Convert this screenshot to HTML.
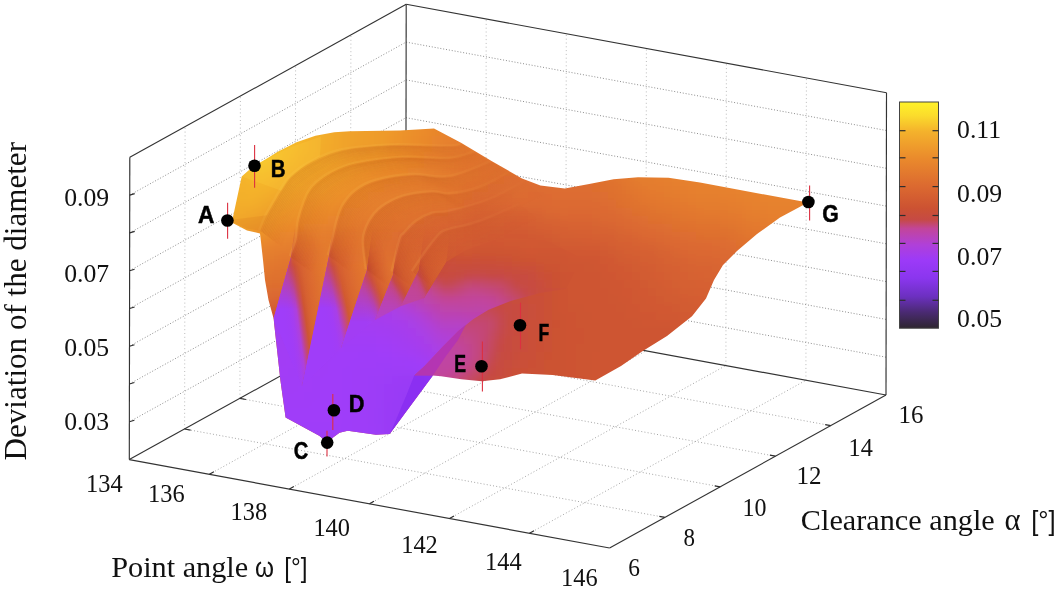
<!DOCTYPE html>
<html><head><meta charset="utf-8"><title>Surface plot</title>
<style>
html,body{margin:0;padding:0;background:#fff;}
body{width:1061px;height:590px;overflow:hidden;}
svg{display:block;}
.ax{stroke:#333;stroke-width:1.15;fill:none;}
.tk{stroke:#2e2e2e;stroke-width:1.2;fill:none;}
.gr{stroke:#b4b4b4;stroke-width:0.9;stroke-dasharray:1 2.8;fill:none;}
.gh{stroke:#8e8e8e;stroke-width:1;stroke-dasharray:1 1.9;fill:none;}
.gf{stroke:#9c9c9c;stroke-width:0.9;stroke-dasharray:1 2.2;fill:none;}
.se{font-family:"Liberation Serif",serif;fill:#111;}
.sa{font-family:"Liberation Sans",sans-serif;fill:#111;}
.lb{font-family:"Liberation Sans",sans-serif;font-weight:bold;fill:#000;font-size:23.5px;stroke:#000;stroke-width:0.5px;}
.eb{stroke:#dc3040;stroke-width:1.1;}
</style></head><body>
<svg width="1061" height="590" viewBox="0 0 1061 590">
<rect width="1061" height="590" fill="#ffffff"/>
<g><line x1="129.4" y1="421.8" x2="405.8" y2="268.8" class="gh"/><line x1="405.8" y1="268.8" x2="886.1" y2="357.2" class="gh"/><line x1="129.4" y1="384.0" x2="405.8" y2="231.0" class="gh"/><line x1="405.8" y1="231.0" x2="886.1" y2="319.4" class="gh"/><line x1="129.5" y1="346.2" x2="405.9" y2="193.2" class="gh"/><line x1="405.9" y1="193.2" x2="886.2" y2="281.6" class="gh"/><line x1="129.6" y1="308.5" x2="405.9" y2="155.5" class="gh"/><line x1="405.9" y1="155.5" x2="886.2" y2="243.8" class="gh"/><line x1="129.6" y1="270.7" x2="406.0" y2="117.7" class="gh"/><line x1="406.0" y1="117.7" x2="886.3" y2="206.1" class="gh"/><line x1="129.7" y1="232.9" x2="406.1" y2="79.9" class="gh"/><line x1="406.1" y1="79.9" x2="886.4" y2="168.3" class="gh"/><line x1="129.7" y1="195.1" x2="406.1" y2="42.1" class="gh"/><line x1="406.1" y1="42.1" x2="886.4" y2="130.5" class="gh"/><line x1="184.6" y1="429.0" x2="185.1" y2="126.7" class="gr"/><line x1="184.6" y1="429.0" x2="664.9" y2="517.4" class="gf"/><line x1="239.9" y1="398.4" x2="240.4" y2="96.1" class="gr"/><line x1="239.9" y1="398.4" x2="720.2" y2="486.8" class="gf"/><line x1="295.1" y1="367.8" x2="295.6" y2="65.5" class="gr"/><line x1="295.1" y1="367.8" x2="775.4" y2="456.2" class="gf"/><line x1="350.4" y1="337.2" x2="350.9" y2="34.9" class="gr"/><line x1="350.4" y1="337.2" x2="830.7" y2="425.6" class="gf"/><line x1="485.8" y1="321.3" x2="486.2" y2="19.0" class="gr"/><line x1="209.4" y1="474.3" x2="485.8" y2="321.3" class="gf"/><line x1="565.8" y1="336.1" x2="566.3" y2="33.8" class="gr"/><line x1="289.4" y1="489.1" x2="565.8" y2="336.1" class="gf"/><line x1="645.9" y1="350.8" x2="646.4" y2="48.5" class="gr"/><line x1="369.5" y1="503.8" x2="645.9" y2="350.8" class="gf"/><line x1="725.9" y1="365.5" x2="726.4" y2="63.2" class="gr"/><line x1="449.5" y1="518.5" x2="725.9" y2="365.5" class="gf"/><line x1="805.9" y1="380.3" x2="806.4" y2="78.0" class="gr"/><line x1="529.5" y1="533.3" x2="805.9" y2="380.3" class="gf"/></g>
<g><line x1="129.3" y1="459.6" x2="405.7" y2="306.6" class="ax"/><line x1="405.7" y1="306.6" x2="886.0" y2="395.0" class="ax"/><line x1="405.7" y1="306.6" x2="406.2" y2="4.3" class="ax"/><line x1="129.8" y1="157.3" x2="406.2" y2="4.3" class="ax"/><line x1="406.2" y1="4.3" x2="886.5" y2="92.7" class="ax"/><line x1="886.0" y1="395.0" x2="886.5" y2="92.7" class="ax"/><line x1="129.3" y1="459.6" x2="129.8" y2="157.3" class="ax"/><line x1="129.3" y1="459.6" x2="609.6" y2="548.0" class="ax"/><line x1="609.6" y1="548.0" x2="886.0" y2="395.0" class="ax"/><line x1="129.4" y1="421.8" x2="134.4" y2="420.3" class="tk"/><line x1="129.4" y1="384.0" x2="134.4" y2="382.5" class="tk"/><line x1="129.5" y1="346.2" x2="134.5" y2="344.7" class="tk"/><line x1="129.6" y1="308.5" x2="134.6" y2="307.0" class="tk"/><line x1="129.6" y1="270.7" x2="134.6" y2="269.2" class="tk"/><line x1="129.7" y1="232.9" x2="134.7" y2="231.4" class="tk"/><line x1="129.7" y1="195.1" x2="134.7" y2="193.6" class="tk"/><line x1="209.4" y1="474.3" x2="213.9" y2="471.8" class="tk"/><line x1="289.4" y1="489.1" x2="293.9" y2="486.6" class="tk"/><line x1="369.5" y1="503.8" x2="374.0" y2="501.3" class="tk"/><line x1="449.5" y1="518.5" x2="454.0" y2="516.0" class="tk"/><line x1="529.5" y1="533.3" x2="534.0" y2="530.8" class="tk"/><line x1="664.9" y1="517.4" x2="659.4" y2="516.4" class="tk"/><line x1="184.6" y1="429.0" x2="190.6" y2="430.1" class="tk"/><line x1="720.2" y1="486.8" x2="714.7" y2="485.8" class="tk"/><line x1="239.9" y1="398.4" x2="245.9" y2="399.5" class="tk"/><line x1="775.4" y1="456.2" x2="769.9" y2="455.2" class="tk"/><line x1="295.1" y1="367.8" x2="301.1" y2="368.9" class="tk"/><line x1="830.7" y1="425.6" x2="825.2" y2="424.6" class="tk"/><line x1="350.4" y1="337.2" x2="356.4" y2="338.3" class="tk"/></g>
<defs><clipPath id="oc"><path d="M227.5 220.3 L232.5 219.3 L241.7 176.6 L250.8 168.5 L254.5 165.8 L267.0 158.5 L277.7 151.8 L296.5 142.3 L315.4 135.7 L334.3 132.3 L349.7 131.2 L400.0 130.5 L434.0 128.5 L461.0 142.7 L491.5 161.0 L522.0 178.5 L540.4 185.5 L564.8 188.5 L589.2 183.9 L613.6 179.3 L638.0 177.2 L668.5 177.8 L700.0 182.4 L736.0 189.3 L808.0 202.6 L780.0 217.5 L757.0 234.0 L737.0 251.0 L723.0 265.0 L714.0 280.0 L706.0 298.6 L692.0 316.2 L667.0 336.0 L642.0 351.5 L621.0 366.0 L595.3 380.6 L552.6 375.1 L522.0 373.6 L500.0 379.3 L481.7 381.3 L461.3 379.3 L441.0 376.3 L432.9 375.4 L389.7 433.9 L376.0 434.8 L347.7 430.7 L339.5 432.7 L326.9 441.9 L319.2 435.8 L285.6 417.5 L280.5 380.9 L273.6 318.6 L268.5 300.0 L265.0 280.0 L263.0 260.0 L261.0 242.0 L260.0 233.5 L247.0 230.5 Z"/></clipPath><clipPath id="vc"><path d="M273.6 318.6 L291.0 257.0 L302.0 386.0 L329.0 256.0 L341.0 348.0 L367.0 270.0 L375.0 320.0 L393.0 275.0 L401.0 306.0 L419.0 270.0 L424.0 298.0 L446.0 262.0 L466.0 250.0 L500.0 238.0 L545.0 240.0 L582.0 258.0 L566.0 289.0 L540.0 293.0 L511.5 300.7 L488.6 309.8 L473.4 319.0 L458.1 331.2 L442.9 346.4 L424.6 366.0 L414.2 375.4 L440.0 376.0 L392.0 440.0 L380.0 445.0 L326.9 448.0 L280.0 425.0 L275.0 381.0 Z"/></clipPath><filter id="bl" x="-5%" y="-5%" width="110%" height="110%"><feGaussianBlur stdDeviation="3"/></filter><linearGradient id="q0" gradientUnits="userSpaceOnUse" x1="274.5" y1="325.1" x2="337.4" y2="316.3"><stop offset="0.000" stop-color="#a03df9"/><stop offset="0.062" stop-color="#a03df9"/><stop offset="0.125" stop-color="#a03df9"/><stop offset="0.188" stop-color="#a03df8"/><stop offset="0.250" stop-color="#a13df6"/><stop offset="0.312" stop-color="#a53eef"/><stop offset="0.375" stop-color="#af40da"/><stop offset="0.438" stop-color="#c3477a"/><stop offset="0.500" stop-color="#ce5532"/><stop offset="0.562" stop-color="#d66131"/><stop offset="0.625" stop-color="#da6730"/><stop offset="0.688" stop-color="#dd6b30"/><stop offset="0.750" stop-color="#de702f"/><stop offset="0.812" stop-color="#e0742f"/><stop offset="0.875" stop-color="#e2772e"/><stop offset="0.938" stop-color="#e47b2e"/><stop offset="1.000" stop-color="#e57f2d"/></linearGradient><linearGradient id="q0h" gradientUnits="userSpaceOnUse" x1="274.5" y1="325.1" x2="337.4" y2="316.3"><stop offset="0.000" stop-color="#c3468f"/><stop offset="0.062" stop-color="#c3468f"/><stop offset="0.125" stop-color="#c3468f"/><stop offset="0.188" stop-color="#c3468e"/><stop offset="0.250" stop-color="#c34689"/><stop offset="0.312" stop-color="#c3477a"/><stop offset="0.375" stop-color="#c6494e"/><stop offset="0.438" stop-color="#cb5135"/><stop offset="0.500" stop-color="#d25b31"/><stop offset="0.562" stop-color="#d76331"/><stop offset="0.625" stop-color="#da6830"/><stop offset="0.688" stop-color="#dd6c30"/><stop offset="0.750" stop-color="#de702f"/><stop offset="0.812" stop-color="#e0742f"/><stop offset="0.875" stop-color="#e2772e"/><stop offset="0.938" stop-color="#e47b2e"/><stop offset="1.000" stop-color="#e57f2d"/></linearGradient><linearGradient id="mh0" gradientUnits="userSpaceOnUse" x1="0" y1="263.0" x2="0" y2="309.0"><stop offset="0" stop-color="#fff"/><stop offset="1" stop-color="#000"/></linearGradient><mask id="qh0" maskUnits="userSpaceOnUse" x="200" y="100" width="400" height="400"><rect x="200" y="100" width="400" height="400" fill="url(#mh0)"/></mask><linearGradient id="q1" gradientUnits="userSpaceOnUse" x1="286.9" y1="312.7" x2="372.2" y2="295.0"><stop offset="0.000" stop-color="#a03df9"/><stop offset="0.062" stop-color="#a03df9"/><stop offset="0.125" stop-color="#a03df9"/><stop offset="0.188" stop-color="#a03df9"/><stop offset="0.250" stop-color="#a03df9"/><stop offset="0.312" stop-color="#a03df9"/><stop offset="0.375" stop-color="#a03df9"/><stop offset="0.438" stop-color="#a03df8"/><stop offset="0.500" stop-color="#a23df5"/><stop offset="0.562" stop-color="#a93fe6"/><stop offset="0.625" stop-color="#c3468e"/><stop offset="0.688" stop-color="#d15931"/><stop offset="0.750" stop-color="#d86530"/><stop offset="0.812" stop-color="#dc6b30"/><stop offset="0.875" stop-color="#df702f"/><stop offset="0.938" stop-color="#e1752f"/><stop offset="1.000" stop-color="#e37a2e"/></linearGradient><linearGradient id="q1h" gradientUnits="userSpaceOnUse" x1="286.9" y1="312.7" x2="372.2" y2="295.0"><stop offset="0.000" stop-color="#c3468f"/><stop offset="0.062" stop-color="#c3468f"/><stop offset="0.125" stop-color="#c3468f"/><stop offset="0.188" stop-color="#c3468f"/><stop offset="0.250" stop-color="#c3468f"/><stop offset="0.312" stop-color="#c3468f"/><stop offset="0.375" stop-color="#c3468f"/><stop offset="0.438" stop-color="#c3468e"/><stop offset="0.500" stop-color="#c34688"/><stop offset="0.562" stop-color="#c44867"/><stop offset="0.625" stop-color="#ca5037"/><stop offset="0.688" stop-color="#d45e31"/><stop offset="0.750" stop-color="#d96530"/><stop offset="0.812" stop-color="#dc6b30"/><stop offset="0.875" stop-color="#df702f"/><stop offset="0.938" stop-color="#e1752f"/><stop offset="1.000" stop-color="#e37a2e"/></linearGradient><linearGradient id="mh1" gradientUnits="userSpaceOnUse" x1="0" y1="262.0" x2="0" y2="308.0"><stop offset="0" stop-color="#fff"/><stop offset="1" stop-color="#000"/></linearGradient><mask id="qh1" maskUnits="userSpaceOnUse" x="200" y="100" width="400" height="400"><rect x="200" y="100" width="400" height="400" fill="url(#mh1)"/></mask><linearGradient id="q2" gradientUnits="userSpaceOnUse" x1="329.2" y1="308.6" x2="397.0" y2="288.3"><stop offset="0.000" stop-color="#a23df4"/><stop offset="0.062" stop-color="#a23df4"/><stop offset="0.125" stop-color="#a23df4"/><stop offset="0.188" stop-color="#a23df4"/><stop offset="0.250" stop-color="#a23df4"/><stop offset="0.312" stop-color="#a23df4"/><stop offset="0.375" stop-color="#a23df4"/><stop offset="0.438" stop-color="#a23df4"/><stop offset="0.500" stop-color="#a33ef3"/><stop offset="0.562" stop-color="#a53eee"/><stop offset="0.625" stop-color="#ad3fde"/><stop offset="0.688" stop-color="#c24596"/><stop offset="0.750" stop-color="#ce5532"/><stop offset="0.812" stop-color="#d66231"/><stop offset="0.875" stop-color="#db6830"/><stop offset="0.938" stop-color="#dd6d30"/><stop offset="1.000" stop-color="#df722f"/></linearGradient><linearGradient id="q2h" gradientUnits="userSpaceOnUse" x1="329.2" y1="308.6" x2="397.0" y2="288.3"><stop offset="0.000" stop-color="#c3468f"/><stop offset="0.062" stop-color="#c3468f"/><stop offset="0.125" stop-color="#c3468f"/><stop offset="0.188" stop-color="#c3468f"/><stop offset="0.250" stop-color="#c3468f"/><stop offset="0.312" stop-color="#c3468f"/><stop offset="0.375" stop-color="#c3468f"/><stop offset="0.438" stop-color="#c3468f"/><stop offset="0.500" stop-color="#c3468c"/><stop offset="0.562" stop-color="#c34683"/><stop offset="0.625" stop-color="#c5485f"/><stop offset="0.688" stop-color="#ca4f39"/><stop offset="0.750" stop-color="#d25b31"/><stop offset="0.812" stop-color="#d86331"/><stop offset="0.875" stop-color="#db6930"/><stop offset="0.938" stop-color="#dd6d30"/><stop offset="1.000" stop-color="#df722f"/></linearGradient><linearGradient id="mh2" gradientUnits="userSpaceOnUse" x1="0" y1="276.0" x2="0" y2="322.0"><stop offset="0" stop-color="#fff"/><stop offset="1" stop-color="#000"/></linearGradient><mask id="qh2" maskUnits="userSpaceOnUse" x="200" y="100" width="400" height="400"><rect x="200" y="100" width="400" height="400" fill="url(#mh2)"/></mask><linearGradient id="q3" gradientUnits="userSpaceOnUse" x1="368.3" y1="306.1" x2="423.5" y2="279.4"><stop offset="0.000" stop-color="#b040d8"/><stop offset="0.062" stop-color="#b040d8"/><stop offset="0.125" stop-color="#b040d8"/><stop offset="0.188" stop-color="#b040d8"/><stop offset="0.250" stop-color="#b040d8"/><stop offset="0.312" stop-color="#b040d8"/><stop offset="0.375" stop-color="#b040d6"/><stop offset="0.438" stop-color="#b240d3"/><stop offset="0.500" stop-color="#b541c6"/><stop offset="0.562" stop-color="#bf44a6"/><stop offset="0.625" stop-color="#c84c3f"/><stop offset="0.688" stop-color="#cf5732"/><stop offset="0.750" stop-color="#d45e31"/><stop offset="0.812" stop-color="#d66131"/><stop offset="0.875" stop-color="#d86431"/><stop offset="0.938" stop-color="#d96630"/><stop offset="1.000" stop-color="#da6830"/></linearGradient><linearGradient id="q3h" gradientUnits="userSpaceOnUse" x1="368.3" y1="306.1" x2="423.5" y2="279.4"><stop offset="0.000" stop-color="#c3468f"/><stop offset="0.062" stop-color="#c3468f"/><stop offset="0.125" stop-color="#c3468f"/><stop offset="0.188" stop-color="#c3468f"/><stop offset="0.250" stop-color="#c3468f"/><stop offset="0.312" stop-color="#c3468f"/><stop offset="0.375" stop-color="#c3468d"/><stop offset="0.438" stop-color="#c34687"/><stop offset="0.500" stop-color="#c44775"/><stop offset="0.562" stop-color="#c64a44"/><stop offset="0.625" stop-color="#cb5134"/><stop offset="0.688" stop-color="#d15a31"/><stop offset="0.750" stop-color="#d55f31"/><stop offset="0.812" stop-color="#d76231"/><stop offset="0.875" stop-color="#d86431"/><stop offset="0.938" stop-color="#d96630"/><stop offset="1.000" stop-color="#da6830"/></linearGradient><linearGradient id="mh3" gradientUnits="userSpaceOnUse" x1="0" y1="281.0" x2="0" y2="327.0"><stop offset="0" stop-color="#fff"/><stop offset="1" stop-color="#000"/></linearGradient><mask id="qh3" maskUnits="userSpaceOnUse" x="200" y="100" width="400" height="400"><rect x="200" y="100" width="400" height="400" fill="url(#mh3)"/></mask><linearGradient id="q4" gradientUnits="userSpaceOnUse" x1="396.8" y1="296.1" x2="450.7" y2="273.0"><stop offset="0.000" stop-color="#bd44ac"/><stop offset="0.062" stop-color="#bd44ac"/><stop offset="0.125" stop-color="#bd44ac"/><stop offset="0.188" stop-color="#bd44ac"/><stop offset="0.250" stop-color="#bd44ab"/><stop offset="0.312" stop-color="#bd44aa"/><stop offset="0.375" stop-color="#be44a7"/><stop offset="0.438" stop-color="#c1459e"/><stop offset="0.500" stop-color="#c4486c"/><stop offset="0.562" stop-color="#c94e3a"/><stop offset="0.625" stop-color="#cf5632"/><stop offset="0.688" stop-color="#d35c31"/><stop offset="0.750" stop-color="#d45e31"/><stop offset="0.812" stop-color="#d56031"/><stop offset="0.875" stop-color="#d66131"/><stop offset="0.938" stop-color="#d76231"/><stop offset="1.000" stop-color="#d76331"/></linearGradient><linearGradient id="q4h" gradientUnits="userSpaceOnUse" x1="396.8" y1="296.1" x2="450.7" y2="273.0"><stop offset="0.000" stop-color="#c3468f"/><stop offset="0.062" stop-color="#c3468f"/><stop offset="0.125" stop-color="#c3468f"/><stop offset="0.188" stop-color="#c3468f"/><stop offset="0.250" stop-color="#c3468e"/><stop offset="0.312" stop-color="#c3468d"/><stop offset="0.375" stop-color="#c34687"/><stop offset="0.438" stop-color="#c44774"/><stop offset="0.500" stop-color="#c64a45"/><stop offset="0.562" stop-color="#cb5036"/><stop offset="0.625" stop-color="#d05832"/><stop offset="0.688" stop-color="#d35c31"/><stop offset="0.750" stop-color="#d45e31"/><stop offset="0.812" stop-color="#d56031"/><stop offset="0.875" stop-color="#d66131"/><stop offset="0.938" stop-color="#d76231"/><stop offset="1.000" stop-color="#d76331"/></linearGradient><linearGradient id="mh4" gradientUnits="userSpaceOnUse" x1="0" y1="276.0" x2="0" y2="322.0"><stop offset="0" stop-color="#fff"/><stop offset="1" stop-color="#000"/></linearGradient><mask id="qh4" maskUnits="userSpaceOnUse" x="200" y="100" width="400" height="400"><rect x="200" y="100" width="400" height="400" fill="url(#mh4)"/></mask><linearGradient id="mg" gradientUnits="userSpaceOnUse" x1="0" y1="226" x2="0" y2="266"><stop offset="0" stop-color="#000"/><stop offset="1" stop-color="#fff"/></linearGradient><mask id="qm" maskUnits="userSpaceOnUse" x="200" y="100" width="400" height="400"><rect x="200" y="100" width="400" height="400" fill="url(#mg)"/></mask><linearGradient id="hmg" gradientUnits="userSpaceOnUse" x1="390" y1="0" x2="520" y2="0"><stop offset="0" stop-color="#fff"/><stop offset="1" stop-color="#1c1c1c"/></linearGradient><mask id="hm" maskUnits="userSpaceOnUse" x="200" y="100" width="400" height="300"><rect x="200" y="100" width="400" height="300" fill="url(#hmg)"/></mask></defs>
<g clip-path="url(#oc)"><g filter="url(#bl)"><rect x="336" y="112" width="9" height="9" fill="#f1a82c"/><rect x="344" y="112" width="9" height="9" fill="#f1a52c"/><rect x="352" y="112" width="9" height="9" fill="#f0a32c"/><rect x="360" y="112" width="9" height="9" fill="#f0a12c"/><rect x="368" y="112" width="9" height="9" fill="#ef9f2c"/><rect x="376" y="112" width="9" height="9" fill="#ef9d2c"/><rect x="384" y="112" width="9" height="9" fill="#ee9a2c"/><rect x="392" y="112" width="9" height="9" fill="#ed982c"/><rect x="400" y="112" width="9" height="9" fill="#ed952c"/><rect x="408" y="112" width="9" height="9" fill="#ec922c"/><rect x="416" y="112" width="9" height="9" fill="#eb8f2c"/><rect x="424" y="112" width="9" height="9" fill="#eb8c2c"/><rect x="432" y="112" width="9" height="9" fill="#ea8a2c"/><rect x="440" y="112" width="9" height="9" fill="#e9882c"/><rect x="304" y="120" width="9" height="9" fill="#f4b22c"/><rect x="312" y="120" width="9" height="9" fill="#f3af2c"/><rect x="320" y="120" width="9" height="9" fill="#f3ad2c"/><rect x="328" y="120" width="9" height="9" fill="#f2aa2c"/><rect x="336" y="120" width="9" height="9" fill="#f1a62c"/><rect x="344" y="120" width="9" height="9" fill="#f0a42c"/><rect x="352" y="120" width="9" height="9" fill="#f0a12c"/><rect x="360" y="120" width="9" height="9" fill="#efa02c"/><rect x="368" y="120" width="9" height="9" fill="#ef9e2c"/><rect x="376" y="120" width="9" height="9" fill="#ee9c2c"/><rect x="384" y="120" width="9" height="9" fill="#ee992c"/><rect x="392" y="120" width="9" height="9" fill="#ed972c"/><rect x="400" y="120" width="9" height="9" fill="#ec942c"/><rect x="408" y="120" width="9" height="9" fill="#ec912c"/><rect x="416" y="120" width="9" height="9" fill="#eb8e2c"/><rect x="424" y="120" width="9" height="9" fill="#ea8a2c"/><rect x="432" y="120" width="9" height="9" fill="#e9882c"/><rect x="440" y="120" width="9" height="9" fill="#e8862d"/><rect x="448" y="120" width="9" height="9" fill="#e7842d"/><rect x="280" y="128" width="9" height="9" fill="#f6be2c"/><rect x="288" y="128" width="9" height="9" fill="#f5ba2c"/><rect x="296" y="128" width="9" height="9" fill="#f5b62c"/><rect x="304" y="128" width="9" height="9" fill="#f4b22c"/><rect x="312" y="128" width="9" height="9" fill="#f3af2c"/><rect x="320" y="128" width="9" height="9" fill="#f2ac2c"/><rect x="328" y="128" width="9" height="9" fill="#f2a92c"/><rect x="336" y="128" width="9" height="9" fill="#f1a62c"/><rect x="344" y="128" width="9" height="9" fill="#f0a22c"/><rect x="352" y="128" width="9" height="9" fill="#f0a02c"/><rect x="360" y="128" width="9" height="9" fill="#ef9f2c"/><rect x="368" y="128" width="9" height="9" fill="#ef9d2c"/><rect x="376" y="128" width="9" height="9" fill="#ee9b2c"/><rect x="384" y="128" width="9" height="9" fill="#ee992c"/><rect x="392" y="128" width="9" height="9" fill="#ed962c"/><rect x="400" y="128" width="9" height="9" fill="#ec922c"/><rect x="408" y="128" width="9" height="9" fill="#eb8f2c"/><rect x="416" y="128" width="9" height="9" fill="#eb8c2c"/><rect x="424" y="128" width="9" height="9" fill="#ea892c"/><rect x="432" y="128" width="9" height="9" fill="#e8862c"/><rect x="440" y="128" width="9" height="9" fill="#e7842d"/><rect x="448" y="128" width="9" height="9" fill="#e6822d"/><rect x="456" y="128" width="9" height="9" fill="#e6802d"/><rect x="464" y="128" width="9" height="9" fill="#e57e2d"/><rect x="264" y="136" width="9" height="9" fill="#f7c32c"/><rect x="272" y="136" width="9" height="9" fill="#f6c02c"/><rect x="280" y="136" width="9" height="9" fill="#f6bd2c"/><rect x="288" y="136" width="9" height="9" fill="#f5ba2c"/><rect x="296" y="136" width="9" height="9" fill="#f5b62c"/><rect x="304" y="136" width="9" height="9" fill="#f4b12c"/><rect x="312" y="136" width="9" height="9" fill="#f3ae2c"/><rect x="320" y="136" width="9" height="9" fill="#f2ac2c"/><rect x="328" y="136" width="9" height="9" fill="#f2a92c"/><rect x="336" y="136" width="9" height="9" fill="#f1a52c"/><rect x="344" y="136" width="9" height="9" fill="#f0a22c"/><rect x="352" y="136" width="9" height="9" fill="#efa02c"/><rect x="360" y="136" width="9" height="9" fill="#ef9e2c"/><rect x="368" y="136" width="9" height="9" fill="#ef9d2c"/><rect x="376" y="136" width="9" height="9" fill="#ee9b2c"/><rect x="384" y="136" width="9" height="9" fill="#ee982c"/><rect x="392" y="136" width="9" height="9" fill="#ed952c"/><rect x="400" y="136" width="9" height="9" fill="#ec912c"/><rect x="408" y="136" width="9" height="9" fill="#eb8e2c"/><rect x="416" y="136" width="9" height="9" fill="#ea8b2c"/><rect x="424" y="136" width="9" height="9" fill="#e9882c"/><rect x="432" y="136" width="9" height="9" fill="#e8852d"/><rect x="440" y="136" width="9" height="9" fill="#e7822d"/><rect x="448" y="136" width="9" height="9" fill="#e6802d"/><rect x="456" y="136" width="9" height="9" fill="#e57e2e"/><rect x="464" y="136" width="9" height="9" fill="#e47c2e"/><rect x="472" y="136" width="9" height="9" fill="#e37b2e"/><rect x="480" y="136" width="9" height="9" fill="#e3792e"/><rect x="256" y="144" width="9" height="9" fill="#f7c52c"/><rect x="264" y="144" width="9" height="9" fill="#f7c32c"/><rect x="272" y="144" width="9" height="9" fill="#f6c02c"/><rect x="280" y="144" width="9" height="9" fill="#f6bc2c"/><rect x="288" y="144" width="9" height="9" fill="#f5b92c"/><rect x="296" y="144" width="9" height="9" fill="#f4b52c"/><rect x="304" y="144" width="9" height="9" fill="#f4b12c"/><rect x="312" y="144" width="9" height="9" fill="#f3ae2c"/><rect x="320" y="144" width="9" height="9" fill="#f2ab2c"/><rect x="328" y="144" width="9" height="9" fill="#f2a82c"/><rect x="336" y="144" width="9" height="9" fill="#f1a52c"/><rect x="344" y="144" width="9" height="9" fill="#f0a22c"/><rect x="352" y="144" width="9" height="9" fill="#ef9f2c"/><rect x="360" y="144" width="9" height="9" fill="#ef9d2c"/><rect x="368" y="144" width="9" height="9" fill="#ef9c2c"/><rect x="376" y="144" width="9" height="9" fill="#ee9b2c"/><rect x="384" y="144" width="9" height="9" fill="#ed972c"/><rect x="392" y="144" width="9" height="9" fill="#ec932c"/><rect x="400" y="144" width="9" height="9" fill="#ec902c"/><rect x="408" y="144" width="9" height="9" fill="#eb8d2c"/><rect x="416" y="144" width="9" height="9" fill="#ea8a2c"/><rect x="424" y="144" width="9" height="9" fill="#e9872c"/><rect x="432" y="144" width="9" height="9" fill="#e7842d"/><rect x="440" y="144" width="9" height="9" fill="#e6812d"/><rect x="448" y="144" width="9" height="9" fill="#e57e2d"/><rect x="456" y="144" width="9" height="9" fill="#e47c2e"/><rect x="464" y="144" width="9" height="9" fill="#e37a2e"/><rect x="472" y="144" width="9" height="9" fill="#e2792e"/><rect x="480" y="144" width="9" height="9" fill="#e2772e"/><rect x="488" y="144" width="9" height="9" fill="#e1762f"/><rect x="496" y="144" width="9" height="9" fill="#e1752f"/><rect x="240" y="152" width="9" height="9" fill="#f7c22c"/><rect x="248" y="152" width="9" height="9" fill="#f7c42c"/><rect x="256" y="152" width="9" height="9" fill="#f7c52c"/><rect x="264" y="152" width="9" height="9" fill="#f7c32c"/><rect x="272" y="152" width="9" height="9" fill="#f6bf2c"/><rect x="280" y="152" width="9" height="9" fill="#f5bb2c"/><rect x="288" y="152" width="9" height="9" fill="#f5b72c"/><rect x="296" y="152" width="9" height="9" fill="#f4b22c"/><rect x="304" y="152" width="9" height="9" fill="#f3b02c"/><rect x="312" y="152" width="9" height="9" fill="#f3ad2c"/><rect x="320" y="152" width="9" height="9" fill="#f2aa2c"/><rect x="328" y="152" width="9" height="9" fill="#f1a82c"/><rect x="336" y="152" width="9" height="9" fill="#f0a42c"/><rect x="344" y="152" width="9" height="9" fill="#f0a02c"/><rect x="352" y="152" width="9" height="9" fill="#ef9e2c"/><rect x="360" y="152" width="9" height="9" fill="#ee9b2c"/><rect x="368" y="152" width="9" height="9" fill="#ee9a2c"/><rect x="376" y="152" width="9" height="9" fill="#ed982c"/><rect x="384" y="152" width="9" height="9" fill="#ed942c"/><rect x="392" y="152" width="9" height="9" fill="#ec912c"/><rect x="400" y="152" width="9" height="9" fill="#eb8e2c"/><rect x="408" y="152" width="9" height="9" fill="#ea8b2c"/><rect x="416" y="152" width="9" height="9" fill="#e9882c"/><rect x="424" y="152" width="9" height="9" fill="#e8852d"/><rect x="432" y="152" width="9" height="9" fill="#e7822d"/><rect x="440" y="152" width="9" height="9" fill="#e5802d"/><rect x="448" y="152" width="9" height="9" fill="#e47d2e"/><rect x="456" y="152" width="9" height="9" fill="#e37b2e"/><rect x="464" y="152" width="9" height="9" fill="#e2792e"/><rect x="472" y="152" width="9" height="9" fill="#e2772e"/><rect x="480" y="152" width="9" height="9" fill="#e1752f"/><rect x="488" y="152" width="9" height="9" fill="#e0732f"/><rect x="496" y="152" width="9" height="9" fill="#e0732f"/><rect x="504" y="152" width="9" height="9" fill="#e0732f"/><rect x="232" y="160" width="9" height="9" fill="#f6bb2c"/><rect x="240" y="160" width="9" height="9" fill="#f6be2c"/><rect x="248" y="160" width="9" height="9" fill="#f7c32c"/><rect x="256" y="160" width="9" height="9" fill="#f7c42c"/><rect x="264" y="160" width="9" height="9" fill="#f7c12c"/><rect x="272" y="160" width="9" height="9" fill="#f6bd2c"/><rect x="280" y="160" width="9" height="9" fill="#f5b82c"/><rect x="288" y="160" width="9" height="9" fill="#f4b42c"/><rect x="296" y="160" width="9" height="9" fill="#f4b02c"/><rect x="304" y="160" width="9" height="9" fill="#f3ae2c"/><rect x="312" y="160" width="9" height="9" fill="#f2ab2c"/><rect x="320" y="160" width="9" height="9" fill="#f2a82c"/><rect x="328" y="160" width="9" height="9" fill="#f1a52c"/><rect x="336" y="160" width="9" height="9" fill="#f0a22c"/><rect x="344" y="160" width="9" height="9" fill="#ef9e2c"/><rect x="352" y="160" width="9" height="9" fill="#ee9b2c"/><rect x="360" y="160" width="9" height="9" fill="#ee982c"/><rect x="368" y="160" width="9" height="9" fill="#ed962c"/><rect x="376" y="160" width="9" height="9" fill="#ec932c"/><rect x="384" y="160" width="9" height="9" fill="#ec912c"/><rect x="392" y="160" width="9" height="9" fill="#eb8e2c"/><rect x="400" y="160" width="9" height="9" fill="#ea8b2c"/><rect x="408" y="160" width="9" height="9" fill="#e9882c"/><rect x="416" y="160" width="9" height="9" fill="#e8862c"/><rect x="424" y="160" width="9" height="9" fill="#e7832d"/><rect x="432" y="160" width="9" height="9" fill="#e6812d"/><rect x="440" y="160" width="9" height="9" fill="#e57e2d"/><rect x="448" y="160" width="9" height="9" fill="#e47b2e"/><rect x="456" y="160" width="9" height="9" fill="#e3792e"/><rect x="464" y="160" width="9" height="9" fill="#e2772e"/><rect x="472" y="160" width="9" height="9" fill="#e1752f"/><rect x="480" y="160" width="9" height="9" fill="#e0732f"/><rect x="488" y="160" width="9" height="9" fill="#df722f"/><rect x="496" y="160" width="9" height="9" fill="#df712f"/><rect x="504" y="160" width="9" height="9" fill="#df712f"/><rect x="512" y="160" width="9" height="9" fill="#df702f"/><rect x="520" y="160" width="9" height="9" fill="#df702f"/><rect x="608" y="160" width="9" height="9" fill="#e2782e"/><rect x="616" y="160" width="9" height="9" fill="#e37a2e"/><rect x="624" y="160" width="9" height="9" fill="#e47c2e"/><rect x="632" y="160" width="9" height="9" fill="#e57e2e"/><rect x="640" y="160" width="9" height="9" fill="#e57f2d"/><rect x="648" y="160" width="9" height="9" fill="#e6802d"/><rect x="656" y="160" width="9" height="9" fill="#e6812d"/><rect x="664" y="160" width="9" height="9" fill="#e6822d"/><rect x="672" y="160" width="9" height="9" fill="#e7832d"/><rect x="680" y="160" width="9" height="9" fill="#e7832d"/><rect x="224" y="168" width="9" height="9" fill="#f5b62c"/><rect x="232" y="168" width="9" height="9" fill="#f5b62c"/><rect x="240" y="168" width="9" height="9" fill="#f5b72c"/><rect x="248" y="168" width="9" height="9" fill="#f6bc2c"/><rect x="256" y="168" width="9" height="9" fill="#f6be2c"/><rect x="264" y="168" width="9" height="9" fill="#f6bc2c"/><rect x="272" y="168" width="9" height="9" fill="#f5b82c"/><rect x="280" y="168" width="9" height="9" fill="#f4b32c"/><rect x="288" y="168" width="9" height="9" fill="#f4b02c"/><rect x="296" y="168" width="9" height="9" fill="#f3ae2c"/><rect x="304" y="168" width="9" height="9" fill="#f2aa2c"/><rect x="312" y="168" width="9" height="9" fill="#f1a72c"/><rect x="320" y="168" width="9" height="9" fill="#f1a42c"/><rect x="328" y="168" width="9" height="9" fill="#f0a12c"/><rect x="336" y="168" width="9" height="9" fill="#ef9e2c"/><rect x="344" y="168" width="9" height="9" fill="#ee9b2c"/><rect x="352" y="168" width="9" height="9" fill="#ed972c"/><rect x="360" y="168" width="9" height="9" fill="#ed942c"/><rect x="368" y="168" width="9" height="9" fill="#ec922c"/><rect x="376" y="168" width="9" height="9" fill="#eb8f2c"/><rect x="384" y="168" width="9" height="9" fill="#eb8c2c"/><rect x="392" y="168" width="9" height="9" fill="#ea8a2c"/><rect x="400" y="168" width="9" height="9" fill="#e9882c"/><rect x="408" y="168" width="9" height="9" fill="#e8862d"/><rect x="416" y="168" width="9" height="9" fill="#e7842d"/><rect x="424" y="168" width="9" height="9" fill="#e6812d"/><rect x="432" y="168" width="9" height="9" fill="#e57f2d"/><rect x="440" y="168" width="9" height="9" fill="#e47d2e"/><rect x="448" y="168" width="9" height="9" fill="#e37a2e"/><rect x="456" y="168" width="9" height="9" fill="#e2782e"/><rect x="464" y="168" width="9" height="9" fill="#e1762f"/><rect x="472" y="168" width="9" height="9" fill="#e0742f"/><rect x="480" y="168" width="9" height="9" fill="#e0722f"/><rect x="488" y="168" width="9" height="9" fill="#df712f"/><rect x="496" y="168" width="9" height="9" fill="#de702f"/><rect x="504" y="168" width="9" height="9" fill="#de6f2f"/><rect x="512" y="168" width="9" height="9" fill="#de6f2f"/><rect x="520" y="168" width="9" height="9" fill="#de6e2f"/><rect x="528" y="168" width="9" height="9" fill="#de6f2f"/><rect x="536" y="168" width="9" height="9" fill="#de6f2f"/><rect x="544" y="168" width="9" height="9" fill="#de702f"/><rect x="552" y="168" width="9" height="9" fill="#df702f"/><rect x="568" y="168" width="9" height="9" fill="#df702f"/><rect x="576" y="168" width="9" height="9" fill="#df712f"/><rect x="584" y="168" width="9" height="9" fill="#df712f"/><rect x="592" y="168" width="9" height="9" fill="#e0722f"/><rect x="600" y="168" width="9" height="9" fill="#e0742f"/><rect x="608" y="168" width="9" height="9" fill="#e1752f"/><rect x="616" y="168" width="9" height="9" fill="#e2782e"/><rect x="624" y="168" width="9" height="9" fill="#e37a2e"/><rect x="632" y="168" width="9" height="9" fill="#e47d2e"/><rect x="640" y="168" width="9" height="9" fill="#e57e2d"/><rect x="648" y="168" width="9" height="9" fill="#e57f2d"/><rect x="656" y="168" width="9" height="9" fill="#e6802d"/><rect x="664" y="168" width="9" height="9" fill="#e6812d"/><rect x="672" y="168" width="9" height="9" fill="#e6812d"/><rect x="680" y="168" width="9" height="9" fill="#e7822d"/><rect x="688" y="168" width="9" height="9" fill="#e7832d"/><rect x="696" y="168" width="9" height="9" fill="#e7842d"/><rect x="704" y="168" width="9" height="9" fill="#e7842d"/><rect x="712" y="168" width="9" height="9" fill="#e8842d"/><rect x="720" y="168" width="9" height="9" fill="#e8852d"/><rect x="224" y="176" width="9" height="9" fill="#f4b22c"/><rect x="232" y="176" width="9" height="9" fill="#f4b22c"/><rect x="240" y="176" width="9" height="9" fill="#f4b32c"/><rect x="248" y="176" width="9" height="9" fill="#f5b62c"/><rect x="256" y="176" width="9" height="9" fill="#f5b82c"/><rect x="264" y="176" width="9" height="9" fill="#f5b62c"/><rect x="272" y="176" width="9" height="9" fill="#f4b22c"/><rect x="280" y="176" width="9" height="9" fill="#f3af2c"/><rect x="288" y="176" width="9" height="9" fill="#f3ac2c"/><rect x="296" y="176" width="9" height="9" fill="#f2a92c"/><rect x="304" y="176" width="9" height="9" fill="#f1a62c"/><rect x="312" y="176" width="9" height="9" fill="#f0a32c"/><rect x="320" y="176" width="9" height="9" fill="#f0a02c"/><rect x="328" y="176" width="9" height="9" fill="#ef9d2c"/><rect x="336" y="176" width="9" height="9" fill="#ee9a2c"/><rect x="344" y="176" width="9" height="9" fill="#ed972c"/><rect x="352" y="176" width="9" height="9" fill="#ec932c"/><rect x="360" y="176" width="9" height="9" fill="#ec902c"/><rect x="368" y="176" width="9" height="9" fill="#eb8d2c"/><rect x="376" y="176" width="9" height="9" fill="#ea8a2c"/><rect x="384" y="176" width="9" height="9" fill="#e9882c"/><rect x="392" y="176" width="9" height="9" fill="#e8872c"/><rect x="400" y="176" width="9" height="9" fill="#e8852d"/><rect x="408" y="176" width="9" height="9" fill="#e7832d"/><rect x="416" y="176" width="9" height="9" fill="#e6812d"/><rect x="424" y="176" width="9" height="9" fill="#e57f2d"/><rect x="432" y="176" width="9" height="9" fill="#e47d2e"/><rect x="440" y="176" width="9" height="9" fill="#e37b2e"/><rect x="448" y="176" width="9" height="9" fill="#e2792e"/><rect x="456" y="176" width="9" height="9" fill="#e1762e"/><rect x="464" y="176" width="9" height="9" fill="#e1742f"/><rect x="472" y="176" width="9" height="9" fill="#e0732f"/><rect x="480" y="176" width="9" height="9" fill="#df712f"/><rect x="488" y="176" width="9" height="9" fill="#de6f2f"/><rect x="496" y="176" width="9" height="9" fill="#de6e2f"/><rect x="504" y="176" width="9" height="9" fill="#de6e30"/><rect x="512" y="176" width="9" height="9" fill="#dd6d30"/><rect x="520" y="176" width="9" height="9" fill="#dd6d30"/><rect x="528" y="176" width="9" height="9" fill="#dd6d30"/><rect x="536" y="176" width="9" height="9" fill="#de6e30"/><rect x="544" y="176" width="9" height="9" fill="#de6e30"/><rect x="552" y="176" width="9" height="9" fill="#de6e2f"/><rect x="560" y="176" width="9" height="9" fill="#de6e2f"/><rect x="568" y="176" width="9" height="9" fill="#de6f2f"/><rect x="576" y="176" width="9" height="9" fill="#de6f2f"/><rect x="584" y="176" width="9" height="9" fill="#de6f2f"/><rect x="592" y="176" width="9" height="9" fill="#df702f"/><rect x="600" y="176" width="9" height="9" fill="#df712f"/><rect x="608" y="176" width="9" height="9" fill="#e0732f"/><rect x="616" y="176" width="9" height="9" fill="#e1752f"/><rect x="624" y="176" width="9" height="9" fill="#e2782e"/><rect x="632" y="176" width="9" height="9" fill="#e37b2e"/><rect x="640" y="176" width="9" height="9" fill="#e47d2e"/><rect x="648" y="176" width="9" height="9" fill="#e47d2e"/><rect x="656" y="176" width="9" height="9" fill="#e57e2d"/><rect x="664" y="176" width="9" height="9" fill="#e57f2d"/><rect x="672" y="176" width="9" height="9" fill="#e6802d"/><rect x="680" y="176" width="9" height="9" fill="#e6812d"/><rect x="688" y="176" width="9" height="9" fill="#e6822d"/><rect x="696" y="176" width="9" height="9" fill="#e7822d"/><rect x="704" y="176" width="9" height="9" fill="#e7832d"/><rect x="712" y="176" width="9" height="9" fill="#e7832d"/><rect x="720" y="176" width="9" height="9" fill="#e7832d"/><rect x="728" y="176" width="9" height="9" fill="#e7842d"/><rect x="736" y="176" width="9" height="9" fill="#e7842d"/><rect x="744" y="176" width="9" height="9" fill="#e8852d"/><rect x="752" y="176" width="9" height="9" fill="#e8852d"/><rect x="760" y="176" width="9" height="9" fill="#e8852d"/><rect x="768" y="176" width="9" height="9" fill="#e8852d"/><rect x="224" y="184" width="9" height="9" fill="#f4b12c"/><rect x="232" y="184" width="9" height="9" fill="#f4b12c"/><rect x="240" y="184" width="9" height="9" fill="#f4b12c"/><rect x="248" y="184" width="9" height="9" fill="#f4b22c"/><rect x="256" y="184" width="9" height="9" fill="#f4b22c"/><rect x="264" y="184" width="9" height="9" fill="#f4b12c"/><rect x="272" y="184" width="9" height="9" fill="#f3ae2c"/><rect x="280" y="184" width="9" height="9" fill="#f2ab2c"/><rect x="288" y="184" width="9" height="9" fill="#f1a72c"/><rect x="296" y="184" width="9" height="9" fill="#f0a42c"/><rect x="304" y="184" width="9" height="9" fill="#f0a12c"/><rect x="312" y="184" width="9" height="9" fill="#ef9e2c"/><rect x="320" y="184" width="9" height="9" fill="#ee9b2c"/><rect x="328" y="184" width="9" height="9" fill="#ee982c"/><rect x="336" y="184" width="9" height="9" fill="#ed952c"/><rect x="344" y="184" width="9" height="9" fill="#ec922c"/><rect x="352" y="184" width="9" height="9" fill="#eb8f2c"/><rect x="360" y="184" width="9" height="9" fill="#ea8c2c"/><rect x="368" y="184" width="9" height="9" fill="#ea892c"/><rect x="376" y="184" width="9" height="9" fill="#e9872c"/><rect x="384" y="184" width="9" height="9" fill="#e8852d"/><rect x="392" y="184" width="9" height="9" fill="#e7832d"/><rect x="400" y="184" width="9" height="9" fill="#e6812d"/><rect x="408" y="184" width="9" height="9" fill="#e6802d"/><rect x="416" y="184" width="9" height="9" fill="#e57e2d"/><rect x="424" y="184" width="9" height="9" fill="#e47c2e"/><rect x="432" y="184" width="9" height="9" fill="#e37b2e"/><rect x="440" y="184" width="9" height="9" fill="#e3792e"/><rect x="448" y="184" width="9" height="9" fill="#e2772e"/><rect x="456" y="184" width="9" height="9" fill="#e1752f"/><rect x="464" y="184" width="9" height="9" fill="#e0722f"/><rect x="472" y="184" width="9" height="9" fill="#df702f"/><rect x="480" y="184" width="9" height="9" fill="#de6f2f"/><rect x="488" y="184" width="9" height="9" fill="#dd6d30"/><rect x="496" y="184" width="9" height="9" fill="#dd6d30"/><rect x="504" y="184" width="9" height="9" fill="#dd6d30"/><rect x="512" y="184" width="9" height="9" fill="#dd6d30"/><rect x="520" y="184" width="9" height="9" fill="#dd6d30"/><rect x="528" y="184" width="9" height="9" fill="#dd6c30"/><rect x="536" y="184" width="9" height="9" fill="#dd6c30"/><rect x="544" y="184" width="9" height="9" fill="#dd6d30"/><rect x="552" y="184" width="9" height="9" fill="#dd6d30"/><rect x="560" y="184" width="9" height="9" fill="#dd6d30"/><rect x="568" y="184" width="9" height="9" fill="#dd6d30"/><rect x="576" y="184" width="9" height="9" fill="#dd6d30"/><rect x="584" y="184" width="9" height="9" fill="#dd6d30"/><rect x="592" y="184" width="9" height="9" fill="#de6e2f"/><rect x="600" y="184" width="9" height="9" fill="#de702f"/><rect x="608" y="184" width="9" height="9" fill="#df712f"/><rect x="616" y="184" width="9" height="9" fill="#e0732f"/><rect x="624" y="184" width="9" height="9" fill="#e1762f"/><rect x="632" y="184" width="9" height="9" fill="#e2782e"/><rect x="640" y="184" width="9" height="9" fill="#e37a2e"/><rect x="648" y="184" width="9" height="9" fill="#e47b2e"/><rect x="656" y="184" width="9" height="9" fill="#e47c2e"/><rect x="664" y="184" width="9" height="9" fill="#e47d2e"/><rect x="672" y="184" width="9" height="9" fill="#e57e2e"/><rect x="680" y="184" width="9" height="9" fill="#e57f2d"/><rect x="688" y="184" width="9" height="9" fill="#e6802d"/><rect x="696" y="184" width="9" height="9" fill="#e6812d"/><rect x="704" y="184" width="9" height="9" fill="#e6812d"/><rect x="712" y="184" width="9" height="9" fill="#e6812d"/><rect x="720" y="184" width="9" height="9" fill="#e6822d"/><rect x="728" y="184" width="9" height="9" fill="#e7822d"/><rect x="736" y="184" width="9" height="9" fill="#e7832d"/><rect x="744" y="184" width="9" height="9" fill="#e7832d"/><rect x="752" y="184" width="9" height="9" fill="#e7842d"/><rect x="760" y="184" width="9" height="9" fill="#e7842d"/><rect x="768" y="184" width="9" height="9" fill="#e7842d"/><rect x="776" y="184" width="9" height="9" fill="#e8842d"/><rect x="784" y="184" width="9" height="9" fill="#e8842d"/><rect x="792" y="184" width="9" height="9" fill="#e8842d"/><rect x="800" y="184" width="9" height="9" fill="#e8842d"/><rect x="808" y="184" width="9" height="9" fill="#e7842d"/><rect x="224" y="192" width="9" height="9" fill="#f3af2c"/><rect x="232" y="192" width="9" height="9" fill="#f3b02c"/><rect x="240" y="192" width="9" height="9" fill="#f3b02c"/><rect x="248" y="192" width="9" height="9" fill="#f4b02c"/><rect x="256" y="192" width="9" height="9" fill="#f3af2c"/><rect x="264" y="192" width="9" height="9" fill="#f3ac2c"/><rect x="272" y="192" width="9" height="9" fill="#f2a92c"/><rect x="280" y="192" width="9" height="9" fill="#f1a52c"/><rect x="288" y="192" width="9" height="9" fill="#f0a22c"/><rect x="296" y="192" width="9" height="9" fill="#ef9e2c"/><rect x="304" y="192" width="9" height="9" fill="#ee9b2c"/><rect x="312" y="192" width="9" height="9" fill="#ee982c"/><rect x="320" y="192" width="9" height="9" fill="#ed962c"/><rect x="328" y="192" width="9" height="9" fill="#ec932c"/><rect x="336" y="192" width="9" height="9" fill="#ec902c"/><rect x="344" y="192" width="9" height="9" fill="#eb8d2c"/><rect x="352" y="192" width="9" height="9" fill="#ea8a2c"/><rect x="360" y="192" width="9" height="9" fill="#e9882c"/><rect x="368" y="192" width="9" height="9" fill="#e8852d"/><rect x="376" y="192" width="9" height="9" fill="#e7832d"/><rect x="384" y="192" width="9" height="9" fill="#e6812d"/><rect x="392" y="192" width="9" height="9" fill="#e5802d"/><rect x="400" y="192" width="9" height="9" fill="#e57e2e"/><rect x="408" y="192" width="9" height="9" fill="#e47c2e"/><rect x="416" y="192" width="9" height="9" fill="#e37b2e"/><rect x="424" y="192" width="9" height="9" fill="#e3792e"/><rect x="432" y="192" width="9" height="9" fill="#e2782e"/><rect x="440" y="192" width="9" height="9" fill="#e2772e"/><rect x="448" y="192" width="9" height="9" fill="#e1752f"/><rect x="456" y="192" width="9" height="9" fill="#e0722f"/><rect x="464" y="192" width="9" height="9" fill="#de6f2f"/><rect x="472" y="192" width="9" height="9" fill="#dd6d30"/><rect x="480" y="192" width="9" height="9" fill="#dd6c30"/><rect x="488" y="192" width="9" height="9" fill="#dc6b30"/><rect x="496" y="192" width="9" height="9" fill="#dc6a30"/><rect x="504" y="192" width="9" height="9" fill="#dc6b30"/><rect x="512" y="192" width="9" height="9" fill="#dd6c30"/><rect x="520" y="192" width="9" height="9" fill="#dd6c30"/><rect x="528" y="192" width="9" height="9" fill="#dd6b30"/><rect x="536" y="192" width="9" height="9" fill="#dc6b30"/><rect x="544" y="192" width="9" height="9" fill="#dd6b30"/><rect x="552" y="192" width="9" height="9" fill="#dd6c30"/><rect x="560" y="192" width="9" height="9" fill="#dd6c30"/><rect x="568" y="192" width="9" height="9" fill="#dd6c30"/><rect x="576" y="192" width="9" height="9" fill="#dd6c30"/><rect x="584" y="192" width="9" height="9" fill="#dd6c30"/><rect x="592" y="192" width="9" height="9" fill="#dd6d30"/><rect x="600" y="192" width="9" height="9" fill="#de6e30"/><rect x="608" y="192" width="9" height="9" fill="#de6f2f"/><rect x="616" y="192" width="9" height="9" fill="#df712f"/><rect x="624" y="192" width="9" height="9" fill="#e0732f"/><rect x="632" y="192" width="9" height="9" fill="#e1752f"/><rect x="640" y="192" width="9" height="9" fill="#e2772e"/><rect x="648" y="192" width="9" height="9" fill="#e3792e"/><rect x="656" y="192" width="9" height="9" fill="#e37a2e"/><rect x="664" y="192" width="9" height="9" fill="#e37b2e"/><rect x="672" y="192" width="9" height="9" fill="#e47c2e"/><rect x="680" y="192" width="9" height="9" fill="#e47d2e"/><rect x="688" y="192" width="9" height="9" fill="#e57e2e"/><rect x="696" y="192" width="9" height="9" fill="#e57f2d"/><rect x="704" y="192" width="9" height="9" fill="#e57f2d"/><rect x="712" y="192" width="9" height="9" fill="#e57f2d"/><rect x="720" y="192" width="9" height="9" fill="#e6802d"/><rect x="728" y="192" width="9" height="9" fill="#e6802d"/><rect x="736" y="192" width="9" height="9" fill="#e6812d"/><rect x="744" y="192" width="9" height="9" fill="#e6822d"/><rect x="752" y="192" width="9" height="9" fill="#e7822d"/><rect x="760" y="192" width="9" height="9" fill="#e7832d"/><rect x="768" y="192" width="9" height="9" fill="#e7832d"/><rect x="776" y="192" width="9" height="9" fill="#e7832d"/><rect x="784" y="192" width="9" height="9" fill="#e7832d"/><rect x="792" y="192" width="9" height="9" fill="#e7832d"/><rect x="800" y="192" width="9" height="9" fill="#e7832d"/><rect x="808" y="192" width="9" height="9" fill="#e7832d"/><rect x="816" y="192" width="9" height="9" fill="#e7832d"/><rect x="216" y="200" width="9" height="9" fill="#f3ad2c"/><rect x="224" y="200" width="9" height="9" fill="#f3ad2c"/><rect x="232" y="200" width="9" height="9" fill="#f3ae2c"/><rect x="240" y="200" width="9" height="9" fill="#f3ad2c"/><rect x="248" y="200" width="9" height="9" fill="#f3ad2c"/><rect x="256" y="200" width="9" height="9" fill="#f2aa2c"/><rect x="264" y="200" width="9" height="9" fill="#f1a72c"/><rect x="272" y="200" width="9" height="9" fill="#f0a32c"/><rect x="280" y="200" width="9" height="9" fill="#efa02c"/><rect x="288" y="200" width="9" height="9" fill="#ee9c2c"/><rect x="296" y="200" width="9" height="9" fill="#ee982c"/><rect x="304" y="200" width="9" height="9" fill="#ed952c"/><rect x="312" y="200" width="9" height="9" fill="#ec932c"/><rect x="320" y="200" width="9" height="9" fill="#ec902c"/><rect x="328" y="200" width="9" height="9" fill="#eb8e2c"/><rect x="336" y="200" width="9" height="9" fill="#ea8b2c"/><rect x="344" y="200" width="9" height="9" fill="#e9882c"/><rect x="352" y="200" width="9" height="9" fill="#e8862c"/><rect x="360" y="200" width="9" height="9" fill="#e7842d"/><rect x="368" y="200" width="9" height="9" fill="#e6822d"/><rect x="376" y="200" width="9" height="9" fill="#e5802d"/><rect x="384" y="200" width="9" height="9" fill="#e57e2e"/><rect x="392" y="200" width="9" height="9" fill="#e47c2e"/><rect x="400" y="200" width="9" height="9" fill="#e37a2e"/><rect x="408" y="200" width="9" height="9" fill="#e2792e"/><rect x="416" y="200" width="9" height="9" fill="#e2772e"/><rect x="424" y="200" width="9" height="9" fill="#e1762f"/><rect x="432" y="200" width="9" height="9" fill="#e0742f"/><rect x="440" y="200" width="9" height="9" fill="#e0732f"/><rect x="448" y="200" width="9" height="9" fill="#df712f"/><rect x="456" y="200" width="9" height="9" fill="#de6e2f"/><rect x="464" y="200" width="9" height="9" fill="#dd6c30"/><rect x="472" y="200" width="9" height="9" fill="#dc6930"/><rect x="480" y="200" width="9" height="9" fill="#db6830"/><rect x="488" y="200" width="9" height="9" fill="#da6730"/><rect x="496" y="200" width="9" height="9" fill="#da6730"/><rect x="504" y="200" width="9" height="9" fill="#db6830"/><rect x="512" y="200" width="9" height="9" fill="#db6930"/><rect x="520" y="200" width="9" height="9" fill="#dc6930"/><rect x="528" y="200" width="9" height="9" fill="#db6930"/><rect x="536" y="200" width="9" height="9" fill="#db6930"/><rect x="544" y="200" width="9" height="9" fill="#dc6930"/><rect x="552" y="200" width="9" height="9" fill="#dc6a30"/><rect x="560" y="200" width="9" height="9" fill="#dc6b30"/><rect x="568" y="200" width="9" height="9" fill="#dc6a30"/><rect x="576" y="200" width="9" height="9" fill="#dc6a30"/><rect x="584" y="200" width="9" height="9" fill="#dc6a30"/><rect x="592" y="200" width="9" height="9" fill="#dc6b30"/><rect x="600" y="200" width="9" height="9" fill="#dd6c30"/><rect x="608" y="200" width="9" height="9" fill="#dd6d30"/><rect x="616" y="200" width="9" height="9" fill="#de6f2f"/><rect x="624" y="200" width="9" height="9" fill="#df712f"/><rect x="632" y="200" width="9" height="9" fill="#e0732f"/><rect x="640" y="200" width="9" height="9" fill="#e1742f"/><rect x="648" y="200" width="9" height="9" fill="#e1762f"/><rect x="656" y="200" width="9" height="9" fill="#e2772e"/><rect x="664" y="200" width="9" height="9" fill="#e2782e"/><rect x="672" y="200" width="9" height="9" fill="#e3792e"/><rect x="680" y="200" width="9" height="9" fill="#e37a2e"/><rect x="688" y="200" width="9" height="9" fill="#e47c2e"/><rect x="696" y="200" width="9" height="9" fill="#e47d2e"/><rect x="704" y="200" width="9" height="9" fill="#e47d2e"/><rect x="712" y="200" width="9" height="9" fill="#e47d2e"/><rect x="720" y="200" width="9" height="9" fill="#e47d2e"/><rect x="728" y="200" width="9" height="9" fill="#e57e2e"/><rect x="736" y="200" width="9" height="9" fill="#e57f2d"/><rect x="744" y="200" width="9" height="9" fill="#e6802d"/><rect x="752" y="200" width="9" height="9" fill="#e6812d"/><rect x="760" y="200" width="9" height="9" fill="#e6812d"/><rect x="768" y="200" width="9" height="9" fill="#e6822d"/><rect x="776" y="200" width="9" height="9" fill="#e6822d"/><rect x="784" y="200" width="9" height="9" fill="#e6822d"/><rect x="792" y="200" width="9" height="9" fill="#e6822d"/><rect x="800" y="200" width="9" height="9" fill="#e6822d"/><rect x="808" y="200" width="9" height="9" fill="#e6822d"/><rect x="816" y="200" width="9" height="9" fill="#e6812d"/><rect x="216" y="208" width="9" height="9" fill="#f2aa2c"/><rect x="224" y="208" width="9" height="9" fill="#f2ab2c"/><rect x="232" y="208" width="9" height="9" fill="#f2ab2c"/><rect x="240" y="208" width="9" height="9" fill="#f2a92c"/><rect x="248" y="208" width="9" height="9" fill="#f1a72c"/><rect x="256" y="208" width="9" height="9" fill="#f1a52c"/><rect x="264" y="208" width="9" height="9" fill="#f0a12c"/><rect x="272" y="208" width="9" height="9" fill="#ef9d2c"/><rect x="280" y="208" width="9" height="9" fill="#ee9a2c"/><rect x="288" y="208" width="9" height="9" fill="#ed962c"/><rect x="296" y="208" width="9" height="9" fill="#ec932c"/><rect x="304" y="208" width="9" height="9" fill="#eb902c"/><rect x="312" y="208" width="9" height="9" fill="#eb8d2c"/><rect x="320" y="208" width="9" height="9" fill="#ea8b2c"/><rect x="328" y="208" width="9" height="9" fill="#e9892c"/><rect x="336" y="208" width="9" height="9" fill="#e8862c"/><rect x="344" y="208" width="9" height="9" fill="#e7842d"/><rect x="352" y="208" width="9" height="9" fill="#e6822d"/><rect x="360" y="208" width="9" height="9" fill="#e6802d"/><rect x="368" y="208" width="9" height="9" fill="#e57e2e"/><rect x="376" y="208" width="9" height="9" fill="#e47c2e"/><rect x="384" y="208" width="9" height="9" fill="#e37a2e"/><rect x="392" y="208" width="9" height="9" fill="#e2782e"/><rect x="400" y="208" width="9" height="9" fill="#e1762e"/><rect x="408" y="208" width="9" height="9" fill="#e1752f"/><rect x="416" y="208" width="9" height="9" fill="#e0732f"/><rect x="424" y="208" width="9" height="9" fill="#df712f"/><rect x="432" y="208" width="9" height="9" fill="#df702f"/><rect x="440" y="208" width="9" height="9" fill="#de6e2f"/><rect x="448" y="208" width="9" height="9" fill="#dd6c30"/><rect x="456" y="208" width="9" height="9" fill="#dc6a30"/><rect x="464" y="208" width="9" height="9" fill="#da6830"/><rect x="472" y="208" width="9" height="9" fill="#d96530"/><rect x="480" y="208" width="9" height="9" fill="#d86430"/><rect x="488" y="208" width="9" height="9" fill="#d86431"/><rect x="496" y="208" width="9" height="9" fill="#d86431"/><rect x="504" y="208" width="9" height="9" fill="#d86431"/><rect x="512" y="208" width="9" height="9" fill="#d86431"/><rect x="520" y="208" width="9" height="9" fill="#d86430"/><rect x="528" y="208" width="9" height="9" fill="#d86530"/><rect x="536" y="208" width="9" height="9" fill="#d96530"/><rect x="544" y="208" width="9" height="9" fill="#da6730"/><rect x="552" y="208" width="9" height="9" fill="#db6830"/><rect x="560" y="208" width="9" height="9" fill="#db6930"/><rect x="568" y="208" width="9" height="9" fill="#db6830"/><rect x="576" y="208" width="9" height="9" fill="#db6830"/><rect x="584" y="208" width="9" height="9" fill="#db6830"/><rect x="592" y="208" width="9" height="9" fill="#db6930"/><rect x="600" y="208" width="9" height="9" fill="#dc6930"/><rect x="608" y="208" width="9" height="9" fill="#dc6a30"/><rect x="616" y="208" width="9" height="9" fill="#dd6c30"/><rect x="624" y="208" width="9" height="9" fill="#de6e30"/><rect x="632" y="208" width="9" height="9" fill="#de6f2f"/><rect x="640" y="208" width="9" height="9" fill="#df712f"/><rect x="648" y="208" width="9" height="9" fill="#e0732f"/><rect x="656" y="208" width="9" height="9" fill="#e0742f"/><rect x="664" y="208" width="9" height="9" fill="#e1752f"/><rect x="672" y="208" width="9" height="9" fill="#e1762e"/><rect x="680" y="208" width="9" height="9" fill="#e2772e"/><rect x="688" y="208" width="9" height="9" fill="#e2782e"/><rect x="696" y="208" width="9" height="9" fill="#e3792e"/><rect x="704" y="208" width="9" height="9" fill="#e37a2e"/><rect x="712" y="208" width="9" height="9" fill="#e37a2e"/><rect x="720" y="208" width="9" height="9" fill="#e37a2e"/><rect x="728" y="208" width="9" height="9" fill="#e37b2e"/><rect x="736" y="208" width="9" height="9" fill="#e47c2e"/><rect x="744" y="208" width="9" height="9" fill="#e57e2e"/><rect x="752" y="208" width="9" height="9" fill="#e57f2d"/><rect x="760" y="208" width="9" height="9" fill="#e57f2d"/><rect x="768" y="208" width="9" height="9" fill="#e6802d"/><rect x="776" y="208" width="9" height="9" fill="#e6802d"/><rect x="784" y="208" width="9" height="9" fill="#e6802d"/><rect x="792" y="208" width="9" height="9" fill="#e6802d"/><rect x="800" y="208" width="9" height="9" fill="#e6802d"/><rect x="808" y="208" width="9" height="9" fill="#e6802d"/><rect x="816" y="208" width="9" height="9" fill="#e6802d"/><rect x="208" y="216" width="9" height="9" fill="#f1a52c"/><rect x="216" y="216" width="9" height="9" fill="#f1a72c"/><rect x="224" y="216" width="9" height="9" fill="#f2a82c"/><rect x="232" y="216" width="9" height="9" fill="#f1a72c"/><rect x="240" y="216" width="9" height="9" fill="#f1a42c"/><rect x="248" y="216" width="9" height="9" fill="#f0a22c"/><rect x="256" y="216" width="9" height="9" fill="#ef9f2c"/><rect x="264" y="216" width="9" height="9" fill="#ee9b2c"/><rect x="272" y="216" width="9" height="9" fill="#ed972c"/><rect x="280" y="216" width="9" height="9" fill="#ec932c"/><rect x="288" y="216" width="9" height="9" fill="#eb902c"/><rect x="296" y="216" width="9" height="9" fill="#eb8d2c"/><rect x="304" y="216" width="9" height="9" fill="#ea8a2c"/><rect x="312" y="216" width="9" height="9" fill="#e9882c"/><rect x="320" y="216" width="9" height="9" fill="#e8862c"/><rect x="328" y="216" width="9" height="9" fill="#e8842d"/><rect x="336" y="216" width="9" height="9" fill="#e7822d"/><rect x="344" y="216" width="9" height="9" fill="#e6802d"/><rect x="352" y="216" width="9" height="9" fill="#e57e2e"/><rect x="360" y="216" width="9" height="9" fill="#e47c2e"/><rect x="368" y="216" width="9" height="9" fill="#e37a2e"/><rect x="376" y="216" width="9" height="9" fill="#e2782e"/><rect x="384" y="216" width="9" height="9" fill="#e1762e"/><rect x="392" y="216" width="9" height="9" fill="#e1742f"/><rect x="400" y="216" width="9" height="9" fill="#e0732f"/><rect x="408" y="216" width="9" height="9" fill="#df712f"/><rect x="416" y="216" width="9" height="9" fill="#de6f2f"/><rect x="424" y="216" width="9" height="9" fill="#dd6d30"/><rect x="432" y="216" width="9" height="9" fill="#dd6b30"/><rect x="440" y="216" width="9" height="9" fill="#dc6930"/><rect x="448" y="216" width="9" height="9" fill="#da6830"/><rect x="456" y="216" width="9" height="9" fill="#d96630"/><rect x="464" y="216" width="9" height="9" fill="#d86431"/><rect x="472" y="216" width="9" height="9" fill="#d66231"/><rect x="480" y="216" width="9" height="9" fill="#d66031"/><rect x="488" y="216" width="9" height="9" fill="#d56031"/><rect x="496" y="216" width="9" height="9" fill="#d56031"/><rect x="504" y="216" width="9" height="9" fill="#d55f31"/><rect x="512" y="216" width="9" height="9" fill="#d45f31"/><rect x="520" y="216" width="9" height="9" fill="#d55f31"/><rect x="528" y="216" width="9" height="9" fill="#d66031"/><rect x="536" y="216" width="9" height="9" fill="#d66231"/><rect x="544" y="216" width="9" height="9" fill="#d76331"/><rect x="552" y="216" width="9" height="9" fill="#d86430"/><rect x="560" y="216" width="9" height="9" fill="#d96530"/><rect x="568" y="216" width="9" height="9" fill="#d96530"/><rect x="576" y="216" width="9" height="9" fill="#d96530"/><rect x="584" y="216" width="9" height="9" fill="#d96530"/><rect x="592" y="216" width="9" height="9" fill="#d96630"/><rect x="600" y="216" width="9" height="9" fill="#da6730"/><rect x="608" y="216" width="9" height="9" fill="#da6830"/><rect x="616" y="216" width="9" height="9" fill="#db6930"/><rect x="624" y="216" width="9" height="9" fill="#dc6a30"/><rect x="632" y="216" width="9" height="9" fill="#dd6c30"/><rect x="640" y="216" width="9" height="9" fill="#de6e30"/><rect x="648" y="216" width="9" height="9" fill="#de6f2f"/><rect x="656" y="216" width="9" height="9" fill="#df702f"/><rect x="664" y="216" width="9" height="9" fill="#df722f"/><rect x="672" y="216" width="9" height="9" fill="#e0732f"/><rect x="680" y="216" width="9" height="9" fill="#e0742f"/><rect x="688" y="216" width="9" height="9" fill="#e1752f"/><rect x="696" y="216" width="9" height="9" fill="#e1762f"/><rect x="704" y="216" width="9" height="9" fill="#e1762e"/><rect x="712" y="216" width="9" height="9" fill="#e1762e"/><rect x="720" y="216" width="9" height="9" fill="#e2772e"/><rect x="728" y="216" width="9" height="9" fill="#e2782e"/><rect x="736" y="216" width="9" height="9" fill="#e3792e"/><rect x="744" y="216" width="9" height="9" fill="#e37b2e"/><rect x="752" y="216" width="9" height="9" fill="#e47c2e"/><rect x="760" y="216" width="9" height="9" fill="#e47d2e"/><rect x="768" y="216" width="9" height="9" fill="#e57e2e"/><rect x="776" y="216" width="9" height="9" fill="#e57f2d"/><rect x="784" y="216" width="9" height="9" fill="#e57f2d"/><rect x="792" y="216" width="9" height="9" fill="#e57f2d"/><rect x="800" y="216" width="9" height="9" fill="#e57f2d"/><rect x="216" y="224" width="9" height="9" fill="#f0a12c"/><rect x="224" y="224" width="9" height="9" fill="#f0a12c"/><rect x="232" y="224" width="9" height="9" fill="#f0a02c"/><rect x="240" y="224" width="9" height="9" fill="#ef9e2c"/><rect x="248" y="224" width="9" height="9" fill="#ee9b2c"/><rect x="256" y="224" width="9" height="9" fill="#ee982c"/><rect x="264" y="224" width="9" height="9" fill="#ec942c"/><rect x="272" y="224" width="9" height="9" fill="#eb8f2c"/><rect x="280" y="224" width="9" height="9" fill="#ea8c2c"/><rect x="288" y="224" width="9" height="9" fill="#ea892c"/><rect x="296" y="224" width="9" height="9" fill="#e9882c"/><rect x="304" y="224" width="9" height="9" fill="#e8862d"/><rect x="312" y="224" width="9" height="9" fill="#e7842d"/><rect x="320" y="224" width="9" height="9" fill="#e7822d"/><rect x="328" y="224" width="9" height="9" fill="#e6802d"/><rect x="336" y="224" width="9" height="9" fill="#e57e2d"/><rect x="344" y="224" width="9" height="9" fill="#e47c2e"/><rect x="352" y="224" width="9" height="9" fill="#e37a2e"/><rect x="360" y="224" width="9" height="9" fill="#e2782e"/><rect x="368" y="224" width="9" height="9" fill="#e1762f"/><rect x="376" y="224" width="9" height="9" fill="#e1742f"/><rect x="384" y="224" width="9" height="9" fill="#e0732f"/><rect x="392" y="224" width="9" height="9" fill="#df712f"/><rect x="400" y="224" width="9" height="9" fill="#de6f2f"/><rect x="408" y="224" width="9" height="9" fill="#dd6d30"/><rect x="416" y="224" width="9" height="9" fill="#dc6b30"/><rect x="424" y="224" width="9" height="9" fill="#db6930"/><rect x="432" y="224" width="9" height="9" fill="#da6730"/><rect x="440" y="224" width="9" height="9" fill="#d96530"/><rect x="448" y="224" width="9" height="9" fill="#d86331"/><rect x="456" y="224" width="9" height="9" fill="#d76231"/><rect x="464" y="224" width="9" height="9" fill="#d66031"/><rect x="472" y="224" width="9" height="9" fill="#d45f31"/><rect x="480" y="224" width="9" height="9" fill="#d45d31"/><rect x="488" y="224" width="9" height="9" fill="#d35d31"/><rect x="496" y="224" width="9" height="9" fill="#d35d31"/><rect x="504" y="224" width="9" height="9" fill="#d35c31"/><rect x="512" y="224" width="9" height="9" fill="#d25c31"/><rect x="520" y="224" width="9" height="9" fill="#d35c31"/><rect x="528" y="224" width="9" height="9" fill="#d35d31"/><rect x="536" y="224" width="9" height="9" fill="#d45e31"/><rect x="544" y="224" width="9" height="9" fill="#d55f31"/><rect x="552" y="224" width="9" height="9" fill="#d66031"/><rect x="560" y="224" width="9" height="9" fill="#d66131"/><rect x="568" y="224" width="9" height="9" fill="#d76231"/><rect x="576" y="224" width="9" height="9" fill="#d76231"/><rect x="584" y="224" width="9" height="9" fill="#d76231"/><rect x="592" y="224" width="9" height="9" fill="#d76331"/><rect x="600" y="224" width="9" height="9" fill="#d86431"/><rect x="608" y="224" width="9" height="9" fill="#d86530"/><rect x="616" y="224" width="9" height="9" fill="#d96630"/><rect x="624" y="224" width="9" height="9" fill="#da6730"/><rect x="632" y="224" width="9" height="9" fill="#db6930"/><rect x="640" y="224" width="9" height="9" fill="#dc6a30"/><rect x="648" y="224" width="9" height="9" fill="#dd6c30"/><rect x="656" y="224" width="9" height="9" fill="#dd6d30"/><rect x="664" y="224" width="9" height="9" fill="#de6e30"/><rect x="672" y="224" width="9" height="9" fill="#de6f2f"/><rect x="680" y="224" width="9" height="9" fill="#df702f"/><rect x="688" y="224" width="9" height="9" fill="#df712f"/><rect x="696" y="224" width="9" height="9" fill="#e0722f"/><rect x="704" y="224" width="9" height="9" fill="#e0722f"/><rect x="712" y="224" width="9" height="9" fill="#e0722f"/><rect x="720" y="224" width="9" height="9" fill="#e0732f"/><rect x="728" y="224" width="9" height="9" fill="#e0742f"/><rect x="736" y="224" width="9" height="9" fill="#e1762f"/><rect x="744" y="224" width="9" height="9" fill="#e2782e"/><rect x="752" y="224" width="9" height="9" fill="#e3792e"/><rect x="760" y="224" width="9" height="9" fill="#e37a2e"/><rect x="768" y="224" width="9" height="9" fill="#e47b2e"/><rect x="776" y="224" width="9" height="9" fill="#e47c2e"/><rect x="784" y="224" width="9" height="9" fill="#e47c2e"/><rect x="224" y="232" width="9" height="9" fill="#ee9a2c"/><rect x="232" y="232" width="9" height="9" fill="#ee992c"/><rect x="240" y="232" width="9" height="9" fill="#ed962c"/><rect x="248" y="232" width="9" height="9" fill="#ec932c"/><rect x="256" y="232" width="9" height="9" fill="#ec902c"/><rect x="264" y="232" width="9" height="9" fill="#ea8c2c"/><rect x="272" y="232" width="9" height="9" fill="#e9882c"/><rect x="280" y="232" width="9" height="9" fill="#e8862d"/><rect x="288" y="232" width="9" height="9" fill="#e8842d"/><rect x="296" y="232" width="9" height="9" fill="#e7832d"/><rect x="304" y="232" width="9" height="9" fill="#e6812d"/><rect x="312" y="232" width="9" height="9" fill="#e6802d"/><rect x="320" y="232" width="9" height="9" fill="#e57e2d"/><rect x="328" y="232" width="9" height="9" fill="#e47c2e"/><rect x="336" y="232" width="9" height="9" fill="#e37a2e"/><rect x="344" y="232" width="9" height="9" fill="#e2782e"/><rect x="352" y="232" width="9" height="9" fill="#e1762f"/><rect x="360" y="232" width="9" height="9" fill="#e0742f"/><rect x="368" y="232" width="9" height="9" fill="#e0722f"/><rect x="376" y="232" width="9" height="9" fill="#df712f"/><rect x="384" y="232" width="9" height="9" fill="#de6f2f"/><rect x="392" y="232" width="9" height="9" fill="#dd6d30"/><rect x="400" y="232" width="9" height="9" fill="#dd6b30"/><rect x="408" y="232" width="9" height="9" fill="#dc6930"/><rect x="416" y="232" width="9" height="9" fill="#da6730"/><rect x="424" y="232" width="9" height="9" fill="#d96530"/><rect x="432" y="232" width="9" height="9" fill="#d86331"/><rect x="440" y="232" width="9" height="9" fill="#d66231"/><rect x="448" y="232" width="9" height="9" fill="#d56031"/><rect x="456" y="232" width="9" height="9" fill="#d55f31"/><rect x="464" y="232" width="9" height="9" fill="#d45d31"/><rect x="472" y="232" width="9" height="9" fill="#d35c31"/><rect x="480" y="232" width="9" height="9" fill="#d25b31"/><rect x="488" y="232" width="9" height="9" fill="#d25a31"/><rect x="496" y="232" width="9" height="9" fill="#d15a31"/><rect x="504" y="232" width="9" height="9" fill="#d15931"/><rect x="512" y="232" width="9" height="9" fill="#d15931"/><rect x="520" y="232" width="9" height="9" fill="#d15931"/><rect x="528" y="232" width="9" height="9" fill="#d15a31"/><rect x="536" y="232" width="9" height="9" fill="#d25a31"/><rect x="544" y="232" width="9" height="9" fill="#d25c31"/><rect x="552" y="232" width="9" height="9" fill="#d35d31"/><rect x="560" y="232" width="9" height="9" fill="#d45e31"/><rect x="568" y="232" width="9" height="9" fill="#d45e31"/><rect x="576" y="232" width="9" height="9" fill="#d55f31"/><rect x="584" y="232" width="9" height="9" fill="#d55f31"/><rect x="592" y="232" width="9" height="9" fill="#d56031"/><rect x="600" y="232" width="9" height="9" fill="#d66031"/><rect x="608" y="232" width="9" height="9" fill="#d66131"/><rect x="616" y="232" width="9" height="9" fill="#d76331"/><rect x="624" y="232" width="9" height="9" fill="#d86431"/><rect x="632" y="232" width="9" height="9" fill="#d96530"/><rect x="640" y="232" width="9" height="9" fill="#da6730"/><rect x="648" y="232" width="9" height="9" fill="#db6830"/><rect x="656" y="232" width="9" height="9" fill="#db6930"/><rect x="664" y="232" width="9" height="9" fill="#dc6a30"/><rect x="672" y="232" width="9" height="9" fill="#dd6c30"/><rect x="680" y="232" width="9" height="9" fill="#dd6d30"/><rect x="688" y="232" width="9" height="9" fill="#de6d30"/><rect x="696" y="232" width="9" height="9" fill="#de6e2f"/><rect x="704" y="232" width="9" height="9" fill="#de6f2f"/><rect x="712" y="232" width="9" height="9" fill="#de6f2f"/><rect x="720" y="232" width="9" height="9" fill="#de6f2f"/><rect x="728" y="232" width="9" height="9" fill="#df712f"/><rect x="736" y="232" width="9" height="9" fill="#e0732f"/><rect x="744" y="232" width="9" height="9" fill="#e1752f"/><rect x="752" y="232" width="9" height="9" fill="#e1762e"/><rect x="760" y="232" width="9" height="9" fill="#e2782e"/><rect x="768" y="232" width="9" height="9" fill="#e2792e"/><rect x="776" y="232" width="9" height="9" fill="#e3792e"/><rect x="240" y="240" width="9" height="9" fill="#eb8e2c"/><rect x="248" y="240" width="9" height="9" fill="#ea8b2c"/><rect x="256" y="240" width="9" height="9" fill="#e9872c"/><rect x="264" y="240" width="9" height="9" fill="#e8852d"/><rect x="272" y="240" width="9" height="9" fill="#e7822d"/><rect x="280" y="240" width="9" height="9" fill="#e6812d"/><rect x="288" y="240" width="9" height="9" fill="#e57f2d"/><rect x="296" y="240" width="9" height="9" fill="#e57e2d"/><rect x="304" y="240" width="9" height="9" fill="#e47d2e"/><rect x="312" y="240" width="9" height="9" fill="#e47c2e"/><rect x="320" y="240" width="9" height="9" fill="#e37a2e"/><rect x="328" y="240" width="9" height="9" fill="#e2782e"/><rect x="336" y="240" width="9" height="9" fill="#e1772e"/><rect x="344" y="240" width="9" height="9" fill="#e1742f"/><rect x="352" y="240" width="9" height="9" fill="#e0722f"/><rect x="360" y="240" width="9" height="9" fill="#df712f"/><rect x="368" y="240" width="9" height="9" fill="#de6f2f"/><rect x="376" y="240" width="9" height="9" fill="#dd6d30"/><rect x="384" y="240" width="9" height="9" fill="#dd6c30"/><rect x="392" y="240" width="9" height="9" fill="#dc6a30"/><rect x="400" y="240" width="9" height="9" fill="#db6830"/><rect x="408" y="240" width="9" height="9" fill="#d96630"/><rect x="416" y="240" width="9" height="9" fill="#d86430"/><rect x="424" y="240" width="9" height="9" fill="#d76231"/><rect x="432" y="240" width="9" height="9" fill="#d56031"/><rect x="440" y="240" width="9" height="9" fill="#d45f31"/><rect x="448" y="240" width="9" height="9" fill="#d35d31"/><rect x="456" y="240" width="9" height="9" fill="#d35c31"/><rect x="464" y="240" width="9" height="9" fill="#d25b31"/><rect x="472" y="240" width="9" height="9" fill="#d15a31"/><rect x="480" y="240" width="9" height="9" fill="#d05831"/><rect x="488" y="240" width="9" height="9" fill="#d05832"/><rect x="496" y="240" width="9" height="9" fill="#d05732"/><rect x="504" y="240" width="9" height="9" fill="#cf5732"/><rect x="512" y="240" width="9" height="9" fill="#cf5732"/><rect x="520" y="240" width="9" height="9" fill="#cf5732"/><rect x="528" y="240" width="9" height="9" fill="#d05732"/><rect x="536" y="240" width="9" height="9" fill="#d05832"/><rect x="544" y="240" width="9" height="9" fill="#d15931"/><rect x="552" y="240" width="9" height="9" fill="#d15a31"/><rect x="560" y="240" width="9" height="9" fill="#d25b31"/><rect x="568" y="240" width="9" height="9" fill="#d25b31"/><rect x="576" y="240" width="9" height="9" fill="#d25c31"/><rect x="584" y="240" width="9" height="9" fill="#d35c31"/><rect x="592" y="240" width="9" height="9" fill="#d35c31"/><rect x="600" y="240" width="9" height="9" fill="#d35d31"/><rect x="608" y="240" width="9" height="9" fill="#d45e31"/><rect x="616" y="240" width="9" height="9" fill="#d56031"/><rect x="624" y="240" width="9" height="9" fill="#d66131"/><rect x="632" y="240" width="9" height="9" fill="#d76231"/><rect x="640" y="240" width="9" height="9" fill="#d86331"/><rect x="648" y="240" width="9" height="9" fill="#d86530"/><rect x="656" y="240" width="9" height="9" fill="#d96630"/><rect x="664" y="240" width="9" height="9" fill="#da6730"/><rect x="672" y="240" width="9" height="9" fill="#db6830"/><rect x="680" y="240" width="9" height="9" fill="#db6930"/><rect x="688" y="240" width="9" height="9" fill="#dc6a30"/><rect x="696" y="240" width="9" height="9" fill="#dc6b30"/><rect x="704" y="240" width="9" height="9" fill="#dd6b30"/><rect x="712" y="240" width="9" height="9" fill="#dd6c30"/><rect x="720" y="240" width="9" height="9" fill="#dd6c30"/><rect x="728" y="240" width="9" height="9" fill="#de6e30"/><rect x="736" y="240" width="9" height="9" fill="#df702f"/><rect x="744" y="240" width="9" height="9" fill="#df722f"/><rect x="752" y="240" width="9" height="9" fill="#e0732f"/><rect x="760" y="240" width="9" height="9" fill="#e1752f"/><rect x="248" y="248" width="9" height="9" fill="#e8852d"/><rect x="256" y="248" width="9" height="9" fill="#e6822d"/><rect x="264" y="248" width="9" height="9" fill="#e57f2d"/><rect x="272" y="248" width="9" height="9" fill="#e47d2e"/><rect x="280" y="248" width="9" height="9" fill="#e47c2e"/><rect x="288" y="248" width="9" height="9" fill="#e37b2e"/><rect x="296" y="248" width="9" height="9" fill="#e37a2e"/><rect x="304" y="248" width="9" height="9" fill="#e3792e"/><rect x="312" y="248" width="9" height="9" fill="#e2782e"/><rect x="320" y="248" width="9" height="9" fill="#e1772e"/><rect x="328" y="248" width="9" height="9" fill="#e1752f"/><rect x="336" y="248" width="9" height="9" fill="#e0732f"/><rect x="344" y="248" width="9" height="9" fill="#df712f"/><rect x="352" y="248" width="9" height="9" fill="#de6f2f"/><rect x="360" y="248" width="9" height="9" fill="#dd6d30"/><rect x="368" y="248" width="9" height="9" fill="#dd6c30"/><rect x="376" y="248" width="9" height="9" fill="#dc6a30"/><rect x="384" y="248" width="9" height="9" fill="#db6930"/><rect x="392" y="248" width="9" height="9" fill="#da6730"/><rect x="400" y="248" width="9" height="9" fill="#d96530"/><rect x="408" y="248" width="9" height="9" fill="#d86331"/><rect x="416" y="248" width="9" height="9" fill="#d66131"/><rect x="424" y="248" width="9" height="9" fill="#d55f31"/><rect x="432" y="248" width="9" height="9" fill="#d45d31"/><rect x="440" y="248" width="9" height="9" fill="#d35c31"/><rect x="448" y="248" width="9" height="9" fill="#d25a31"/><rect x="456" y="248" width="9" height="9" fill="#d15931"/><rect x="464" y="248" width="9" height="9" fill="#d05831"/><rect x="472" y="248" width="9" height="9" fill="#cf5732"/><rect x="480" y="248" width="9" height="9" fill="#cf5632"/><rect x="488" y="248" width="9" height="9" fill="#ce5532"/><rect x="496" y="248" width="9" height="9" fill="#ce5532"/><rect x="504" y="248" width="9" height="9" fill="#ce5532"/><rect x="512" y="248" width="9" height="9" fill="#ce5532"/><rect x="520" y="248" width="9" height="9" fill="#ce5532"/><rect x="528" y="248" width="9" height="9" fill="#ce5532"/><rect x="536" y="248" width="9" height="9" fill="#cf5632"/><rect x="544" y="248" width="9" height="9" fill="#cf5732"/><rect x="552" y="248" width="9" height="9" fill="#d05831"/><rect x="560" y="248" width="9" height="9" fill="#d15931"/><rect x="568" y="248" width="9" height="9" fill="#d15931"/><rect x="576" y="248" width="9" height="9" fill="#d15931"/><rect x="584" y="248" width="9" height="9" fill="#d15931"/><rect x="592" y="248" width="9" height="9" fill="#d15931"/><rect x="600" y="248" width="9" height="9" fill="#d15a31"/><rect x="608" y="248" width="9" height="9" fill="#d25c31"/><rect x="616" y="248" width="9" height="9" fill="#d35d31"/><rect x="624" y="248" width="9" height="9" fill="#d45e31"/><rect x="632" y="248" width="9" height="9" fill="#d55f31"/><rect x="640" y="248" width="9" height="9" fill="#d56031"/><rect x="648" y="248" width="9" height="9" fill="#d66131"/><rect x="656" y="248" width="9" height="9" fill="#d76331"/><rect x="664" y="248" width="9" height="9" fill="#d86430"/><rect x="672" y="248" width="9" height="9" fill="#d96630"/><rect x="680" y="248" width="9" height="9" fill="#da6630"/><rect x="688" y="248" width="9" height="9" fill="#da6730"/><rect x="696" y="248" width="9" height="9" fill="#db6830"/><rect x="704" y="248" width="9" height="9" fill="#db6830"/><rect x="712" y="248" width="9" height="9" fill="#db6930"/><rect x="720" y="248" width="9" height="9" fill="#dc6a30"/><rect x="728" y="248" width="9" height="9" fill="#dc6b30"/><rect x="736" y="248" width="9" height="9" fill="#dd6d30"/><rect x="744" y="248" width="9" height="9" fill="#de6f2f"/><rect x="752" y="248" width="9" height="9" fill="#df712f"/><rect x="248" y="256" width="9" height="9" fill="#e6802d"/><rect x="256" y="256" width="9" height="9" fill="#e57e2e"/><rect x="264" y="256" width="9" height="9" fill="#e37b2e"/><rect x="272" y="256" width="9" height="9" fill="#e2792e"/><rect x="280" y="256" width="9" height="9" fill="#e2772e"/><rect x="288" y="256" width="9" height="9" fill="#e2772e"/><rect x="296" y="256" width="9" height="9" fill="#e1762e"/><rect x="304" y="256" width="9" height="9" fill="#e1752f"/><rect x="312" y="256" width="9" height="9" fill="#e0742f"/><rect x="320" y="256" width="9" height="9" fill="#e0732f"/><rect x="328" y="256" width="9" height="9" fill="#df712f"/><rect x="336" y="256" width="9" height="9" fill="#de6f2f"/><rect x="344" y="256" width="9" height="9" fill="#de6d30"/><rect x="352" y="256" width="9" height="9" fill="#dd6c30"/><rect x="360" y="256" width="9" height="9" fill="#dc6a30"/><rect x="368" y="256" width="9" height="9" fill="#db6830"/><rect x="376" y="256" width="9" height="9" fill="#da6730"/><rect x="384" y="256" width="9" height="9" fill="#d96630"/><rect x="392" y="256" width="9" height="9" fill="#d86530"/><rect x="400" y="256" width="9" height="9" fill="#d76331"/><rect x="408" y="256" width="9" height="9" fill="#d66131"/><rect x="416" y="256" width="9" height="9" fill="#d45f31"/><rect x="424" y="256" width="9" height="9" fill="#d35c31"/><rect x="432" y="256" width="9" height="9" fill="#d25b31"/><rect x="440" y="256" width="9" height="9" fill="#d15931"/><rect x="448" y="256" width="9" height="9" fill="#d05832"/><rect x="456" y="256" width="9" height="9" fill="#cf5632"/><rect x="464" y="256" width="9" height="9" fill="#ce5532"/><rect x="472" y="256" width="9" height="9" fill="#ce5432"/><rect x="480" y="256" width="9" height="9" fill="#cd5332"/><rect x="488" y="256" width="9" height="9" fill="#cd5332"/><rect x="496" y="256" width="9" height="9" fill="#cc5332"/><rect x="504" y="256" width="9" height="9" fill="#cc5332"/><rect x="512" y="256" width="9" height="9" fill="#cc5332"/><rect x="520" y="256" width="9" height="9" fill="#cd5332"/><rect x="528" y="256" width="9" height="9" fill="#cd5432"/><rect x="536" y="256" width="9" height="9" fill="#ce5432"/><rect x="544" y="256" width="9" height="9" fill="#ce5532"/><rect x="552" y="256" width="9" height="9" fill="#cf5632"/><rect x="560" y="256" width="9" height="9" fill="#cf5732"/><rect x="568" y="256" width="9" height="9" fill="#cf5732"/><rect x="576" y="256" width="9" height="9" fill="#cf5732"/><rect x="584" y="256" width="9" height="9" fill="#cf5732"/><rect x="592" y="256" width="9" height="9" fill="#cf5732"/><rect x="600" y="256" width="9" height="9" fill="#d05832"/><rect x="608" y="256" width="9" height="9" fill="#d15931"/><rect x="616" y="256" width="9" height="9" fill="#d25b31"/><rect x="624" y="256" width="9" height="9" fill="#d35c31"/><rect x="632" y="256" width="9" height="9" fill="#d35d31"/><rect x="640" y="256" width="9" height="9" fill="#d45e31"/><rect x="648" y="256" width="9" height="9" fill="#d45f31"/><rect x="656" y="256" width="9" height="9" fill="#d66031"/><rect x="664" y="256" width="9" height="9" fill="#d76231"/><rect x="672" y="256" width="9" height="9" fill="#d76331"/><rect x="680" y="256" width="9" height="9" fill="#d86430"/><rect x="688" y="256" width="9" height="9" fill="#d96530"/><rect x="696" y="256" width="9" height="9" fill="#d96630"/><rect x="704" y="256" width="9" height="9" fill="#d96630"/><rect x="712" y="256" width="9" height="9" fill="#da6630"/><rect x="720" y="256" width="9" height="9" fill="#da6730"/><rect x="728" y="256" width="9" height="9" fill="#db6930"/><rect x="736" y="256" width="9" height="9" fill="#dc6a30"/><rect x="744" y="256" width="9" height="9" fill="#dd6c30"/><rect x="248" y="264" width="9" height="9" fill="#e47b2e"/><rect x="256" y="264" width="9" height="9" fill="#e3792e"/><rect x="264" y="264" width="9" height="9" fill="#e2772e"/><rect x="272" y="264" width="9" height="9" fill="#e1752f"/><rect x="280" y="264" width="9" height="9" fill="#e0742f"/><rect x="288" y="264" width="9" height="9" fill="#e0732f"/><rect x="296" y="264" width="9" height="9" fill="#e0732f"/><rect x="304" y="264" width="9" height="9" fill="#df722f"/><rect x="312" y="264" width="9" height="9" fill="#df712f"/><rect x="320" y="264" width="9" height="9" fill="#de6f2f"/><rect x="328" y="264" width="9" height="9" fill="#de6e30"/><rect x="336" y="264" width="9" height="9" fill="#dd6c30"/><rect x="344" y="264" width="9" height="9" fill="#dc6a30"/><rect x="352" y="264" width="9" height="9" fill="#db6830"/><rect x="360" y="264" width="9" height="9" fill="#da6730"/><rect x="368" y="264" width="9" height="9" fill="#d96630"/><rect x="376" y="264" width="9" height="9" fill="#d86530"/><rect x="384" y="264" width="9" height="9" fill="#d86331"/><rect x="392" y="264" width="9" height="9" fill="#d76231"/><rect x="400" y="264" width="9" height="9" fill="#d66031"/><rect x="408" y="264" width="9" height="9" fill="#d45e31"/><rect x="416" y="264" width="9" height="9" fill="#d25c31"/><rect x="424" y="264" width="9" height="9" fill="#d15a31"/><rect x="432" y="264" width="9" height="9" fill="#d05832"/><rect x="440" y="264" width="9" height="9" fill="#cf5632"/><rect x="448" y="264" width="9" height="9" fill="#ce5532"/><rect x="456" y="264" width="9" height="9" fill="#cd5332"/><rect x="464" y="264" width="9" height="9" fill="#cc5232"/><rect x="472" y="264" width="9" height="9" fill="#cc5233"/><rect x="480" y="264" width="9" height="9" fill="#cb5134"/><rect x="488" y="264" width="9" height="9" fill="#cb5134"/><rect x="496" y="264" width="9" height="9" fill="#cb5134"/><rect x="504" y="264" width="9" height="9" fill="#cb5134"/><rect x="512" y="264" width="9" height="9" fill="#cb5134"/><rect x="520" y="264" width="9" height="9" fill="#cc5233"/><rect x="528" y="264" width="9" height="9" fill="#cc5232"/><rect x="536" y="264" width="9" height="9" fill="#cd5332"/><rect x="544" y="264" width="9" height="9" fill="#cd5432"/><rect x="552" y="264" width="9" height="9" fill="#ce5532"/><rect x="560" y="264" width="9" height="9" fill="#ce5532"/><rect x="568" y="264" width="9" height="9" fill="#ce5532"/><rect x="576" y="264" width="9" height="9" fill="#ce5532"/><rect x="584" y="264" width="9" height="9" fill="#ce5632"/><rect x="592" y="264" width="9" height="9" fill="#cf5632"/><rect x="600" y="264" width="9" height="9" fill="#cf5732"/><rect x="608" y="264" width="9" height="9" fill="#d05832"/><rect x="616" y="264" width="9" height="9" fill="#d15931"/><rect x="624" y="264" width="9" height="9" fill="#d15a31"/><rect x="632" y="264" width="9" height="9" fill="#d25b31"/><rect x="640" y="264" width="9" height="9" fill="#d35c31"/><rect x="648" y="264" width="9" height="9" fill="#d35d31"/><rect x="656" y="264" width="9" height="9" fill="#d45f31"/><rect x="664" y="264" width="9" height="9" fill="#d56031"/><rect x="672" y="264" width="9" height="9" fill="#d66131"/><rect x="680" y="264" width="9" height="9" fill="#d76231"/><rect x="688" y="264" width="9" height="9" fill="#d76331"/><rect x="696" y="264" width="9" height="9" fill="#d86431"/><rect x="704" y="264" width="9" height="9" fill="#d86430"/><rect x="712" y="264" width="9" height="9" fill="#d86530"/><rect x="720" y="264" width="9" height="9" fill="#d96530"/><rect x="728" y="264" width="9" height="9" fill="#da6730"/><rect x="736" y="264" width="9" height="9" fill="#db6830"/><rect x="248" y="272" width="9" height="9" fill="#e2772e"/><rect x="256" y="272" width="9" height="9" fill="#e1752f"/><rect x="264" y="272" width="9" height="9" fill="#e0732f"/><rect x="272" y="272" width="9" height="9" fill="#df722f"/><rect x="280" y="272" width="9" height="9" fill="#df712f"/><rect x="288" y="272" width="9" height="9" fill="#df702f"/><rect x="296" y="272" width="9" height="9" fill="#de702f"/><rect x="304" y="272" width="9" height="9" fill="#de6f2f"/><rect x="312" y="272" width="9" height="9" fill="#dd6d30"/><rect x="320" y="272" width="9" height="9" fill="#dd6c30"/><rect x="328" y="272" width="9" height="9" fill="#dc6a30"/><rect x="336" y="272" width="9" height="9" fill="#db6830"/><rect x="344" y="272" width="9" height="9" fill="#da6730"/><rect x="352" y="272" width="9" height="9" fill="#d96530"/><rect x="360" y="272" width="9" height="9" fill="#d86430"/><rect x="368" y="272" width="9" height="9" fill="#d76331"/><rect x="376" y="272" width="9" height="9" fill="#d76231"/><rect x="384" y="272" width="9" height="9" fill="#d66131"/><rect x="392" y="272" width="9" height="9" fill="#d56031"/><rect x="400" y="272" width="9" height="9" fill="#d45e31"/><rect x="408" y="272" width="9" height="9" fill="#d25b31"/><rect x="416" y="272" width="9" height="9" fill="#d05931"/><rect x="424" y="272" width="9" height="9" fill="#cf5732"/><rect x="432" y="272" width="9" height="9" fill="#ce5532"/><rect x="440" y="272" width="9" height="9" fill="#cd5332"/><rect x="448" y="272" width="9" height="9" fill="#cc5232"/><rect x="456" y="272" width="9" height="9" fill="#cb5134"/><rect x="464" y="272" width="9" height="9" fill="#cb5036"/><rect x="472" y="272" width="9" height="9" fill="#ca5037"/><rect x="480" y="272" width="9" height="9" fill="#ca5037"/><rect x="488" y="272" width="9" height="9" fill="#ca4f38"/><rect x="496" y="272" width="9" height="9" fill="#ca4f38"/><rect x="504" y="272" width="9" height="9" fill="#ca5037"/><rect x="512" y="272" width="9" height="9" fill="#cb5036"/><rect x="520" y="272" width="9" height="9" fill="#cb5135"/><rect x="528" y="272" width="9" height="9" fill="#cb5134"/><rect x="536" y="272" width="9" height="9" fill="#cc5233"/><rect x="544" y="272" width="9" height="9" fill="#cc5332"/><rect x="552" y="272" width="9" height="9" fill="#cd5332"/><rect x="560" y="272" width="9" height="9" fill="#cd5432"/><rect x="568" y="272" width="9" height="9" fill="#ce5532"/><rect x="576" y="272" width="9" height="9" fill="#ce5532"/><rect x="584" y="272" width="9" height="9" fill="#ce5532"/><rect x="592" y="272" width="9" height="9" fill="#ce5532"/><rect x="600" y="272" width="9" height="9" fill="#cf5632"/><rect x="608" y="272" width="9" height="9" fill="#cf5732"/><rect x="616" y="272" width="9" height="9" fill="#d05832"/><rect x="624" y="272" width="9" height="9" fill="#d15931"/><rect x="632" y="272" width="9" height="9" fill="#d15a31"/><rect x="640" y="272" width="9" height="9" fill="#d25b31"/><rect x="648" y="272" width="9" height="9" fill="#d35c31"/><rect x="656" y="272" width="9" height="9" fill="#d45d31"/><rect x="664" y="272" width="9" height="9" fill="#d45f31"/><rect x="672" y="272" width="9" height="9" fill="#d56031"/><rect x="680" y="272" width="9" height="9" fill="#d66131"/><rect x="688" y="272" width="9" height="9" fill="#d66231"/><rect x="696" y="272" width="9" height="9" fill="#d76231"/><rect x="704" y="272" width="9" height="9" fill="#d76331"/><rect x="712" y="272" width="9" height="9" fill="#d86331"/><rect x="720" y="272" width="9" height="9" fill="#d86430"/><rect x="728" y="272" width="9" height="9" fill="#d96530"/><rect x="248" y="280" width="9" height="9" fill="#e0722f"/><rect x="256" y="280" width="9" height="9" fill="#df712f"/><rect x="264" y="280" width="9" height="9" fill="#de702f"/><rect x="272" y="280" width="9" height="9" fill="#de6e2f"/><rect x="280" y="280" width="9" height="9" fill="#de6e30"/><rect x="288" y="280" width="9" height="9" fill="#dd6d30"/><rect x="296" y="280" width="9" height="9" fill="#dd6d30"/><rect x="304" y="280" width="9" height="9" fill="#dd6c30"/><rect x="312" y="280" width="9" height="9" fill="#dc6a30"/><rect x="320" y="280" width="9" height="9" fill="#db6830"/><rect x="328" y="280" width="9" height="9" fill="#da6730"/><rect x="336" y="280" width="9" height="9" fill="#d96530"/><rect x="344" y="280" width="9" height="9" fill="#d86431"/><rect x="352" y="280" width="9" height="9" fill="#d76231"/><rect x="360" y="280" width="9" height="9" fill="#d66131"/><rect x="368" y="280" width="9" height="9" fill="#d56031"/><rect x="376" y="280" width="9" height="9" fill="#d55f31"/><rect x="384" y="280" width="9" height="9" fill="#d45e31"/><rect x="392" y="280" width="9" height="9" fill="#d35c31"/><rect x="400" y="280" width="9" height="9" fill="#d15a31"/><rect x="408" y="280" width="9" height="9" fill="#d05732"/><rect x="416" y="280" width="9" height="9" fill="#ce5532"/><rect x="424" y="280" width="9" height="9" fill="#cd5332"/><rect x="432" y="280" width="9" height="9" fill="#cc5233"/><rect x="440" y="280" width="9" height="9" fill="#cb5135"/><rect x="448" y="280" width="9" height="9" fill="#ca5037"/><rect x="456" y="280" width="9" height="9" fill="#ca4f39"/><rect x="464" y="280" width="9" height="9" fill="#c94f3a"/><rect x="472" y="280" width="9" height="9" fill="#c94e3b"/><rect x="480" y="280" width="9" height="9" fill="#c94e3b"/><rect x="488" y="280" width="9" height="9" fill="#c94e3b"/><rect x="496" y="280" width="9" height="9" fill="#c94e3b"/><rect x="504" y="280" width="9" height="9" fill="#c94e3a"/><rect x="512" y="280" width="9" height="9" fill="#ca4f39"/><rect x="520" y="280" width="9" height="9" fill="#ca5038"/><rect x="528" y="280" width="9" height="9" fill="#cb5036"/><rect x="536" y="280" width="9" height="9" fill="#cb5134"/><rect x="544" y="280" width="9" height="9" fill="#cc5233"/><rect x="552" y="280" width="9" height="9" fill="#cc5332"/><rect x="560" y="280" width="9" height="9" fill="#cd5432"/><rect x="568" y="280" width="9" height="9" fill="#ce5432"/><rect x="576" y="280" width="9" height="9" fill="#ce5532"/><rect x="584" y="280" width="9" height="9" fill="#ce5532"/><rect x="592" y="280" width="9" height="9" fill="#ce5532"/><rect x="600" y="280" width="9" height="9" fill="#ce5632"/><rect x="608" y="280" width="9" height="9" fill="#cf5632"/><rect x="616" y="280" width="9" height="9" fill="#cf5732"/><rect x="624" y="280" width="9" height="9" fill="#d05831"/><rect x="632" y="280" width="9" height="9" fill="#d15931"/><rect x="640" y="280" width="9" height="9" fill="#d15a31"/><rect x="648" y="280" width="9" height="9" fill="#d25b31"/><rect x="656" y="280" width="9" height="9" fill="#d35c31"/><rect x="664" y="280" width="9" height="9" fill="#d45d31"/><rect x="672" y="280" width="9" height="9" fill="#d45f31"/><rect x="680" y="280" width="9" height="9" fill="#d56031"/><rect x="688" y="280" width="9" height="9" fill="#d56031"/><rect x="696" y="280" width="9" height="9" fill="#d66131"/><rect x="704" y="280" width="9" height="9" fill="#d66131"/><rect x="712" y="280" width="9" height="9" fill="#d76231"/><rect x="720" y="280" width="9" height="9" fill="#d76331"/><rect x="248" y="288" width="9" height="9" fill="#dd6d30"/><rect x="256" y="288" width="9" height="9" fill="#dd6c30"/><rect x="264" y="288" width="9" height="9" fill="#dd6c30"/><rect x="272" y="288" width="9" height="9" fill="#dc6a30"/><rect x="280" y="288" width="9" height="9" fill="#dc6a30"/><rect x="288" y="288" width="9" height="9" fill="#dc6a30"/><rect x="296" y="288" width="9" height="9" fill="#dc6a30"/><rect x="304" y="288" width="9" height="9" fill="#db6930"/><rect x="312" y="288" width="9" height="9" fill="#da6730"/><rect x="320" y="288" width="9" height="9" fill="#d96530"/><rect x="328" y="288" width="9" height="9" fill="#d86331"/><rect x="336" y="288" width="9" height="9" fill="#d66231"/><rect x="344" y="288" width="9" height="9" fill="#d66031"/><rect x="352" y="288" width="9" height="9" fill="#d55f31"/><rect x="360" y="288" width="9" height="9" fill="#d45e31"/><rect x="368" y="288" width="9" height="9" fill="#d35d31"/><rect x="376" y="288" width="9" height="9" fill="#d25c31"/><rect x="384" y="288" width="9" height="9" fill="#d15a31"/><rect x="392" y="288" width="9" height="9" fill="#d05832"/><rect x="400" y="288" width="9" height="9" fill="#ce5532"/><rect x="408" y="288" width="9" height="9" fill="#cd5332"/><rect x="416" y="288" width="9" height="9" fill="#cc5233"/><rect x="424" y="288" width="9" height="9" fill="#cb5135"/><rect x="432" y="288" width="9" height="9" fill="#ca5037"/><rect x="440" y="288" width="9" height="9" fill="#c94f3a"/><rect x="448" y="288" width="9" height="9" fill="#c94e3b"/><rect x="456" y="288" width="9" height="9" fill="#c84d3d"/><rect x="464" y="288" width="9" height="9" fill="#c84d3e"/><rect x="472" y="288" width="9" height="9" fill="#c84c3f"/><rect x="480" y="288" width="9" height="9" fill="#c84c3f"/><rect x="488" y="288" width="9" height="9" fill="#c84c3f"/><rect x="496" y="288" width="9" height="9" fill="#c84d3e"/><rect x="504" y="288" width="9" height="9" fill="#c84d3d"/><rect x="512" y="288" width="9" height="9" fill="#c94e3b"/><rect x="520" y="288" width="9" height="9" fill="#c94f3a"/><rect x="528" y="288" width="9" height="9" fill="#ca5038"/><rect x="536" y="288" width="9" height="9" fill="#cb5036"/><rect x="544" y="288" width="9" height="9" fill="#cb5134"/><rect x="552" y="288" width="9" height="9" fill="#cc5232"/><rect x="560" y="288" width="9" height="9" fill="#cd5332"/><rect x="568" y="288" width="9" height="9" fill="#ce5432"/><rect x="576" y="288" width="9" height="9" fill="#ce5532"/><rect x="584" y="288" width="9" height="9" fill="#ce5532"/><rect x="592" y="288" width="9" height="9" fill="#ce5532"/><rect x="600" y="288" width="9" height="9" fill="#ce5532"/><rect x="608" y="288" width="9" height="9" fill="#cf5632"/><rect x="616" y="288" width="9" height="9" fill="#cf5732"/><rect x="624" y="288" width="9" height="9" fill="#d05732"/><rect x="632" y="288" width="9" height="9" fill="#d05831"/><rect x="640" y="288" width="9" height="9" fill="#d15931"/><rect x="648" y="288" width="9" height="9" fill="#d15a31"/><rect x="656" y="288" width="9" height="9" fill="#d25b31"/><rect x="664" y="288" width="9" height="9" fill="#d35c31"/><rect x="672" y="288" width="9" height="9" fill="#d35d31"/><rect x="680" y="288" width="9" height="9" fill="#d45e31"/><rect x="688" y="288" width="9" height="9" fill="#d45e31"/><rect x="696" y="288" width="9" height="9" fill="#d55f31"/><rect x="704" y="288" width="9" height="9" fill="#d56031"/><rect x="712" y="288" width="9" height="9" fill="#d66131"/><rect x="720" y="288" width="9" height="9" fill="#d66231"/><rect x="256" y="296" width="9" height="9" fill="#da6730"/><rect x="264" y="296" width="9" height="9" fill="#da6830"/><rect x="272" y="296" width="9" height="9" fill="#d96530"/><rect x="280" y="296" width="9" height="9" fill="#d86530"/><rect x="288" y="296" width="9" height="9" fill="#d96630"/><rect x="296" y="296" width="9" height="9" fill="#da6830"/><rect x="304" y="296" width="9" height="9" fill="#d96630"/><rect x="312" y="296" width="9" height="9" fill="#d86431"/><rect x="320" y="296" width="9" height="9" fill="#d76231"/><rect x="328" y="296" width="9" height="9" fill="#d56031"/><rect x="336" y="296" width="9" height="9" fill="#d45e31"/><rect x="344" y="296" width="9" height="9" fill="#d35d31"/><rect x="352" y="296" width="9" height="9" fill="#d35c31"/><rect x="360" y="296" width="9" height="9" fill="#d25b31"/><rect x="368" y="296" width="9" height="9" fill="#d15a31"/><rect x="376" y="296" width="9" height="9" fill="#d05831"/><rect x="384" y="296" width="9" height="9" fill="#cf5732"/><rect x="392" y="296" width="9" height="9" fill="#ce5432"/><rect x="400" y="296" width="9" height="9" fill="#cc5232"/><rect x="408" y="296" width="9" height="9" fill="#cb5135"/><rect x="416" y="296" width="9" height="9" fill="#ca5037"/><rect x="424" y="296" width="9" height="9" fill="#c94f3a"/><rect x="432" y="296" width="9" height="9" fill="#c94e3c"/><rect x="440" y="296" width="9" height="9" fill="#c84d3e"/><rect x="448" y="296" width="9" height="9" fill="#c74c40"/><rect x="456" y="296" width="9" height="9" fill="#c74b41"/><rect x="464" y="296" width="9" height="9" fill="#c74b42"/><rect x="472" y="296" width="9" height="9" fill="#c64b43"/><rect x="480" y="296" width="9" height="9" fill="#c64b43"/><rect x="488" y="296" width="9" height="9" fill="#c74b42"/><rect x="496" y="296" width="9" height="9" fill="#c74b41"/><rect x="504" y="296" width="9" height="9" fill="#c74c40"/><rect x="512" y="296" width="9" height="9" fill="#c84d3e"/><rect x="520" y="296" width="9" height="9" fill="#c94e3b"/><rect x="528" y="296" width="9" height="9" fill="#ca4f39"/><rect x="536" y="296" width="9" height="9" fill="#ca5037"/><rect x="544" y="296" width="9" height="9" fill="#cb5134"/><rect x="552" y="296" width="9" height="9" fill="#cc5232"/><rect x="560" y="296" width="9" height="9" fill="#cd5332"/><rect x="568" y="296" width="9" height="9" fill="#ce5432"/><rect x="576" y="296" width="9" height="9" fill="#ce5432"/><rect x="584" y="296" width="9" height="9" fill="#ce5532"/><rect x="592" y="296" width="9" height="9" fill="#ce5532"/><rect x="600" y="296" width="9" height="9" fill="#ce5532"/><rect x="608" y="296" width="9" height="9" fill="#ce5632"/><rect x="616" y="296" width="9" height="9" fill="#cf5632"/><rect x="624" y="296" width="9" height="9" fill="#cf5732"/><rect x="632" y="296" width="9" height="9" fill="#d05832"/><rect x="640" y="296" width="9" height="9" fill="#d05831"/><rect x="648" y="296" width="9" height="9" fill="#d15931"/><rect x="656" y="296" width="9" height="9" fill="#d15a31"/><rect x="664" y="296" width="9" height="9" fill="#d25b31"/><rect x="672" y="296" width="9" height="9" fill="#d25c31"/><rect x="680" y="296" width="9" height="9" fill="#d35c31"/><rect x="688" y="296" width="9" height="9" fill="#d35d31"/><rect x="696" y="296" width="9" height="9" fill="#d45d31"/><rect x="704" y="296" width="9" height="9" fill="#d45e31"/><rect x="712" y="296" width="9" height="9" fill="#d55f31"/><rect x="256" y="304" width="9" height="9" fill="#d66031"/><rect x="264" y="304" width="9" height="9" fill="#d45e31"/><rect x="272" y="304" width="9" height="9" fill="#d35d31"/><rect x="280" y="304" width="9" height="9" fill="#d45e31"/><rect x="288" y="304" width="9" height="9" fill="#d56031"/><rect x="296" y="304" width="9" height="9" fill="#d76231"/><rect x="304" y="304" width="9" height="9" fill="#d66231"/><rect x="312" y="304" width="9" height="9" fill="#d66031"/><rect x="320" y="304" width="9" height="9" fill="#d55f31"/><rect x="328" y="304" width="9" height="9" fill="#d35d31"/><rect x="336" y="304" width="9" height="9" fill="#d25b31"/><rect x="344" y="304" width="9" height="9" fill="#d15a31"/><rect x="352" y="304" width="9" height="9" fill="#d15931"/><rect x="360" y="304" width="9" height="9" fill="#d05831"/><rect x="368" y="304" width="9" height="9" fill="#cf5732"/><rect x="376" y="304" width="9" height="9" fill="#ce5532"/><rect x="384" y="304" width="9" height="9" fill="#cd5332"/><rect x="392" y="304" width="9" height="9" fill="#cc5133"/><rect x="400" y="304" width="9" height="9" fill="#cb5036"/><rect x="408" y="304" width="9" height="9" fill="#ca4f39"/><rect x="416" y="304" width="9" height="9" fill="#c94e3c"/><rect x="424" y="304" width="9" height="9" fill="#c84d3e"/><rect x="432" y="304" width="9" height="9" fill="#c74c40"/><rect x="440" y="304" width="9" height="9" fill="#c74b42"/><rect x="448" y="304" width="9" height="9" fill="#c64a44"/><rect x="456" y="304" width="9" height="9" fill="#c64a4a"/><rect x="464" y="304" width="9" height="9" fill="#c5494f"/><rect x="472" y="304" width="9" height="9" fill="#c54952"/><rect x="480" y="304" width="9" height="9" fill="#c54952"/><rect x="488" y="304" width="9" height="9" fill="#c6494d"/><rect x="496" y="304" width="9" height="9" fill="#c64a44"/><rect x="504" y="304" width="9" height="9" fill="#c74b42"/><rect x="512" y="304" width="9" height="9" fill="#c84c3f"/><rect x="520" y="304" width="9" height="9" fill="#c94d3c"/><rect x="528" y="304" width="9" height="9" fill="#c94f3a"/><rect x="536" y="304" width="9" height="9" fill="#ca5037"/><rect x="544" y="304" width="9" height="9" fill="#cb5135"/><rect x="552" y="304" width="9" height="9" fill="#cc5233"/><rect x="560" y="304" width="9" height="9" fill="#cd5332"/><rect x="568" y="304" width="9" height="9" fill="#cd5432"/><rect x="576" y="304" width="9" height="9" fill="#cd5432"/><rect x="584" y="304" width="9" height="9" fill="#ce5432"/><rect x="592" y="304" width="9" height="9" fill="#ce5532"/><rect x="600" y="304" width="9" height="9" fill="#ce5532"/><rect x="608" y="304" width="9" height="9" fill="#ce5532"/><rect x="616" y="304" width="9" height="9" fill="#ce5632"/><rect x="624" y="304" width="9" height="9" fill="#cf5632"/><rect x="632" y="304" width="9" height="9" fill="#cf5732"/><rect x="640" y="304" width="9" height="9" fill="#d05832"/><rect x="648" y="304" width="9" height="9" fill="#d05831"/><rect x="656" y="304" width="9" height="9" fill="#d15931"/><rect x="664" y="304" width="9" height="9" fill="#d15931"/><rect x="672" y="304" width="9" height="9" fill="#d15a31"/><rect x="680" y="304" width="9" height="9" fill="#d25b31"/><rect x="688" y="304" width="9" height="9" fill="#d25c31"/><rect x="696" y="304" width="9" height="9" fill="#d35c31"/><rect x="704" y="304" width="9" height="9" fill="#d35d31"/><rect x="712" y="304" width="9" height="9" fill="#d45e31"/><rect x="256" y="312" width="9" height="9" fill="#d15a31"/><rect x="264" y="312" width="9" height="9" fill="#ce5632"/><rect x="272" y="312" width="9" height="9" fill="#cd5432"/><rect x="280" y="312" width="9" height="9" fill="#d05832"/><rect x="288" y="312" width="9" height="9" fill="#d25b31"/><rect x="296" y="312" width="9" height="9" fill="#d35d31"/><rect x="304" y="312" width="9" height="9" fill="#d45e31"/><rect x="312" y="312" width="9" height="9" fill="#d35d31"/><rect x="320" y="312" width="9" height="9" fill="#d25c31"/><rect x="328" y="312" width="9" height="9" fill="#d15a31"/><rect x="336" y="312" width="9" height="9" fill="#d05931"/><rect x="344" y="312" width="9" height="9" fill="#cf5732"/><rect x="352" y="312" width="9" height="9" fill="#cf5632"/><rect x="360" y="312" width="9" height="9" fill="#ce5532"/><rect x="368" y="312" width="9" height="9" fill="#ce5432"/><rect x="376" y="312" width="9" height="9" fill="#cc5332"/><rect x="384" y="312" width="9" height="9" fill="#cb5134"/><rect x="392" y="312" width="9" height="9" fill="#ca5037"/><rect x="400" y="312" width="9" height="9" fill="#c94e3a"/><rect x="408" y="312" width="9" height="9" fill="#c84d3d"/><rect x="416" y="312" width="9" height="9" fill="#c74c40"/><rect x="424" y="312" width="9" height="9" fill="#c74b42"/><rect x="432" y="312" width="9" height="9" fill="#c64a47"/><rect x="440" y="312" width="9" height="9" fill="#c54952"/><rect x="448" y="312" width="9" height="9" fill="#c5495a"/><rect x="456" y="312" width="9" height="9" fill="#c54860"/><rect x="464" y="312" width="9" height="9" fill="#c54864"/><rect x="472" y="312" width="9" height="9" fill="#c44865"/><rect x="480" y="312" width="9" height="9" fill="#c44865"/><rect x="488" y="312" width="9" height="9" fill="#c5485f"/><rect x="496" y="312" width="9" height="9" fill="#c6494f"/><rect x="504" y="312" width="9" height="9" fill="#c64b43"/><rect x="512" y="312" width="9" height="9" fill="#c74c40"/><rect x="520" y="312" width="9" height="9" fill="#c94d3c"/><rect x="528" y="312" width="9" height="9" fill="#c94f3a"/><rect x="536" y="312" width="9" height="9" fill="#ca5037"/><rect x="544" y="312" width="9" height="9" fill="#cb5135"/><rect x="552" y="312" width="9" height="9" fill="#cc5233"/><rect x="560" y="312" width="9" height="9" fill="#cc5232"/><rect x="568" y="312" width="9" height="9" fill="#cd5332"/><rect x="576" y="312" width="9" height="9" fill="#cd5432"/><rect x="584" y="312" width="9" height="9" fill="#cd5432"/><rect x="592" y="312" width="9" height="9" fill="#ce5432"/><rect x="600" y="312" width="9" height="9" fill="#ce5532"/><rect x="608" y="312" width="9" height="9" fill="#ce5532"/><rect x="616" y="312" width="9" height="9" fill="#ce5532"/><rect x="624" y="312" width="9" height="9" fill="#cf5632"/><rect x="632" y="312" width="9" height="9" fill="#cf5632"/><rect x="640" y="312" width="9" height="9" fill="#cf5732"/><rect x="648" y="312" width="9" height="9" fill="#cf5732"/><rect x="656" y="312" width="9" height="9" fill="#d05832"/><rect x="664" y="312" width="9" height="9" fill="#d05831"/><rect x="672" y="312" width="9" height="9" fill="#d05931"/><rect x="680" y="312" width="9" height="9" fill="#d15a31"/><rect x="688" y="312" width="9" height="9" fill="#d25a31"/><rect x="696" y="312" width="9" height="9" fill="#d25b31"/><rect x="704" y="312" width="9" height="9" fill="#d35c31"/><rect x="256" y="320" width="9" height="9" fill="#cf5632"/><rect x="264" y="320" width="9" height="9" fill="#cc5232"/><rect x="272" y="320" width="9" height="9" fill="#cc5133"/><rect x="280" y="320" width="9" height="9" fill="#ce5432"/><rect x="288" y="320" width="9" height="9" fill="#d05832"/><rect x="296" y="320" width="9" height="9" fill="#d15a31"/><rect x="304" y="320" width="9" height="9" fill="#d25b31"/><rect x="312" y="320" width="9" height="9" fill="#d15a31"/><rect x="320" y="320" width="9" height="9" fill="#d15931"/><rect x="328" y="320" width="9" height="9" fill="#cf5732"/><rect x="336" y="320" width="9" height="9" fill="#ce5632"/><rect x="344" y="320" width="9" height="9" fill="#ce5432"/><rect x="352" y="320" width="9" height="9" fill="#cd5332"/><rect x="360" y="320" width="9" height="9" fill="#cc5232"/><rect x="368" y="320" width="9" height="9" fill="#cc5133"/><rect x="376" y="320" width="9" height="9" fill="#cb5036"/><rect x="384" y="320" width="9" height="9" fill="#ca4f38"/><rect x="392" y="320" width="9" height="9" fill="#c94e3b"/><rect x="400" y="320" width="9" height="9" fill="#c84d3e"/><rect x="408" y="320" width="9" height="9" fill="#c74b41"/><rect x="416" y="320" width="9" height="9" fill="#c64a44"/><rect x="424" y="320" width="9" height="9" fill="#c54952"/><rect x="432" y="320" width="9" height="9" fill="#c5485e"/><rect x="440" y="320" width="9" height="9" fill="#c44869"/><rect x="448" y="320" width="9" height="9" fill="#c44770"/><rect x="456" y="320" width="9" height="9" fill="#c44774"/><rect x="464" y="320" width="9" height="9" fill="#c44775"/><rect x="472" y="320" width="9" height="9" fill="#c44774"/><rect x="480" y="320" width="9" height="9" fill="#c44772"/><rect x="488" y="320" width="9" height="9" fill="#c4486a"/><rect x="496" y="320" width="9" height="9" fill="#c54953"/><rect x="504" y="320" width="9" height="9" fill="#c64b43"/><rect x="512" y="320" width="9" height="9" fill="#c84c3f"/><rect x="520" y="320" width="9" height="9" fill="#c94e3c"/><rect x="528" y="320" width="9" height="9" fill="#ca4f39"/><rect x="536" y="320" width="9" height="9" fill="#ca5037"/><rect x="544" y="320" width="9" height="9" fill="#cb5135"/><rect x="552" y="320" width="9" height="9" fill="#cc5133"/><rect x="560" y="320" width="9" height="9" fill="#cc5232"/><rect x="568" y="320" width="9" height="9" fill="#cd5332"/><rect x="576" y="320" width="9" height="9" fill="#cd5432"/><rect x="584" y="320" width="9" height="9" fill="#cd5432"/><rect x="592" y="320" width="9" height="9" fill="#cd5432"/><rect x="600" y="320" width="9" height="9" fill="#ce5432"/><rect x="608" y="320" width="9" height="9" fill="#ce5532"/><rect x="616" y="320" width="9" height="9" fill="#ce5532"/><rect x="624" y="320" width="9" height="9" fill="#ce5532"/><rect x="632" y="320" width="9" height="9" fill="#ce5632"/><rect x="640" y="320" width="9" height="9" fill="#cf5632"/><rect x="648" y="320" width="9" height="9" fill="#cf5632"/><rect x="656" y="320" width="9" height="9" fill="#cf5632"/><rect x="664" y="320" width="9" height="9" fill="#cf5732"/><rect x="672" y="320" width="9" height="9" fill="#d05732"/><rect x="680" y="320" width="9" height="9" fill="#d05831"/><rect x="688" y="320" width="9" height="9" fill="#d15931"/><rect x="696" y="320" width="9" height="9" fill="#d15a31"/><rect x="256" y="328" width="9" height="9" fill="#ce5532"/><rect x="264" y="328" width="9" height="9" fill="#cc5332"/><rect x="272" y="328" width="9" height="9" fill="#cc5232"/><rect x="280" y="328" width="9" height="9" fill="#cd5432"/><rect x="288" y="328" width="9" height="9" fill="#cf5732"/><rect x="296" y="328" width="9" height="9" fill="#d05831"/><rect x="304" y="328" width="9" height="9" fill="#d15931"/><rect x="312" y="328" width="9" height="9" fill="#d05832"/><rect x="320" y="328" width="9" height="9" fill="#cf5632"/><rect x="328" y="328" width="9" height="9" fill="#ce5532"/><rect x="336" y="328" width="9" height="9" fill="#cc5332"/><rect x="344" y="328" width="9" height="9" fill="#cc5233"/><rect x="352" y="328" width="9" height="9" fill="#cb5134"/><rect x="360" y="328" width="9" height="9" fill="#cb5036"/><rect x="368" y="328" width="9" height="9" fill="#ca5038"/><rect x="376" y="328" width="9" height="9" fill="#c94f3a"/><rect x="384" y="328" width="9" height="9" fill="#c94d3c"/><rect x="392" y="328" width="9" height="9" fill="#c84c3f"/><rect x="400" y="328" width="9" height="9" fill="#c74b42"/><rect x="408" y="328" width="9" height="9" fill="#c64a48"/><rect x="416" y="328" width="9" height="9" fill="#c54958"/><rect x="424" y="328" width="9" height="9" fill="#c44867"/><rect x="432" y="328" width="9" height="9" fill="#c44774"/><rect x="440" y="328" width="9" height="9" fill="#c3477e"/><rect x="448" y="328" width="9" height="9" fill="#c34684"/><rect x="456" y="328" width="9" height="9" fill="#c34685"/><rect x="464" y="328" width="9" height="9" fill="#c34682"/><rect x="472" y="328" width="9" height="9" fill="#c3477d"/><rect x="480" y="328" width="9" height="9" fill="#c44774"/><rect x="488" y="328" width="9" height="9" fill="#c44865"/><rect x="496" y="328" width="9" height="9" fill="#c54950"/><rect x="504" y="328" width="9" height="9" fill="#c74b42"/><rect x="512" y="328" width="9" height="9" fill="#c84c3e"/><rect x="520" y="328" width="9" height="9" fill="#c94e3b"/><rect x="528" y="328" width="9" height="9" fill="#ca4f39"/><rect x="536" y="328" width="9" height="9" fill="#ca5037"/><rect x="544" y="328" width="9" height="9" fill="#cb5135"/><rect x="552" y="328" width="9" height="9" fill="#cc5233"/><rect x="560" y="328" width="9" height="9" fill="#cc5232"/><rect x="568" y="328" width="9" height="9" fill="#cd5332"/><rect x="576" y="328" width="9" height="9" fill="#cd5332"/><rect x="584" y="328" width="9" height="9" fill="#cd5432"/><rect x="592" y="328" width="9" height="9" fill="#cd5432"/><rect x="600" y="328" width="9" height="9" fill="#ce5432"/><rect x="608" y="328" width="9" height="9" fill="#ce5532"/><rect x="616" y="328" width="9" height="9" fill="#ce5532"/><rect x="624" y="328" width="9" height="9" fill="#ce5532"/><rect x="632" y="328" width="9" height="9" fill="#ce5532"/><rect x="640" y="328" width="9" height="9" fill="#ce5532"/><rect x="648" y="328" width="9" height="9" fill="#ce5532"/><rect x="656" y="328" width="9" height="9" fill="#ce5532"/><rect x="664" y="328" width="9" height="9" fill="#ce5532"/><rect x="672" y="328" width="9" height="9" fill="#cf5632"/><rect x="680" y="328" width="9" height="9" fill="#cf5732"/><rect x="688" y="328" width="9" height="9" fill="#d05831"/><rect x="256" y="336" width="9" height="9" fill="#ce5432"/><rect x="264" y="336" width="9" height="9" fill="#cd5332"/><rect x="272" y="336" width="9" height="9" fill="#cd5332"/><rect x="280" y="336" width="9" height="9" fill="#ce5532"/><rect x="288" y="336" width="9" height="9" fill="#cf5732"/><rect x="296" y="336" width="9" height="9" fill="#d05831"/><rect x="304" y="336" width="9" height="9" fill="#d05832"/><rect x="312" y="336" width="9" height="9" fill="#cf5632"/><rect x="320" y="336" width="9" height="9" fill="#ce5432"/><rect x="328" y="336" width="9" height="9" fill="#cc5232"/><rect x="336" y="336" width="9" height="9" fill="#cb5135"/><rect x="344" y="336" width="9" height="9" fill="#ca5037"/><rect x="352" y="336" width="9" height="9" fill="#ca4f38"/><rect x="360" y="336" width="9" height="9" fill="#c94f3a"/><rect x="368" y="336" width="9" height="9" fill="#c94e3b"/><rect x="376" y="336" width="9" height="9" fill="#c84d3d"/><rect x="384" y="336" width="9" height="9" fill="#c74c40"/><rect x="392" y="336" width="9" height="9" fill="#c74b42"/><rect x="400" y="336" width="9" height="9" fill="#c64a4a"/><rect x="408" y="336" width="9" height="9" fill="#c5495b"/><rect x="416" y="336" width="9" height="9" fill="#c4486b"/><rect x="424" y="336" width="9" height="9" fill="#c3477b"/><rect x="432" y="336" width="9" height="9" fill="#c34688"/><rect x="440" y="336" width="9" height="9" fill="#c24592"/><rect x="448" y="336" width="9" height="9" fill="#c24596"/><rect x="456" y="336" width="9" height="9" fill="#c24593"/><rect x="464" y="336" width="9" height="9" fill="#c3468c"/><rect x="472" y="336" width="9" height="9" fill="#c34681"/><rect x="480" y="336" width="9" height="9" fill="#c44773"/><rect x="488" y="336" width="9" height="9" fill="#c54860"/><rect x="496" y="336" width="9" height="9" fill="#c64a49"/><rect x="504" y="336" width="9" height="9" fill="#c74b41"/><rect x="512" y="336" width="9" height="9" fill="#c84d3e"/><rect x="520" y="336" width="9" height="9" fill="#c94e3b"/><rect x="528" y="336" width="9" height="9" fill="#ca4f38"/><rect x="536" y="336" width="9" height="9" fill="#cb5036"/><rect x="544" y="336" width="9" height="9" fill="#cb5134"/><rect x="552" y="336" width="9" height="9" fill="#cc5233"/><rect x="560" y="336" width="9" height="9" fill="#cc5232"/><rect x="568" y="336" width="9" height="9" fill="#cd5332"/><rect x="576" y="336" width="9" height="9" fill="#cd5332"/><rect x="584" y="336" width="9" height="9" fill="#cd5432"/><rect x="592" y="336" width="9" height="9" fill="#cd5432"/><rect x="600" y="336" width="9" height="9" fill="#ce5432"/><rect x="608" y="336" width="9" height="9" fill="#ce5532"/><rect x="616" y="336" width="9" height="9" fill="#ce5532"/><rect x="624" y="336" width="9" height="9" fill="#ce5532"/><rect x="632" y="336" width="9" height="9" fill="#ce5532"/><rect x="640" y="336" width="9" height="9" fill="#ce5532"/><rect x="648" y="336" width="9" height="9" fill="#ce5532"/><rect x="656" y="336" width="9" height="9" fill="#ce5432"/><rect x="664" y="336" width="9" height="9" fill="#ce5432"/><rect x="672" y="336" width="9" height="9" fill="#ce5532"/><rect x="680" y="336" width="9" height="9" fill="#cf5632"/><rect x="264" y="344" width="9" height="9" fill="#cd5332"/><rect x="272" y="344" width="9" height="9" fill="#cd5332"/><rect x="280" y="344" width="9" height="9" fill="#ce5532"/><rect x="288" y="344" width="9" height="9" fill="#cf5732"/><rect x="296" y="344" width="9" height="9" fill="#d15931"/><rect x="304" y="344" width="9" height="9" fill="#cf5732"/><rect x="312" y="344" width="9" height="9" fill="#ce5532"/><rect x="320" y="344" width="9" height="9" fill="#cc5232"/><rect x="328" y="344" width="9" height="9" fill="#cb5135"/><rect x="336" y="344" width="9" height="9" fill="#ca5038"/><rect x="344" y="344" width="9" height="9" fill="#c94f3a"/><rect x="352" y="344" width="9" height="9" fill="#c94e3b"/><rect x="360" y="344" width="9" height="9" fill="#c84d3d"/><rect x="368" y="344" width="9" height="9" fill="#c84c3f"/><rect x="376" y="344" width="9" height="9" fill="#c74c41"/><rect x="384" y="344" width="9" height="9" fill="#c64b43"/><rect x="392" y="344" width="9" height="9" fill="#c64a4b"/><rect x="400" y="344" width="9" height="9" fill="#c5495b"/><rect x="408" y="344" width="9" height="9" fill="#c4486b"/><rect x="416" y="344" width="9" height="9" fill="#c3477b"/><rect x="424" y="344" width="9" height="9" fill="#c3468b"/><rect x="432" y="344" width="9" height="9" fill="#c24599"/><rect x="440" y="344" width="9" height="9" fill="#c1459e"/><rect x="448" y="344" width="9" height="9" fill="#c0459f"/><rect x="456" y="344" width="9" height="9" fill="#c1459c"/><rect x="464" y="344" width="9" height="9" fill="#c24592"/><rect x="472" y="344" width="9" height="9" fill="#c34683"/><rect x="480" y="344" width="9" height="9" fill="#c44771"/><rect x="488" y="344" width="9" height="9" fill="#c5495b"/><rect x="496" y="344" width="9" height="9" fill="#c64a44"/><rect x="504" y="344" width="9" height="9" fill="#c74c40"/><rect x="512" y="344" width="9" height="9" fill="#c84d3d"/><rect x="520" y="344" width="9" height="9" fill="#c94e3a"/><rect x="528" y="344" width="9" height="9" fill="#ca5038"/><rect x="536" y="344" width="9" height="9" fill="#cb5036"/><rect x="544" y="344" width="9" height="9" fill="#cb5134"/><rect x="552" y="344" width="9" height="9" fill="#cc5232"/><rect x="560" y="344" width="9" height="9" fill="#cc5232"/><rect x="568" y="344" width="9" height="9" fill="#cd5332"/><rect x="576" y="344" width="9" height="9" fill="#cd5432"/><rect x="584" y="344" width="9" height="9" fill="#cd5432"/><rect x="592" y="344" width="9" height="9" fill="#cd5432"/><rect x="600" y="344" width="9" height="9" fill="#ce5432"/><rect x="608" y="344" width="9" height="9" fill="#ce5432"/><rect x="616" y="344" width="9" height="9" fill="#ce5532"/><rect x="624" y="344" width="9" height="9" fill="#ce5532"/><rect x="632" y="344" width="9" height="9" fill="#ce5532"/><rect x="640" y="344" width="9" height="9" fill="#ce5432"/><rect x="648" y="344" width="9" height="9" fill="#ce5432"/><rect x="656" y="344" width="9" height="9" fill="#ce5432"/><rect x="664" y="344" width="9" height="9" fill="#ce5532"/><rect x="672" y="344" width="9" height="9" fill="#ce5532"/><rect x="264" y="352" width="9" height="9" fill="#cd5332"/><rect x="272" y="352" width="9" height="9" fill="#cd5332"/><rect x="280" y="352" width="9" height="9" fill="#cd5432"/><rect x="288" y="352" width="9" height="9" fill="#ce5532"/><rect x="296" y="352" width="9" height="9" fill="#cf5632"/><rect x="304" y="352" width="9" height="9" fill="#ce5532"/><rect x="312" y="352" width="9" height="9" fill="#cc5232"/><rect x="320" y="352" width="9" height="9" fill="#cb5134"/><rect x="328" y="352" width="9" height="9" fill="#ca5037"/><rect x="336" y="352" width="9" height="9" fill="#c94f3a"/><rect x="344" y="352" width="9" height="9" fill="#c94e3c"/><rect x="352" y="352" width="9" height="9" fill="#c84d3e"/><rect x="360" y="352" width="9" height="9" fill="#c84c3f"/><rect x="368" y="352" width="9" height="9" fill="#c74b41"/><rect x="376" y="352" width="9" height="9" fill="#c64a43"/><rect x="384" y="352" width="9" height="9" fill="#c64a4c"/><rect x="392" y="352" width="9" height="9" fill="#c54959"/><rect x="400" y="352" width="9" height="9" fill="#c44868"/><rect x="408" y="352" width="9" height="9" fill="#c44777"/><rect x="416" y="352" width="9" height="9" fill="#c34687"/><rect x="424" y="352" width="9" height="9" fill="#c24596"/><rect x="432" y="352" width="9" height="9" fill="#c1459e"/><rect x="440" y="352" width="9" height="9" fill="#c044a2"/><rect x="448" y="352" width="9" height="9" fill="#c044a2"/><rect x="456" y="352" width="9" height="9" fill="#c1459d"/><rect x="464" y="352" width="9" height="9" fill="#c24593"/><rect x="472" y="352" width="9" height="9" fill="#c34683"/><rect x="480" y="352" width="9" height="9" fill="#c4486e"/><rect x="488" y="352" width="9" height="9" fill="#c54955"/><rect x="496" y="352" width="9" height="9" fill="#c64b43"/><rect x="504" y="352" width="9" height="9" fill="#c84c3f"/><rect x="512" y="352" width="9" height="9" fill="#c94e3b"/><rect x="520" y="352" width="9" height="9" fill="#ca4f39"/><rect x="528" y="352" width="9" height="9" fill="#ca5037"/><rect x="536" y="352" width="9" height="9" fill="#cb5135"/><rect x="544" y="352" width="9" height="9" fill="#cc5133"/><rect x="552" y="352" width="9" height="9" fill="#cc5232"/><rect x="560" y="352" width="9" height="9" fill="#cc5332"/><rect x="568" y="352" width="9" height="9" fill="#cd5332"/><rect x="576" y="352" width="9" height="9" fill="#cd5432"/><rect x="584" y="352" width="9" height="9" fill="#cd5432"/><rect x="592" y="352" width="9" height="9" fill="#ce5432"/><rect x="600" y="352" width="9" height="9" fill="#ce5432"/><rect x="608" y="352" width="9" height="9" fill="#ce5432"/><rect x="616" y="352" width="9" height="9" fill="#ce5432"/><rect x="624" y="352" width="9" height="9" fill="#ce5432"/><rect x="632" y="352" width="9" height="9" fill="#ce5432"/><rect x="640" y="352" width="9" height="9" fill="#ce5432"/><rect x="648" y="352" width="9" height="9" fill="#cd5432"/><rect x="656" y="352" width="9" height="9" fill="#ce5432"/><rect x="264" y="360" width="9" height="9" fill="#cc5232"/><rect x="272" y="360" width="9" height="9" fill="#cc5232"/><rect x="280" y="360" width="9" height="9" fill="#cc5232"/><rect x="288" y="360" width="9" height="9" fill="#cc5232"/><rect x="296" y="360" width="9" height="9" fill="#cc5232"/><rect x="304" y="360" width="9" height="9" fill="#cc5133"/><rect x="312" y="360" width="9" height="9" fill="#cb5035"/><rect x="320" y="360" width="9" height="9" fill="#ca4f38"/><rect x="328" y="360" width="9" height="9" fill="#c94e3a"/><rect x="336" y="360" width="9" height="9" fill="#c94d3c"/><rect x="344" y="360" width="9" height="9" fill="#c84d3e"/><rect x="352" y="360" width="9" height="9" fill="#c74c40"/><rect x="360" y="360" width="9" height="9" fill="#c74b42"/><rect x="368" y="360" width="9" height="9" fill="#c64a43"/><rect x="376" y="360" width="9" height="9" fill="#c64a4c"/><rect x="384" y="360" width="9" height="9" fill="#c54957"/><rect x="392" y="360" width="9" height="9" fill="#c54864"/><rect x="400" y="360" width="9" height="9" fill="#c44771"/><rect x="408" y="360" width="9" height="9" fill="#c3477f"/><rect x="416" y="360" width="9" height="9" fill="#c3468d"/><rect x="424" y="360" width="9" height="9" fill="#c2459b"/><rect x="432" y="360" width="9" height="9" fill="#c044a0"/><rect x="440" y="360" width="9" height="9" fill="#c044a2"/><rect x="448" y="360" width="9" height="9" fill="#c045a0"/><rect x="456" y="360" width="9" height="9" fill="#c1459c"/><rect x="464" y="360" width="9" height="9" fill="#c3468d"/><rect x="472" y="360" width="9" height="9" fill="#c3477c"/><rect x="480" y="360" width="9" height="9" fill="#c4486a"/><rect x="488" y="360" width="9" height="9" fill="#c64a4c"/><rect x="496" y="360" width="9" height="9" fill="#c74b41"/><rect x="504" y="360" width="9" height="9" fill="#c84d3d"/><rect x="512" y="360" width="9" height="9" fill="#c94f3a"/><rect x="520" y="360" width="9" height="9" fill="#ca5037"/><rect x="528" y="360" width="9" height="9" fill="#cb5035"/><rect x="536" y="360" width="9" height="9" fill="#cb5134"/><rect x="544" y="360" width="9" height="9" fill="#cc5233"/><rect x="552" y="360" width="9" height="9" fill="#cc5232"/><rect x="560" y="360" width="9" height="9" fill="#cc5332"/><rect x="568" y="360" width="9" height="9" fill="#cd5332"/><rect x="576" y="360" width="9" height="9" fill="#cd5432"/><rect x="584" y="360" width="9" height="9" fill="#cd5432"/><rect x="592" y="360" width="9" height="9" fill="#ce5432"/><rect x="600" y="360" width="9" height="9" fill="#ce5432"/><rect x="608" y="360" width="9" height="9" fill="#ce5432"/><rect x="616" y="360" width="9" height="9" fill="#ce5432"/><rect x="624" y="360" width="9" height="9" fill="#ce5432"/><rect x="632" y="360" width="9" height="9" fill="#cd5432"/><rect x="640" y="360" width="9" height="9" fill="#cd5432"/><rect x="648" y="360" width="9" height="9" fill="#cd5432"/><rect x="264" y="368" width="9" height="9" fill="#cb5134"/><rect x="272" y="368" width="9" height="9" fill="#cb5135"/><rect x="280" y="368" width="9" height="9" fill="#cb5135"/><rect x="288" y="368" width="9" height="9" fill="#cb5036"/><rect x="296" y="368" width="9" height="9" fill="#ca5037"/><rect x="304" y="368" width="9" height="9" fill="#ca4f38"/><rect x="312" y="368" width="9" height="9" fill="#c94f3a"/><rect x="320" y="368" width="9" height="9" fill="#c94e3b"/><rect x="328" y="368" width="9" height="9" fill="#c84d3d"/><rect x="336" y="368" width="9" height="9" fill="#c84c3f"/><rect x="344" y="368" width="9" height="9" fill="#c74c40"/><rect x="352" y="368" width="9" height="9" fill="#c74b42"/><rect x="360" y="368" width="9" height="9" fill="#c64a44"/><rect x="368" y="368" width="9" height="9" fill="#c64a4b"/><rect x="376" y="368" width="9" height="9" fill="#c54956"/><rect x="384" y="368" width="9" height="9" fill="#c54860"/><rect x="392" y="368" width="9" height="9" fill="#c4486c"/><rect x="400" y="368" width="9" height="9" fill="#c44777"/><rect x="408" y="368" width="9" height="9" fill="#c34683"/><rect x="416" y="368" width="9" height="9" fill="#c3468f"/><rect x="424" y="368" width="9" height="9" fill="#c2459a"/><rect x="432" y="368" width="9" height="9" fill="#c1459e"/><rect x="440" y="368" width="9" height="9" fill="#c1459e"/><rect x="448" y="368" width="9" height="9" fill="#c2459a"/><rect x="456" y="368" width="9" height="9" fill="#c3468c"/><rect x="464" y="368" width="9" height="9" fill="#c3477b"/><rect x="472" y="368" width="9" height="9" fill="#c4486b"/><rect x="480" y="368" width="9" height="9" fill="#c54957"/><rect x="488" y="368" width="9" height="9" fill="#c64a43"/><rect x="496" y="368" width="9" height="9" fill="#c84c3f"/><rect x="504" y="368" width="9" height="9" fill="#c94e3b"/><rect x="512" y="368" width="9" height="9" fill="#ca4f38"/><rect x="520" y="368" width="9" height="9" fill="#cb5036"/><rect x="528" y="368" width="9" height="9" fill="#cb5135"/><rect x="536" y="368" width="9" height="9" fill="#cb5134"/><rect x="544" y="368" width="9" height="9" fill="#cc5233"/><rect x="552" y="368" width="9" height="9" fill="#cc5232"/><rect x="560" y="368" width="9" height="9" fill="#cc5332"/><rect x="568" y="368" width="9" height="9" fill="#cd5332"/><rect x="576" y="368" width="9" height="9" fill="#cd5432"/><rect x="584" y="368" width="9" height="9" fill="#cd5432"/><rect x="592" y="368" width="9" height="9" fill="#ce5432"/><rect x="600" y="368" width="9" height="9" fill="#ce5432"/><rect x="608" y="368" width="9" height="9" fill="#ce5432"/><rect x="616" y="368" width="9" height="9" fill="#ce5432"/><rect x="624" y="368" width="9" height="9" fill="#cd5432"/><rect x="632" y="368" width="9" height="9" fill="#cd5432"/><rect x="264" y="376" width="9" height="9" fill="#cb5135"/><rect x="272" y="376" width="9" height="9" fill="#ca5037"/><rect x="280" y="376" width="9" height="9" fill="#ca4f38"/><rect x="288" y="376" width="9" height="9" fill="#c94f3a"/><rect x="296" y="376" width="9" height="9" fill="#c94e3c"/><rect x="304" y="376" width="9" height="9" fill="#c84d3d"/><rect x="312" y="376" width="9" height="9" fill="#c84d3d"/><rect x="320" y="376" width="9" height="9" fill="#c84d3e"/><rect x="328" y="376" width="9" height="9" fill="#c84c3f"/><rect x="336" y="376" width="9" height="9" fill="#c74b41"/><rect x="344" y="376" width="9" height="9" fill="#c74b42"/><rect x="352" y="376" width="9" height="9" fill="#c64a44"/><rect x="360" y="376" width="9" height="9" fill="#c64a4b"/><rect x="368" y="376" width="9" height="9" fill="#c54954"/><rect x="376" y="376" width="9" height="9" fill="#c5495d"/><rect x="384" y="376" width="9" height="9" fill="#c44867"/><rect x="392" y="376" width="9" height="9" fill="#c44770"/><rect x="400" y="376" width="9" height="9" fill="#c3477a"/><rect x="408" y="376" width="9" height="9" fill="#c34684"/><rect x="416" y="376" width="9" height="9" fill="#c3468c"/><rect x="424" y="376" width="9" height="9" fill="#c24593"/><rect x="432" y="376" width="9" height="9" fill="#c24595"/><rect x="440" y="376" width="9" height="9" fill="#c24691"/><rect x="448" y="376" width="9" height="9" fill="#c34686"/><rect x="456" y="376" width="9" height="9" fill="#c44772"/><rect x="464" y="376" width="9" height="9" fill="#c44866"/><rect x="472" y="376" width="9" height="9" fill="#c54956"/><rect x="480" y="376" width="9" height="9" fill="#c64a44"/><rect x="488" y="376" width="9" height="9" fill="#c74c41"/><rect x="496" y="376" width="9" height="9" fill="#c84d3d"/><rect x="504" y="376" width="9" height="9" fill="#c94e3a"/><rect x="512" y="376" width="9" height="9" fill="#ca4f38"/><rect x="520" y="376" width="9" height="9" fill="#cb5036"/><rect x="528" y="376" width="9" height="9" fill="#cb5134"/><rect x="536" y="376" width="9" height="9" fill="#cb5134"/><rect x="544" y="376" width="9" height="9" fill="#cc5233"/><rect x="552" y="376" width="9" height="9" fill="#cc5232"/><rect x="560" y="376" width="9" height="9" fill="#cc5332"/><rect x="568" y="376" width="9" height="9" fill="#cd5332"/><rect x="576" y="376" width="9" height="9" fill="#cd5332"/><rect x="584" y="376" width="9" height="9" fill="#cd5432"/><rect x="592" y="376" width="9" height="9" fill="#ce5432"/><rect x="600" y="376" width="9" height="9" fill="#ce5432"/><rect x="608" y="376" width="9" height="9" fill="#cd5432"/><rect x="616" y="376" width="9" height="9" fill="#cd5432"/><rect x="624" y="376" width="9" height="9" fill="#cd5432"/><rect x="264" y="384" width="9" height="9" fill="#ca5037"/><rect x="272" y="384" width="9" height="9" fill="#ca4f39"/><rect x="280" y="384" width="9" height="9" fill="#c94e3a"/><rect x="288" y="384" width="9" height="9" fill="#c94e3c"/><rect x="296" y="384" width="9" height="9" fill="#c84d3e"/><rect x="304" y="384" width="9" height="9" fill="#c84c3f"/><rect x="312" y="384" width="9" height="9" fill="#c84c3f"/><rect x="320" y="384" width="9" height="9" fill="#c74c40"/><rect x="328" y="384" width="9" height="9" fill="#c74b41"/><rect x="336" y="384" width="9" height="9" fill="#c74b42"/><rect x="344" y="384" width="9" height="9" fill="#c64a44"/><rect x="352" y="384" width="9" height="9" fill="#c64a4a"/><rect x="360" y="384" width="9" height="9" fill="#c54952"/><rect x="368" y="384" width="9" height="9" fill="#c5495b"/><rect x="376" y="384" width="9" height="9" fill="#c54863"/><rect x="384" y="384" width="9" height="9" fill="#c4486b"/><rect x="392" y="384" width="9" height="9" fill="#c44773"/><rect x="400" y="384" width="9" height="9" fill="#c3477b"/><rect x="408" y="384" width="9" height="9" fill="#c34682"/><rect x="416" y="384" width="9" height="9" fill="#c34687"/><rect x="424" y="384" width="9" height="9" fill="#c3468a"/><rect x="432" y="384" width="9" height="9" fill="#c3468a"/><rect x="440" y="384" width="9" height="9" fill="#c34684"/><rect x="448" y="384" width="9" height="9" fill="#c44778"/><rect x="456" y="384" width="9" height="9" fill="#c44869"/><rect x="464" y="384" width="9" height="9" fill="#c5495b"/><rect x="472" y="384" width="9" height="9" fill="#c64a4b"/><rect x="480" y="384" width="9" height="9" fill="#c74b42"/><rect x="488" y="384" width="9" height="9" fill="#c84c3f"/><rect x="496" y="384" width="9" height="9" fill="#c84d3d"/><rect x="504" y="384" width="9" height="9" fill="#c94e3a"/><rect x="512" y="384" width="9" height="9" fill="#ca4f38"/><rect x="520" y="384" width="9" height="9" fill="#cb5036"/><rect x="528" y="384" width="9" height="9" fill="#cb5135"/><rect x="536" y="384" width="9" height="9" fill="#cb5134"/><rect x="544" y="384" width="9" height="9" fill="#cc5233"/><rect x="552" y="384" width="9" height="9" fill="#cc5232"/><rect x="560" y="384" width="9" height="9" fill="#cc5232"/><rect x="568" y="384" width="9" height="9" fill="#cc5332"/><rect x="576" y="384" width="9" height="9" fill="#cd5332"/><rect x="584" y="384" width="9" height="9" fill="#cd5432"/><rect x="592" y="384" width="9" height="9" fill="#cd5432"/><rect x="600" y="384" width="9" height="9" fill="#cd5432"/><rect x="608" y="384" width="9" height="9" fill="#cd5432"/><rect x="264" y="392" width="9" height="9" fill="#ca4f38"/><rect x="272" y="392" width="9" height="9" fill="#c94e3a"/><rect x="280" y="392" width="9" height="9" fill="#c94e3c"/><rect x="288" y="392" width="9" height="9" fill="#c84d3e"/><rect x="296" y="392" width="9" height="9" fill="#c84c3f"/><rect x="304" y="392" width="9" height="9" fill="#c74c40"/><rect x="312" y="392" width="9" height="9" fill="#c74b41"/><rect x="320" y="392" width="9" height="9" fill="#c74b42"/><rect x="328" y="392" width="9" height="9" fill="#c64a43"/><rect x="336" y="392" width="9" height="9" fill="#c64a44"/><rect x="344" y="392" width="9" height="9" fill="#c64a4a"/><rect x="352" y="392" width="9" height="9" fill="#c54951"/><rect x="360" y="392" width="9" height="9" fill="#c54959"/><rect x="368" y="392" width="9" height="9" fill="#c54860"/><rect x="376" y="392" width="9" height="9" fill="#c44867"/><rect x="384" y="392" width="9" height="9" fill="#c4486e"/><rect x="392" y="392" width="9" height="9" fill="#c44774"/><rect x="400" y="392" width="9" height="9" fill="#c3477a"/><rect x="408" y="392" width="9" height="9" fill="#c3477f"/><rect x="416" y="392" width="9" height="9" fill="#c34682"/><rect x="424" y="392" width="9" height="9" fill="#c34683"/><rect x="432" y="392" width="9" height="9" fill="#c34680"/><rect x="464" y="392" width="9" height="9" fill="#c54955"/><rect x="472" y="392" width="9" height="9" fill="#c64a46"/><rect x="480" y="392" width="9" height="9" fill="#c74b42"/><rect x="488" y="392" width="9" height="9" fill="#c84c3f"/><rect x="592" y="392" width="9" height="9" fill="#cd5332"/><rect x="264" y="400" width="9" height="9" fill="#c94f3a"/><rect x="272" y="400" width="9" height="9" fill="#c94e3b"/><rect x="280" y="400" width="9" height="9" fill="#c84d3d"/><rect x="288" y="400" width="9" height="9" fill="#c84c3f"/><rect x="296" y="400" width="9" height="9" fill="#c74c40"/><rect x="304" y="400" width="9" height="9" fill="#c74b41"/><rect x="312" y="400" width="9" height="9" fill="#c74b42"/><rect x="320" y="400" width="9" height="9" fill="#c64a43"/><rect x="328" y="400" width="9" height="9" fill="#c64a45"/><rect x="336" y="400" width="9" height="9" fill="#c64a4b"/><rect x="344" y="400" width="9" height="9" fill="#c54951"/><rect x="352" y="400" width="9" height="9" fill="#c54957"/><rect x="360" y="400" width="9" height="9" fill="#c5495d"/><rect x="368" y="400" width="9" height="9" fill="#c54864"/><rect x="376" y="400" width="9" height="9" fill="#c4486a"/><rect x="384" y="400" width="9" height="9" fill="#c4476f"/><rect x="392" y="400" width="9" height="9" fill="#c44775"/><rect x="400" y="400" width="9" height="9" fill="#c44779"/><rect x="408" y="400" width="9" height="9" fill="#c3477c"/><rect x="416" y="400" width="9" height="9" fill="#c3477d"/><rect x="424" y="400" width="9" height="9" fill="#c3477d"/><rect x="272" y="408" width="9" height="9" fill="#c94d3c"/><rect x="280" y="408" width="9" height="9" fill="#c84d3e"/><rect x="288" y="408" width="9" height="9" fill="#c84c3f"/><rect x="296" y="408" width="9" height="9" fill="#c74b41"/><rect x="304" y="408" width="9" height="9" fill="#c74b42"/><rect x="312" y="408" width="9" height="9" fill="#c64a43"/><rect x="320" y="408" width="9" height="9" fill="#c64a44"/><rect x="328" y="408" width="9" height="9" fill="#c64a4a"/><rect x="336" y="408" width="9" height="9" fill="#c54950"/><rect x="344" y="408" width="9" height="9" fill="#c54955"/><rect x="352" y="408" width="9" height="9" fill="#c5495b"/><rect x="360" y="408" width="9" height="9" fill="#c54861"/><rect x="368" y="408" width="9" height="9" fill="#c44866"/><rect x="376" y="408" width="9" height="9" fill="#c4486b"/><rect x="384" y="408" width="9" height="9" fill="#c44770"/><rect x="392" y="408" width="9" height="9" fill="#c44774"/><rect x="400" y="408" width="9" height="9" fill="#c44777"/><rect x="408" y="408" width="9" height="9" fill="#c44779"/><rect x="416" y="408" width="9" height="9" fill="#c44779"/><rect x="272" y="416" width="9" height="9" fill="#c84d3d"/><rect x="280" y="416" width="9" height="9" fill="#c84c3f"/><rect x="288" y="416" width="9" height="9" fill="#c74c40"/><rect x="296" y="416" width="9" height="9" fill="#c74b41"/><rect x="304" y="416" width="9" height="9" fill="#c64b43"/><rect x="312" y="416" width="9" height="9" fill="#c64a44"/><rect x="320" y="416" width="9" height="9" fill="#c64a48"/><rect x="328" y="416" width="9" height="9" fill="#c6494e"/><rect x="336" y="416" width="9" height="9" fill="#c54954"/><rect x="344" y="416" width="9" height="9" fill="#c54959"/><rect x="352" y="416" width="9" height="9" fill="#c5485e"/><rect x="360" y="416" width="9" height="9" fill="#c54863"/><rect x="368" y="416" width="9" height="9" fill="#c44868"/><rect x="376" y="416" width="9" height="9" fill="#c4486c"/><rect x="384" y="416" width="9" height="9" fill="#c44770"/><rect x="392" y="416" width="9" height="9" fill="#c44773"/><rect x="400" y="416" width="9" height="9" fill="#c44775"/><rect x="408" y="416" width="9" height="9" fill="#c44776"/><rect x="272" y="424" width="9" height="9" fill="#c84d3e"/><rect x="280" y="424" width="9" height="9" fill="#c84c3f"/><rect x="288" y="424" width="9" height="9" fill="#c74b41"/><rect x="296" y="424" width="9" height="9" fill="#c74b42"/><rect x="304" y="424" width="9" height="9" fill="#c64a43"/><rect x="312" y="424" width="9" height="9" fill="#c64a46"/><rect x="320" y="424" width="9" height="9" fill="#c64a4c"/><rect x="328" y="424" width="9" height="9" fill="#c54951"/><rect x="336" y="424" width="9" height="9" fill="#c54956"/><rect x="344" y="424" width="9" height="9" fill="#c5495b"/><rect x="352" y="424" width="9" height="9" fill="#c54860"/><rect x="360" y="424" width="9" height="9" fill="#c44865"/><rect x="368" y="424" width="9" height="9" fill="#c44869"/><rect x="376" y="424" width="9" height="9" fill="#c4486c"/><rect x="384" y="424" width="9" height="9" fill="#c4476f"/><rect x="392" y="424" width="9" height="9" fill="#c44772"/><rect x="400" y="424" width="9" height="9" fill="#c44773"/><rect x="408" y="424" width="9" height="9" fill="#c44773"/><rect x="288" y="432" width="9" height="9" fill="#c74b41"/><rect x="296" y="432" width="9" height="9" fill="#c74b42"/><rect x="304" y="432" width="9" height="9" fill="#c64a44"/><rect x="312" y="432" width="9" height="9" fill="#c64a48"/><rect x="320" y="432" width="9" height="9" fill="#c6494e"/><rect x="328" y="432" width="9" height="9" fill="#c54953"/><rect x="336" y="432" width="9" height="9" fill="#c54958"/><rect x="344" y="432" width="9" height="9" fill="#c5495d"/><rect x="352" y="432" width="9" height="9" fill="#c54862"/><rect x="360" y="432" width="9" height="9" fill="#c44866"/><rect x="368" y="432" width="9" height="9" fill="#c44869"/><rect x="376" y="432" width="9" height="9" fill="#c4486c"/><rect x="384" y="432" width="9" height="9" fill="#c4486e"/><rect x="392" y="432" width="9" height="9" fill="#c44770"/><rect x="400" y="432" width="9" height="9" fill="#c44771"/><rect x="304" y="440" width="9" height="9" fill="#c64a44"/><rect x="312" y="440" width="9" height="9" fill="#c64a4a"/><rect x="320" y="440" width="9" height="9" fill="#c5494f"/><rect x="328" y="440" width="9" height="9" fill="#c54955"/><rect x="336" y="440" width="9" height="9" fill="#c5495a"/><rect x="344" y="440" width="9" height="9" fill="#c5485e"/><rect x="352" y="440" width="9" height="9" fill="#c54862"/><rect x="360" y="440" width="9" height="9" fill="#c44866"/><rect x="368" y="440" width="9" height="9" fill="#c44869"/><rect x="376" y="440" width="9" height="9" fill="#c4486b"/><rect x="384" y="440" width="9" height="9" fill="#c4486d"/><rect x="392" y="440" width="9" height="9" fill="#c4486e"/><rect x="312" y="448" width="9" height="9" fill="#c64a4b"/><rect x="320" y="448" width="9" height="9" fill="#c54951"/><rect x="328" y="448" width="9" height="9" fill="#c54956"/><rect x="336" y="448" width="9" height="9" fill="#c5495a"/></g><g clip-path="url(#vc)"><g filter="url(#bl)"><rect x="480" y="224" width="9" height="9" fill="#d25b31"/><rect x="488" y="224" width="9" height="9" fill="#d25b31"/><rect x="496" y="224" width="9" height="9" fill="#d25b31"/><rect x="504" y="224" width="9" height="9" fill="#d25b31"/><rect x="512" y="224" width="9" height="9" fill="#d25b31"/><rect x="520" y="224" width="9" height="9" fill="#d25b31"/><rect x="528" y="224" width="9" height="9" fill="#d25b31"/><rect x="536" y="224" width="9" height="9" fill="#d25b31"/><rect x="544" y="224" width="9" height="9" fill="#d25b31"/><rect x="552" y="224" width="9" height="9" fill="#d25b31"/><rect x="456" y="232" width="9" height="9" fill="#d05831"/><rect x="464" y="232" width="9" height="9" fill="#d15a31"/><rect x="472" y="232" width="9" height="9" fill="#d15a31"/><rect x="480" y="232" width="9" height="9" fill="#d15a31"/><rect x="488" y="232" width="9" height="9" fill="#d15931"/><rect x="496" y="232" width="9" height="9" fill="#d15a31"/><rect x="504" y="232" width="9" height="9" fill="#d15a31"/><rect x="512" y="232" width="9" height="9" fill="#d15a31"/><rect x="520" y="232" width="9" height="9" fill="#d15a31"/><rect x="528" y="232" width="9" height="9" fill="#d25a31"/><rect x="536" y="232" width="9" height="9" fill="#d15a31"/><rect x="544" y="232" width="9" height="9" fill="#d15a31"/><rect x="552" y="232" width="9" height="9" fill="#d15a31"/><rect x="560" y="232" width="9" height="9" fill="#d15a31"/><rect x="568" y="232" width="9" height="9" fill="#d15a31"/><rect x="280" y="240" width="9" height="9" fill="#b341cd"/><rect x="288" y="240" width="9" height="9" fill="#b441cb"/><rect x="296" y="240" width="9" height="9" fill="#b441ca"/><rect x="320" y="240" width="9" height="9" fill="#b642c4"/><rect x="328" y="240" width="9" height="9" fill="#b742c1"/><rect x="448" y="240" width="9" height="9" fill="#ce5432"/><rect x="456" y="240" width="9" height="9" fill="#d05832"/><rect x="464" y="240" width="9" height="9" fill="#d15931"/><rect x="472" y="240" width="9" height="9" fill="#d05831"/><rect x="480" y="240" width="9" height="9" fill="#d05732"/><rect x="488" y="240" width="9" height="9" fill="#cf5732"/><rect x="496" y="240" width="9" height="9" fill="#d05732"/><rect x="504" y="240" width="9" height="9" fill="#d05832"/><rect x="512" y="240" width="9" height="9" fill="#d05831"/><rect x="520" y="240" width="9" height="9" fill="#d05931"/><rect x="528" y="240" width="9" height="9" fill="#d15931"/><rect x="536" y="240" width="9" height="9" fill="#d05931"/><rect x="544" y="240" width="9" height="9" fill="#d05831"/><rect x="552" y="240" width="9" height="9" fill="#d05831"/><rect x="560" y="240" width="9" height="9" fill="#d05831"/><rect x="568" y="240" width="9" height="9" fill="#d05931"/><rect x="576" y="240" width="9" height="9" fill="#d05931"/><rect x="584" y="240" width="9" height="9" fill="#d15931"/><rect x="272" y="248" width="9" height="9" fill="#b140d4"/><rect x="280" y="248" width="9" height="9" fill="#b240d2"/><rect x="288" y="248" width="9" height="9" fill="#b241d1"/><rect x="296" y="248" width="9" height="9" fill="#b241d0"/><rect x="312" y="248" width="9" height="9" fill="#b341ce"/><rect x="320" y="248" width="9" height="9" fill="#b341cc"/><rect x="328" y="248" width="9" height="9" fill="#b441c9"/><rect x="336" y="248" width="9" height="9" fill="#b642c5"/><rect x="432" y="248" width="9" height="9" fill="#c94e3a"/><rect x="440" y="248" width="9" height="9" fill="#ca5037"/><rect x="448" y="248" width="9" height="9" fill="#cc5233"/><rect x="456" y="248" width="9" height="9" fill="#ce5532"/><rect x="464" y="248" width="9" height="9" fill="#cf5632"/><rect x="472" y="248" width="9" height="9" fill="#cd5432"/><rect x="480" y="248" width="9" height="9" fill="#cd5432"/><rect x="488" y="248" width="9" height="9" fill="#cd5432"/><rect x="496" y="248" width="9" height="9" fill="#cd5432"/><rect x="504" y="248" width="9" height="9" fill="#ce5532"/><rect x="512" y="248" width="9" height="9" fill="#ce5532"/><rect x="520" y="248" width="9" height="9" fill="#cf5632"/><rect x="528" y="248" width="9" height="9" fill="#d05732"/><rect x="536" y="248" width="9" height="9" fill="#cf5732"/><rect x="544" y="248" width="9" height="9" fill="#cf5632"/><rect x="552" y="248" width="9" height="9" fill="#cf5732"/><rect x="560" y="248" width="9" height="9" fill="#cf5732"/><rect x="568" y="248" width="9" height="9" fill="#d05732"/><rect x="576" y="248" width="9" height="9" fill="#d05832"/><rect x="584" y="248" width="9" height="9" fill="#d05832"/><rect x="592" y="248" width="9" height="9" fill="#d05832"/><rect x="272" y="256" width="9" height="9" fill="#af40d9"/><rect x="280" y="256" width="9" height="9" fill="#b040d8"/><rect x="288" y="256" width="9" height="9" fill="#b040d7"/><rect x="296" y="256" width="9" height="9" fill="#b040d7"/><rect x="312" y="256" width="9" height="9" fill="#b140d6"/><rect x="320" y="256" width="9" height="9" fill="#b140d5"/><rect x="328" y="256" width="9" height="9" fill="#b241d2"/><rect x="336" y="256" width="9" height="9" fill="#b341ce"/><rect x="352" y="256" width="9" height="9" fill="#b642c3"/><rect x="360" y="256" width="9" height="9" fill="#b842bc"/><rect x="368" y="256" width="9" height="9" fill="#ba43b4"/><rect x="384" y="256" width="9" height="9" fill="#c044a1"/><rect x="392" y="256" width="9" height="9" fill="#c24593"/><rect x="408" y="256" width="9" height="9" fill="#c54864"/><rect x="416" y="256" width="9" height="9" fill="#c64a4c"/><rect x="424" y="256" width="9" height="9" fill="#c74c41"/><rect x="432" y="256" width="9" height="9" fill="#c94d3c"/><rect x="440" y="256" width="9" height="9" fill="#c94e3b"/><rect x="448" y="256" width="9" height="9" fill="#ca4f39"/><rect x="456" y="256" width="9" height="9" fill="#cb5036"/><rect x="464" y="256" width="9" height="9" fill="#cb5036"/><rect x="472" y="256" width="9" height="9" fill="#ca5037"/><rect x="480" y="256" width="9" height="9" fill="#cb5036"/><rect x="488" y="256" width="9" height="9" fill="#cb5035"/><rect x="496" y="256" width="9" height="9" fill="#cb5134"/><rect x="504" y="256" width="9" height="9" fill="#cb5134"/><rect x="512" y="256" width="9" height="9" fill="#cc5233"/><rect x="520" y="256" width="9" height="9" fill="#cc5232"/><rect x="528" y="256" width="9" height="9" fill="#cd5332"/><rect x="536" y="256" width="9" height="9" fill="#cd5432"/><rect x="544" y="256" width="9" height="9" fill="#cd5432"/><rect x="552" y="256" width="9" height="9" fill="#ce5432"/><rect x="560" y="256" width="9" height="9" fill="#ce5532"/><rect x="568" y="256" width="9" height="9" fill="#cf5632"/><rect x="576" y="256" width="9" height="9" fill="#cf5632"/><rect x="584" y="256" width="9" height="9" fill="#cf5732"/><rect x="592" y="256" width="9" height="9" fill="#cf5732"/><rect x="272" y="264" width="9" height="9" fill="#ad40dd"/><rect x="280" y="264" width="9" height="9" fill="#ae40dc"/><rect x="288" y="264" width="9" height="9" fill="#ae40dc"/><rect x="296" y="264" width="9" height="9" fill="#ae40dc"/><rect x="312" y="264" width="9" height="9" fill="#ae40db"/><rect x="320" y="264" width="9" height="9" fill="#af40da"/><rect x="328" y="264" width="9" height="9" fill="#af40d9"/><rect x="336" y="264" width="9" height="9" fill="#b040d6"/><rect x="352" y="264" width="9" height="9" fill="#b341cc"/><rect x="360" y="264" width="9" height="9" fill="#b541c6"/><rect x="368" y="264" width="9" height="9" fill="#b742be"/><rect x="376" y="264" width="9" height="9" fill="#ba43b5"/><rect x="384" y="264" width="9" height="9" fill="#bd44aa"/><rect x="392" y="264" width="9" height="9" fill="#c045a0"/><rect x="400" y="264" width="9" height="9" fill="#c3468e"/><rect x="408" y="264" width="9" height="9" fill="#c44778"/><rect x="416" y="264" width="9" height="9" fill="#c44864"/><rect x="424" y="264" width="9" height="9" fill="#c64a44"/><rect x="432" y="264" width="9" height="9" fill="#c84d3d"/><rect x="440" y="264" width="9" height="9" fill="#c94e3b"/><rect x="448" y="264" width="9" height="9" fill="#c94d3c"/><rect x="456" y="264" width="9" height="9" fill="#c84d3d"/><rect x="464" y="264" width="9" height="9" fill="#c84d3e"/><rect x="472" y="264" width="9" height="9" fill="#c84d3e"/><rect x="480" y="264" width="9" height="9" fill="#c84d3e"/><rect x="488" y="264" width="9" height="9" fill="#c84d3d"/><rect x="496" y="264" width="9" height="9" fill="#c94e3c"/><rect x="504" y="264" width="9" height="9" fill="#c94e3b"/><rect x="512" y="264" width="9" height="9" fill="#c94f3a"/><rect x="520" y="264" width="9" height="9" fill="#ca4f39"/><rect x="528" y="264" width="9" height="9" fill="#ca4f38"/><rect x="536" y="264" width="9" height="9" fill="#cb5135"/><rect x="544" y="264" width="9" height="9" fill="#cc5233"/><rect x="552" y="264" width="9" height="9" fill="#cc5232"/><rect x="560" y="264" width="9" height="9" fill="#cd5432"/><rect x="568" y="264" width="9" height="9" fill="#ce5532"/><rect x="576" y="264" width="9" height="9" fill="#ce5532"/><rect x="584" y="264" width="9" height="9" fill="#ce5532"/><rect x="272" y="272" width="9" height="9" fill="#ab3fe1"/><rect x="280" y="272" width="9" height="9" fill="#ac3fe1"/><rect x="288" y="272" width="9" height="9" fill="#ac3fe1"/><rect x="296" y="272" width="9" height="9" fill="#ac3fe1"/><rect x="304" y="272" width="9" height="9" fill="#ac3fe1"/><rect x="312" y="272" width="9" height="9" fill="#ac3fe0"/><rect x="320" y="272" width="9" height="9" fill="#ad3fdf"/><rect x="328" y="272" width="9" height="9" fill="#ad3fde"/><rect x="336" y="272" width="9" height="9" fill="#ae40dc"/><rect x="352" y="272" width="9" height="9" fill="#b140d6"/><rect x="360" y="272" width="9" height="9" fill="#b241d0"/><rect x="368" y="272" width="9" height="9" fill="#b541c8"/><rect x="376" y="272" width="9" height="9" fill="#b742bf"/><rect x="384" y="272" width="9" height="9" fill="#ba43b4"/><rect x="392" y="272" width="9" height="9" fill="#be44a8"/><rect x="400" y="272" width="9" height="9" fill="#c1459c"/><rect x="408" y="272" width="9" height="9" fill="#c34687"/><rect x="416" y="272" width="9" height="9" fill="#c44776"/><rect x="424" y="272" width="9" height="9" fill="#c5495d"/><rect x="432" y="272" width="9" height="9" fill="#c74b42"/><rect x="440" y="272" width="9" height="9" fill="#c84c3f"/><rect x="448" y="272" width="9" height="9" fill="#c74c41"/><rect x="456" y="272" width="9" height="9" fill="#c64b43"/><rect x="464" y="272" width="9" height="9" fill="#c64a48"/><rect x="472" y="272" width="9" height="9" fill="#c64a4b"/><rect x="480" y="272" width="9" height="9" fill="#c64a48"/><rect x="488" y="272" width="9" height="9" fill="#c64a45"/><rect x="496" y="272" width="9" height="9" fill="#c64a44"/><rect x="504" y="272" width="9" height="9" fill="#c74b42"/><rect x="512" y="272" width="9" height="9" fill="#c74c40"/><rect x="520" y="272" width="9" height="9" fill="#c84c3f"/><rect x="528" y="272" width="9" height="9" fill="#c84d3d"/><rect x="536" y="272" width="9" height="9" fill="#ca4f39"/><rect x="544" y="272" width="9" height="9" fill="#cb5036"/><rect x="552" y="272" width="9" height="9" fill="#cc5133"/><rect x="560" y="272" width="9" height="9" fill="#cc5232"/><rect x="568" y="272" width="9" height="9" fill="#cd5332"/><rect x="576" y="272" width="9" height="9" fill="#cd5432"/><rect x="584" y="272" width="9" height="9" fill="#ce5432"/><rect x="264" y="280" width="9" height="9" fill="#aa3fe5"/><rect x="272" y="280" width="9" height="9" fill="#a93fe6"/><rect x="280" y="280" width="9" height="9" fill="#a93fe6"/><rect x="288" y="280" width="9" height="9" fill="#a93fe6"/><rect x="296" y="280" width="9" height="9" fill="#a93fe6"/><rect x="304" y="280" width="9" height="9" fill="#aa3fe5"/><rect x="312" y="280" width="9" height="9" fill="#aa3fe4"/><rect x="320" y="280" width="9" height="9" fill="#aa3fe3"/><rect x="328" y="280" width="9" height="9" fill="#ab3fe2"/><rect x="336" y="280" width="9" height="9" fill="#ac3fe0"/><rect x="344" y="280" width="9" height="9" fill="#ad3fde"/><rect x="352" y="280" width="9" height="9" fill="#ae40dc"/><rect x="360" y="280" width="9" height="9" fill="#af40d9"/><rect x="368" y="280" width="9" height="9" fill="#b140d3"/><rect x="376" y="280" width="9" height="9" fill="#b441cb"/><rect x="384" y="280" width="9" height="9" fill="#b742c0"/><rect x="392" y="280" width="9" height="9" fill="#bb43b2"/><rect x="400" y="280" width="9" height="9" fill="#bf44a3"/><rect x="408" y="280" width="9" height="9" fill="#c24592"/><rect x="416" y="280" width="9" height="9" fill="#c3468b"/><rect x="424" y="280" width="9" height="9" fill="#c34683"/><rect x="432" y="280" width="9" height="9" fill="#c44868"/><rect x="440" y="280" width="9" height="9" fill="#c6494e"/><rect x="448" y="280" width="9" height="9" fill="#c54953"/><rect x="456" y="280" width="9" height="9" fill="#c54860"/><rect x="464" y="280" width="9" height="9" fill="#c4486e"/><rect x="472" y="280" width="9" height="9" fill="#c44770"/><rect x="480" y="280" width="9" height="9" fill="#c4486c"/><rect x="488" y="280" width="9" height="9" fill="#c44868"/><rect x="496" y="280" width="9" height="9" fill="#c54864"/><rect x="504" y="280" width="9" height="9" fill="#c54954"/><rect x="512" y="280" width="9" height="9" fill="#c64a45"/><rect x="520" y="280" width="9" height="9" fill="#c74b42"/><rect x="528" y="280" width="9" height="9" fill="#c84c3f"/><rect x="536" y="280" width="9" height="9" fill="#c94e3c"/><rect x="544" y="280" width="9" height="9" fill="#ca4f38"/><rect x="552" y="280" width="9" height="9" fill="#cb5135"/><rect x="560" y="280" width="9" height="9" fill="#cc5232"/><rect x="568" y="280" width="9" height="9" fill="#cc5332"/><rect x="576" y="280" width="9" height="9" fill="#cd5332"/><rect x="264" y="288" width="9" height="9" fill="#a83ee9"/><rect x="272" y="288" width="9" height="9" fill="#a83ee9"/><rect x="280" y="288" width="9" height="9" fill="#a73eea"/><rect x="288" y="288" width="9" height="9" fill="#a73eeb"/><rect x="296" y="288" width="9" height="9" fill="#a73eea"/><rect x="304" y="288" width="9" height="9" fill="#a83eea"/><rect x="312" y="288" width="9" height="9" fill="#a83ee9"/><rect x="320" y="288" width="9" height="9" fill="#a83fe8"/><rect x="328" y="288" width="9" height="9" fill="#a93fe6"/><rect x="336" y="288" width="9" height="9" fill="#aa3fe5"/><rect x="344" y="288" width="9" height="9" fill="#ab3fe3"/><rect x="352" y="288" width="9" height="9" fill="#ac3fe1"/><rect x="360" y="288" width="9" height="9" fill="#ad3fdf"/><rect x="368" y="288" width="9" height="9" fill="#ae40dc"/><rect x="376" y="288" width="9" height="9" fill="#b040d8"/><rect x="384" y="288" width="9" height="9" fill="#b341ce"/><rect x="392" y="288" width="9" height="9" fill="#b742c1"/><rect x="400" y="288" width="9" height="9" fill="#bb43b1"/><rect x="408" y="288" width="9" height="9" fill="#bf44a4"/><rect x="416" y="288" width="9" height="9" fill="#c044a1"/><rect x="424" y="288" width="9" height="9" fill="#c1459c"/><rect x="432" y="288" width="9" height="9" fill="#c3468a"/><rect x="440" y="288" width="9" height="9" fill="#c44777"/><rect x="448" y="288" width="9" height="9" fill="#c44776"/><rect x="456" y="288" width="9" height="9" fill="#c3477f"/><rect x="464" y="288" width="9" height="9" fill="#c3468b"/><rect x="472" y="288" width="9" height="9" fill="#c3468c"/><rect x="480" y="288" width="9" height="9" fill="#c34687"/><rect x="488" y="288" width="9" height="9" fill="#c34682"/><rect x="496" y="288" width="9" height="9" fill="#c44778"/><rect x="504" y="288" width="9" height="9" fill="#c44869"/><rect x="512" y="288" width="9" height="9" fill="#c54958"/><rect x="520" y="288" width="9" height="9" fill="#c64a49"/><rect x="528" y="288" width="9" height="9" fill="#c74b42"/><rect x="536" y="288" width="9" height="9" fill="#c84d3e"/><rect x="544" y="288" width="9" height="9" fill="#c94e3b"/><rect x="552" y="288" width="9" height="9" fill="#ca5037"/><rect x="560" y="288" width="9" height="9" fill="#cb5134"/><rect x="568" y="288" width="9" height="9" fill="#cc5133"/><rect x="576" y="288" width="9" height="9" fill="#cc5233"/><rect x="264" y="296" width="9" height="9" fill="#a73eeb"/><rect x="272" y="296" width="9" height="9" fill="#a63eed"/><rect x="280" y="296" width="9" height="9" fill="#a53eee"/><rect x="288" y="296" width="9" height="9" fill="#a53ef0"/><rect x="296" y="296" width="9" height="9" fill="#a53eee"/><rect x="304" y="296" width="9" height="9" fill="#a63eed"/><rect x="312" y="296" width="9" height="9" fill="#a63eec"/><rect x="320" y="296" width="9" height="9" fill="#a73eeb"/><rect x="328" y="296" width="9" height="9" fill="#a73eeb"/><rect x="336" y="296" width="9" height="9" fill="#a83ee9"/><rect x="344" y="296" width="9" height="9" fill="#a83fe8"/><rect x="352" y="296" width="9" height="9" fill="#a93fe6"/><rect x="360" y="296" width="9" height="9" fill="#aa3fe4"/><rect x="368" y="296" width="9" height="9" fill="#ab3fe2"/><rect x="376" y="296" width="9" height="9" fill="#ac3fdf"/><rect x="384" y="296" width="9" height="9" fill="#ae40db"/><rect x="392" y="296" width="9" height="9" fill="#b140d4"/><rect x="400" y="296" width="9" height="9" fill="#b541c7"/><rect x="408" y="296" width="9" height="9" fill="#b842bb"/><rect x="416" y="296" width="9" height="9" fill="#bb43b2"/><rect x="424" y="296" width="9" height="9" fill="#bd44aa"/><rect x="432" y="296" width="9" height="9" fill="#c045a0"/><rect x="440" y="296" width="9" height="9" fill="#c24598"/><rect x="448" y="296" width="9" height="9" fill="#c24597"/><rect x="456" y="296" width="9" height="9" fill="#c2459a"/><rect x="464" y="296" width="9" height="9" fill="#c2459b"/><rect x="472" y="296" width="9" height="9" fill="#c1459c"/><rect x="480" y="296" width="9" height="9" fill="#c2459c"/><rect x="488" y="296" width="9" height="9" fill="#c24597"/><rect x="496" y="296" width="9" height="9" fill="#c3468c"/><rect x="504" y="296" width="9" height="9" fill="#c3477c"/><rect x="512" y="296" width="9" height="9" fill="#c4486c"/><rect x="520" y="296" width="9" height="9" fill="#c5495a"/><rect x="528" y="296" width="9" height="9" fill="#c64a48"/><rect x="536" y="296" width="9" height="9" fill="#c74b41"/><rect x="544" y="296" width="9" height="9" fill="#c84d3e"/><rect x="552" y="296" width="9" height="9" fill="#c94e3b"/><rect x="560" y="296" width="9" height="9" fill="#ca4f38"/><rect x="568" y="296" width="9" height="9" fill="#ca5037"/><rect x="256" y="304" width="9" height="9" fill="#a63eed"/><rect x="264" y="304" width="9" height="9" fill="#a53eee"/><rect x="272" y="304" width="9" height="9" fill="#a53eef"/><rect x="280" y="304" width="9" height="9" fill="#a43ef0"/><rect x="288" y="304" width="9" height="9" fill="#a43ef1"/><rect x="296" y="304" width="9" height="9" fill="#a43ef1"/><rect x="304" y="304" width="9" height="9" fill="#a43ef0"/><rect x="312" y="304" width="9" height="9" fill="#a53eef"/><rect x="320" y="304" width="9" height="9" fill="#a53eef"/><rect x="328" y="304" width="9" height="9" fill="#a53eee"/><rect x="336" y="304" width="9" height="9" fill="#a63eed"/><rect x="344" y="304" width="9" height="9" fill="#a63eec"/><rect x="352" y="304" width="9" height="9" fill="#a73eeb"/><rect x="360" y="304" width="9" height="9" fill="#a73eea"/><rect x="368" y="304" width="9" height="9" fill="#a83fe8"/><rect x="376" y="304" width="9" height="9" fill="#a93fe6"/><rect x="384" y="304" width="9" height="9" fill="#aa3fe5"/><rect x="392" y="304" width="9" height="9" fill="#ac3fe1"/><rect x="400" y="304" width="9" height="9" fill="#af40da"/><rect x="408" y="304" width="9" height="9" fill="#b241d1"/><rect x="416" y="304" width="9" height="9" fill="#b542c5"/><rect x="424" y="304" width="9" height="9" fill="#b942ba"/><rect x="432" y="304" width="9" height="9" fill="#bc43af"/><rect x="440" y="304" width="9" height="9" fill="#be44a9"/><rect x="448" y="304" width="9" height="9" fill="#be44a7"/><rect x="456" y="304" width="9" height="9" fill="#be44a6"/><rect x="464" y="304" width="9" height="9" fill="#bf44a4"/><rect x="472" y="304" width="9" height="9" fill="#be44a6"/><rect x="480" y="304" width="9" height="9" fill="#bf44a5"/><rect x="488" y="304" width="9" height="9" fill="#c044a1"/><rect x="496" y="304" width="9" height="9" fill="#c1459c"/><rect x="504" y="304" width="9" height="9" fill="#c3468f"/><rect x="512" y="304" width="9" height="9" fill="#c3477e"/><rect x="520" y="304" width="9" height="9" fill="#c4486d"/><rect x="528" y="304" width="9" height="9" fill="#c5495a"/><rect x="536" y="304" width="9" height="9" fill="#c64a47"/><rect x="256" y="312" width="9" height="9" fill="#a53eee"/><rect x="264" y="312" width="9" height="9" fill="#a53eef"/><rect x="272" y="312" width="9" height="9" fill="#a43ef1"/><rect x="280" y="312" width="9" height="9" fill="#a43ef2"/><rect x="288" y="312" width="9" height="9" fill="#a33ef2"/><rect x="296" y="312" width="9" height="9" fill="#a33ef2"/><rect x="304" y="312" width="9" height="9" fill="#a33ef2"/><rect x="312" y="312" width="9" height="9" fill="#a43ef2"/><rect x="320" y="312" width="9" height="9" fill="#a43ef1"/><rect x="328" y="312" width="9" height="9" fill="#a43ef1"/><rect x="336" y="312" width="9" height="9" fill="#a43ef0"/><rect x="344" y="312" width="9" height="9" fill="#a53eef"/><rect x="352" y="312" width="9" height="9" fill="#a53eef"/><rect x="360" y="312" width="9" height="9" fill="#a53eee"/><rect x="368" y="312" width="9" height="9" fill="#a63eed"/><rect x="376" y="312" width="9" height="9" fill="#a63eec"/><rect x="384" y="312" width="9" height="9" fill="#a73eeb"/><rect x="392" y="312" width="9" height="9" fill="#a83fe8"/><rect x="400" y="312" width="9" height="9" fill="#aa3fe4"/><rect x="408" y="312" width="9" height="9" fill="#ac3fdf"/><rect x="416" y="312" width="9" height="9" fill="#b040d8"/><rect x="424" y="312" width="9" height="9" fill="#b441ca"/><rect x="432" y="312" width="9" height="9" fill="#b842be"/><rect x="440" y="312" width="9" height="9" fill="#ba43b6"/><rect x="448" y="312" width="9" height="9" fill="#ba43b6"/><rect x="456" y="312" width="9" height="9" fill="#ba43b5"/><rect x="464" y="312" width="9" height="9" fill="#bb43b3"/><rect x="472" y="312" width="9" height="9" fill="#bb43b1"/><rect x="480" y="312" width="9" height="9" fill="#bc43ae"/><rect x="488" y="312" width="9" height="9" fill="#be44a9"/><rect x="496" y="312" width="9" height="9" fill="#bf44a4"/><rect x="504" y="312" width="9" height="9" fill="#c1459d"/><rect x="512" y="312" width="9" height="9" fill="#c24691"/><rect x="256" y="320" width="9" height="9" fill="#a43ef0"/><rect x="264" y="320" width="9" height="9" fill="#a43ef1"/><rect x="272" y="320" width="9" height="9" fill="#a43ef2"/><rect x="280" y="320" width="9" height="9" fill="#a33ef3"/><rect x="288" y="320" width="9" height="9" fill="#a33ef3"/><rect x="296" y="320" width="9" height="9" fill="#a33df4"/><rect x="304" y="320" width="9" height="9" fill="#a33df4"/><rect x="312" y="320" width="9" height="9" fill="#a33ef3"/><rect x="320" y="320" width="9" height="9" fill="#a33ef3"/><rect x="328" y="320" width="9" height="9" fill="#a33ef3"/><rect x="336" y="320" width="9" height="9" fill="#a33ef3"/><rect x="344" y="320" width="9" height="9" fill="#a33ef2"/><rect x="352" y="320" width="9" height="9" fill="#a33ef2"/><rect x="360" y="320" width="9" height="9" fill="#a43ef2"/><rect x="368" y="320" width="9" height="9" fill="#a43ef1"/><rect x="376" y="320" width="9" height="9" fill="#a43ef0"/><rect x="384" y="320" width="9" height="9" fill="#a53eef"/><rect x="392" y="320" width="9" height="9" fill="#a63eed"/><rect x="400" y="320" width="9" height="9" fill="#a73eeb"/><rect x="408" y="320" width="9" height="9" fill="#a93fe7"/><rect x="416" y="320" width="9" height="9" fill="#ac3fe0"/><rect x="424" y="320" width="9" height="9" fill="#b040d9"/><rect x="432" y="320" width="9" height="9" fill="#b441cc"/><rect x="440" y="320" width="9" height="9" fill="#b642c4"/><rect x="448" y="320" width="9" height="9" fill="#b642c4"/><rect x="456" y="320" width="9" height="9" fill="#b642c5"/><rect x="464" y="320" width="9" height="9" fill="#b742bf"/><rect x="472" y="320" width="9" height="9" fill="#b842bb"/><rect x="480" y="320" width="9" height="9" fill="#ba43b6"/><rect x="488" y="320" width="9" height="9" fill="#bb43b1"/><rect x="256" y="328" width="9" height="9" fill="#a43ef1"/><rect x="264" y="328" width="9" height="9" fill="#a33ef2"/><rect x="272" y="328" width="9" height="9" fill="#a33ef3"/><rect x="280" y="328" width="9" height="9" fill="#a33ef3"/><rect x="288" y="328" width="9" height="9" fill="#a23df4"/><rect x="296" y="328" width="9" height="9" fill="#a23df4"/><rect x="304" y="328" width="9" height="9" fill="#a23df5"/><rect x="312" y="328" width="9" height="9" fill="#a23df5"/><rect x="320" y="328" width="9" height="9" fill="#a23df5"/><rect x="328" y="328" width="9" height="9" fill="#a23df5"/><rect x="336" y="328" width="9" height="9" fill="#a23df5"/><rect x="344" y="328" width="9" height="9" fill="#a23df5"/><rect x="352" y="328" width="9" height="9" fill="#a23df5"/><rect x="360" y="328" width="9" height="9" fill="#a23df4"/><rect x="368" y="328" width="9" height="9" fill="#a23df4"/><rect x="376" y="328" width="9" height="9" fill="#a33ef3"/><rect x="384" y="328" width="9" height="9" fill="#a33ef2"/><rect x="392" y="328" width="9" height="9" fill="#a43ef0"/><rect x="400" y="328" width="9" height="9" fill="#a53eee"/><rect x="408" y="328" width="9" height="9" fill="#a73eeb"/><rect x="416" y="328" width="9" height="9" fill="#a93fe7"/><rect x="424" y="328" width="9" height="9" fill="#ac3fe0"/><rect x="432" y="328" width="9" height="9" fill="#b040d8"/><rect x="440" y="328" width="9" height="9" fill="#b241d0"/><rect x="448" y="328" width="9" height="9" fill="#b341ce"/><rect x="456" y="328" width="9" height="9" fill="#b341cd"/><rect x="464" y="328" width="9" height="9" fill="#b441c9"/><rect x="472" y="328" width="9" height="9" fill="#b642c4"/><rect x="256" y="336" width="9" height="9" fill="#a33ef2"/><rect x="264" y="336" width="9" height="9" fill="#a33ef3"/><rect x="272" y="336" width="9" height="9" fill="#a33ef3"/><rect x="280" y="336" width="9" height="9" fill="#a23df4"/><rect x="288" y="336" width="9" height="9" fill="#a23df5"/><rect x="296" y="336" width="9" height="9" fill="#a23df5"/><rect x="304" y="336" width="9" height="9" fill="#a23df6"/><rect x="312" y="336" width="9" height="9" fill="#a23df6"/><rect x="320" y="336" width="9" height="9" fill="#a13df6"/><rect x="328" y="336" width="9" height="9" fill="#a13df6"/><rect x="336" y="336" width="9" height="9" fill="#a13df6"/><rect x="344" y="336" width="9" height="9" fill="#a13df7"/><rect x="352" y="336" width="9" height="9" fill="#a13df7"/><rect x="360" y="336" width="9" height="9" fill="#a13df7"/><rect x="368" y="336" width="9" height="9" fill="#a13df6"/><rect x="376" y="336" width="9" height="9" fill="#a23df6"/><rect x="384" y="336" width="9" height="9" fill="#a23df4"/><rect x="392" y="336" width="9" height="9" fill="#a33ef3"/><rect x="400" y="336" width="9" height="9" fill="#a43ef1"/><rect x="408" y="336" width="9" height="9" fill="#a53eee"/><rect x="416" y="336" width="9" height="9" fill="#a73eeb"/><rect x="424" y="336" width="9" height="9" fill="#a93fe6"/><rect x="432" y="336" width="9" height="9" fill="#ad3fde"/><rect x="440" y="336" width="9" height="9" fill="#af40d9"/><rect x="448" y="336" width="9" height="9" fill="#b040d8"/><rect x="456" y="336" width="9" height="9" fill="#b140d5"/><rect x="464" y="336" width="9" height="9" fill="#b241d1"/><rect x="256" y="344" width="9" height="9" fill="#a33ef3"/><rect x="264" y="344" width="9" height="9" fill="#a33ef3"/><rect x="272" y="344" width="9" height="9" fill="#a33df4"/><rect x="280" y="344" width="9" height="9" fill="#a23df4"/><rect x="288" y="344" width="9" height="9" fill="#a23df5"/><rect x="296" y="344" width="9" height="9" fill="#a23df6"/><rect x="304" y="344" width="9" height="9" fill="#a13df6"/><rect x="312" y="344" width="9" height="9" fill="#a13df7"/><rect x="320" y="344" width="9" height="9" fill="#a13df7"/><rect x="328" y="344" width="9" height="9" fill="#a13df7"/><rect x="336" y="344" width="9" height="9" fill="#a13df8"/><rect x="344" y="344" width="9" height="9" fill="#a03df8"/><rect x="352" y="344" width="9" height="9" fill="#a03df8"/><rect x="360" y="344" width="9" height="9" fill="#a03df8"/><rect x="368" y="344" width="9" height="9" fill="#a03df8"/><rect x="376" y="344" width="9" height="9" fill="#a13df8"/><rect x="384" y="344" width="9" height="9" fill="#a13df7"/><rect x="392" y="344" width="9" height="9" fill="#a23df5"/><rect x="400" y="344" width="9" height="9" fill="#a33ef3"/><rect x="408" y="344" width="9" height="9" fill="#a43ef2"/><rect x="416" y="344" width="9" height="9" fill="#a53eee"/><rect x="424" y="344" width="9" height="9" fill="#a73eea"/><rect x="432" y="344" width="9" height="9" fill="#aa3fe5"/><rect x="440" y="344" width="9" height="9" fill="#ac3fe0"/><rect x="448" y="344" width="9" height="9" fill="#ad3fde"/><rect x="456" y="344" width="9" height="9" fill="#ae40db"/><rect x="256" y="352" width="9" height="9" fill="#a33ef3"/><rect x="264" y="352" width="9" height="9" fill="#a33df4"/><rect x="272" y="352" width="9" height="9" fill="#a23df4"/><rect x="280" y="352" width="9" height="9" fill="#a23df5"/><rect x="288" y="352" width="9" height="9" fill="#a23df5"/><rect x="296" y="352" width="9" height="9" fill="#a13df6"/><rect x="304" y="352" width="9" height="9" fill="#a13df7"/><rect x="312" y="352" width="9" height="9" fill="#a13df7"/><rect x="320" y="352" width="9" height="9" fill="#a13df8"/><rect x="328" y="352" width="9" height="9" fill="#a03df8"/><rect x="336" y="352" width="9" height="9" fill="#a03df9"/><rect x="344" y="352" width="9" height="9" fill="#a03df9"/><rect x="352" y="352" width="9" height="9" fill="#a03df9"/><rect x="360" y="352" width="9" height="9" fill="#9f3df9"/><rect x="368" y="352" width="9" height="9" fill="#9f3df9"/><rect x="376" y="352" width="9" height="9" fill="#a03df9"/><rect x="384" y="352" width="9" height="9" fill="#a03df9"/><rect x="392" y="352" width="9" height="9" fill="#a13df8"/><rect x="400" y="352" width="9" height="9" fill="#a13df7"/><rect x="408" y="352" width="9" height="9" fill="#a23df5"/><rect x="416" y="352" width="9" height="9" fill="#a33ef3"/><rect x="424" y="352" width="9" height="9" fill="#a53eef"/><rect x="432" y="352" width="9" height="9" fill="#a73eeb"/><rect x="440" y="352" width="9" height="9" fill="#a93fe7"/><rect x="448" y="352" width="9" height="9" fill="#ab3fe3"/><rect x="256" y="360" width="9" height="9" fill="#a23df4"/><rect x="264" y="360" width="9" height="9" fill="#a23df4"/><rect x="272" y="360" width="9" height="9" fill="#a23df5"/><rect x="280" y="360" width="9" height="9" fill="#a23df5"/><rect x="288" y="360" width="9" height="9" fill="#a23df6"/><rect x="296" y="360" width="9" height="9" fill="#a13df6"/><rect x="304" y="360" width="9" height="9" fill="#a13df7"/><rect x="312" y="360" width="9" height="9" fill="#a13df8"/><rect x="320" y="360" width="9" height="9" fill="#a03df8"/><rect x="328" y="360" width="9" height="9" fill="#a03df9"/><rect x="336" y="360" width="9" height="9" fill="#a03df9"/><rect x="344" y="360" width="9" height="9" fill="#a03df9"/><rect x="352" y="360" width="9" height="9" fill="#9f3df9"/><rect x="360" y="360" width="9" height="9" fill="#9f3df8"/><rect x="368" y="360" width="9" height="9" fill="#9f3df8"/><rect x="376" y="360" width="9" height="9" fill="#9e3df8"/><rect x="384" y="360" width="9" height="9" fill="#9e3df8"/><rect x="392" y="360" width="9" height="9" fill="#9f3df8"/><rect x="400" y="360" width="9" height="9" fill="#9f3df8"/><rect x="408" y="360" width="9" height="9" fill="#9f3df9"/><rect x="416" y="360" width="9" height="9" fill="#a13df8"/><rect x="424" y="360" width="9" height="9" fill="#a23df5"/><rect x="432" y="360" width="9" height="9" fill="#a43ef1"/><rect x="440" y="360" width="9" height="9" fill="#a63eec"/><rect x="256" y="368" width="9" height="9" fill="#a23df5"/><rect x="264" y="368" width="9" height="9" fill="#a23df5"/><rect x="272" y="368" width="9" height="9" fill="#a23df5"/><rect x="280" y="368" width="9" height="9" fill="#a23df6"/><rect x="288" y="368" width="9" height="9" fill="#a13df6"/><rect x="296" y="368" width="9" height="9" fill="#a13df7"/><rect x="304" y="368" width="9" height="9" fill="#a13df7"/><rect x="312" y="368" width="9" height="9" fill="#a13df8"/><rect x="320" y="368" width="9" height="9" fill="#a03df8"/><rect x="328" y="368" width="9" height="9" fill="#a03df9"/><rect x="336" y="368" width="9" height="9" fill="#a03df9"/><rect x="344" y="368" width="9" height="9" fill="#9f3df9"/><rect x="352" y="368" width="9" height="9" fill="#9f3df8"/><rect x="360" y="368" width="9" height="9" fill="#9e3cf8"/><rect x="368" y="368" width="9" height="9" fill="#9e3cf8"/><rect x="376" y="368" width="9" height="9" fill="#9e3cf8"/><rect x="384" y="368" width="9" height="9" fill="#9d3cf8"/><rect x="392" y="368" width="9" height="9" fill="#9d3cf7"/><rect x="400" y="368" width="9" height="9" fill="#9d3cf7"/><rect x="408" y="368" width="9" height="9" fill="#9d3cf7"/><rect x="416" y="368" width="9" height="9" fill="#9d3cf8"/><rect x="424" y="368" width="9" height="9" fill="#9f3df9"/><rect x="432" y="368" width="9" height="9" fill="#a13df6"/><rect x="440" y="368" width="9" height="9" fill="#a43ef2"/><rect x="448" y="368" width="9" height="9" fill="#a63eed"/><rect x="256" y="376" width="9" height="9" fill="#a23df6"/><rect x="264" y="376" width="9" height="9" fill="#a23df6"/><rect x="272" y="376" width="9" height="9" fill="#a13df6"/><rect x="280" y="376" width="9" height="9" fill="#a13df6"/><rect x="288" y="376" width="9" height="9" fill="#a13df7"/><rect x="296" y="376" width="9" height="9" fill="#a13df7"/><rect x="304" y="376" width="9" height="9" fill="#a13df8"/><rect x="312" y="376" width="9" height="9" fill="#a03df8"/><rect x="320" y="376" width="9" height="9" fill="#a03df9"/><rect x="328" y="376" width="9" height="9" fill="#a03df9"/><rect x="336" y="376" width="9" height="9" fill="#a03df9"/><rect x="344" y="376" width="9" height="9" fill="#9f3df9"/><rect x="352" y="376" width="9" height="9" fill="#9f3df8"/><rect x="360" y="376" width="9" height="9" fill="#9e3cf8"/><rect x="368" y="376" width="9" height="9" fill="#9d3cf8"/><rect x="376" y="376" width="9" height="9" fill="#9d3cf7"/><rect x="384" y="376" width="9" height="9" fill="#9c3cf7"/><rect x="392" y="376" width="9" height="9" fill="#9b3bf7"/><rect x="400" y="376" width="9" height="9" fill="#9a3bf6"/><rect x="408" y="376" width="9" height="9" fill="#9a3bf6"/><rect x="416" y="376" width="9" height="9" fill="#9a3bf6"/><rect x="424" y="376" width="9" height="9" fill="#9c3cf7"/><rect x="432" y="376" width="9" height="9" fill="#9f3df9"/><rect x="440" y="376" width="9" height="9" fill="#a23df6"/><rect x="448" y="376" width="9" height="9" fill="#a43ef1"/><rect x="256" y="384" width="9" height="9" fill="#a13df6"/><rect x="264" y="384" width="9" height="9" fill="#a13df7"/><rect x="272" y="384" width="9" height="9" fill="#a13df7"/><rect x="280" y="384" width="9" height="9" fill="#a13df7"/><rect x="288" y="384" width="9" height="9" fill="#a13df7"/><rect x="296" y="384" width="9" height="9" fill="#a13df8"/><rect x="304" y="384" width="9" height="9" fill="#a13df8"/><rect x="312" y="384" width="9" height="9" fill="#a03df8"/><rect x="320" y="384" width="9" height="9" fill="#a03df9"/><rect x="328" y="384" width="9" height="9" fill="#a03df9"/><rect x="336" y="384" width="9" height="9" fill="#a03df9"/><rect x="344" y="384" width="9" height="9" fill="#9f3df9"/><rect x="352" y="384" width="9" height="9" fill="#9f3df8"/><rect x="360" y="384" width="9" height="9" fill="#9e3cf8"/><rect x="368" y="384" width="9" height="9" fill="#9d3cf8"/><rect x="376" y="384" width="9" height="9" fill="#9c3cf7"/><rect x="384" y="384" width="9" height="9" fill="#9b3bf7"/><rect x="392" y="384" width="9" height="9" fill="#9a3bf6"/><rect x="400" y="384" width="9" height="9" fill="#993bf6"/><rect x="408" y="384" width="9" height="9" fill="#983bf5"/><rect x="416" y="384" width="9" height="9" fill="#983af5"/><rect x="424" y="384" width="9" height="9" fill="#9a3bf6"/><rect x="432" y="384" width="9" height="9" fill="#9d3cf8"/><rect x="440" y="384" width="9" height="9" fill="#a03df9"/><rect x="264" y="392" width="9" height="9" fill="#a13df7"/><rect x="272" y="392" width="9" height="9" fill="#a13df7"/><rect x="280" y="392" width="9" height="9" fill="#a13df8"/><rect x="288" y="392" width="9" height="9" fill="#a13df8"/><rect x="296" y="392" width="9" height="9" fill="#a13df8"/><rect x="304" y="392" width="9" height="9" fill="#a03df8"/><rect x="312" y="392" width="9" height="9" fill="#a03df8"/><rect x="320" y="392" width="9" height="9" fill="#a03df9"/><rect x="328" y="392" width="9" height="9" fill="#a03df9"/><rect x="336" y="392" width="9" height="9" fill="#a03df9"/><rect x="344" y="392" width="9" height="9" fill="#9f3df9"/><rect x="352" y="392" width="9" height="9" fill="#9f3df8"/><rect x="360" y="392" width="9" height="9" fill="#9e3cf8"/><rect x="368" y="392" width="9" height="9" fill="#9d3cf7"/><rect x="376" y="392" width="9" height="9" fill="#9c3cf7"/><rect x="384" y="392" width="9" height="9" fill="#9b3bf6"/><rect x="392" y="392" width="9" height="9" fill="#9a3bf6"/><rect x="400" y="392" width="9" height="9" fill="#983bf5"/><rect x="408" y="392" width="9" height="9" fill="#983af5"/><rect x="416" y="392" width="9" height="9" fill="#983af5"/><rect x="424" y="392" width="9" height="9" fill="#9a3bf6"/><rect x="432" y="392" width="9" height="9" fill="#9c3cf7"/><rect x="440" y="392" width="9" height="9" fill="#9f3df8"/><rect x="264" y="400" width="9" height="9" fill="#a13df8"/><rect x="272" y="400" width="9" height="9" fill="#a03df8"/><rect x="280" y="400" width="9" height="9" fill="#a03df8"/><rect x="288" y="400" width="9" height="9" fill="#a03df8"/><rect x="296" y="400" width="9" height="9" fill="#a03df8"/><rect x="304" y="400" width="9" height="9" fill="#a03df8"/><rect x="312" y="400" width="9" height="9" fill="#a03df9"/><rect x="320" y="400" width="9" height="9" fill="#a03df9"/><rect x="328" y="400" width="9" height="9" fill="#a03df9"/><rect x="336" y="400" width="9" height="9" fill="#a03df9"/><rect x="344" y="400" width="9" height="9" fill="#9f3df9"/><rect x="352" y="400" width="9" height="9" fill="#9f3df8"/><rect x="360" y="400" width="9" height="9" fill="#9e3cf8"/><rect x="368" y="400" width="9" height="9" fill="#9d3cf7"/><rect x="376" y="400" width="9" height="9" fill="#9c3cf7"/><rect x="384" y="400" width="9" height="9" fill="#9a3bf6"/><rect x="392" y="400" width="9" height="9" fill="#993bf6"/><rect x="400" y="400" width="9" height="9" fill="#983af5"/><rect x="408" y="400" width="9" height="9" fill="#983af5"/><rect x="416" y="400" width="9" height="9" fill="#983bf5"/><rect x="424" y="400" width="9" height="9" fill="#9a3bf6"/><rect x="432" y="400" width="9" height="9" fill="#9c3cf7"/><rect x="264" y="408" width="9" height="9" fill="#a03df9"/><rect x="272" y="408" width="9" height="9" fill="#a03df9"/><rect x="280" y="408" width="9" height="9" fill="#a03df9"/><rect x="288" y="408" width="9" height="9" fill="#a03df9"/><rect x="296" y="408" width="9" height="9" fill="#a03df9"/><rect x="304" y="408" width="9" height="9" fill="#a03df9"/><rect x="312" y="408" width="9" height="9" fill="#a03df9"/><rect x="320" y="408" width="9" height="9" fill="#a03df9"/><rect x="328" y="408" width="9" height="9" fill="#a03df9"/><rect x="336" y="408" width="9" height="9" fill="#a03df9"/><rect x="344" y="408" width="9" height="9" fill="#9f3df9"/><rect x="352" y="408" width="9" height="9" fill="#9f3df8"/><rect x="360" y="408" width="9" height="9" fill="#9e3cf8"/><rect x="368" y="408" width="9" height="9" fill="#9d3cf7"/><rect x="376" y="408" width="9" height="9" fill="#9b3cf7"/><rect x="384" y="408" width="9" height="9" fill="#9a3bf6"/><rect x="392" y="408" width="9" height="9" fill="#993bf5"/><rect x="400" y="408" width="9" height="9" fill="#983af5"/><rect x="408" y="408" width="9" height="9" fill="#983af5"/><rect x="416" y="408" width="9" height="9" fill="#993bf5"/><rect x="424" y="408" width="9" height="9" fill="#9a3bf6"/><rect x="264" y="416" width="9" height="9" fill="#a03df9"/><rect x="272" y="416" width="9" height="9" fill="#a03df9"/><rect x="280" y="416" width="9" height="9" fill="#a03df9"/><rect x="288" y="416" width="9" height="9" fill="#a03df9"/><rect x="296" y="416" width="9" height="9" fill="#a03df9"/><rect x="304" y="416" width="9" height="9" fill="#a03df9"/><rect x="312" y="416" width="9" height="9" fill="#a03df9"/><rect x="320" y="416" width="9" height="9" fill="#a03df9"/><rect x="328" y="416" width="9" height="9" fill="#a03df9"/><rect x="336" y="416" width="9" height="9" fill="#a03df9"/><rect x="344" y="416" width="9" height="9" fill="#9f3df9"/><rect x="352" y="416" width="9" height="9" fill="#9f3df8"/><rect x="360" y="416" width="9" height="9" fill="#9e3cf8"/><rect x="368" y="416" width="9" height="9" fill="#9d3cf7"/><rect x="376" y="416" width="9" height="9" fill="#9b3cf7"/><rect x="384" y="416" width="9" height="9" fill="#9a3bf6"/><rect x="392" y="416" width="9" height="9" fill="#983af5"/><rect x="400" y="416" width="9" height="9" fill="#983af5"/><rect x="408" y="416" width="9" height="9" fill="#983bf5"/><rect x="416" y="416" width="9" height="9" fill="#993bf5"/><rect x="264" y="424" width="9" height="9" fill="#9f3df9"/><rect x="272" y="424" width="9" height="9" fill="#9f3df9"/><rect x="280" y="424" width="9" height="9" fill="#9f3df9"/><rect x="288" y="424" width="9" height="9" fill="#9f3df9"/><rect x="296" y="424" width="9" height="9" fill="#9f3df9"/><rect x="304" y="424" width="9" height="9" fill="#9f3df9"/><rect x="312" y="424" width="9" height="9" fill="#9f3df9"/><rect x="320" y="424" width="9" height="9" fill="#9f3df9"/><rect x="328" y="424" width="9" height="9" fill="#9f3df9"/><rect x="336" y="424" width="9" height="9" fill="#a03df9"/><rect x="344" y="424" width="9" height="9" fill="#9f3df9"/><rect x="352" y="424" width="9" height="9" fill="#9f3df8"/><rect x="360" y="424" width="9" height="9" fill="#9e3cf8"/><rect x="368" y="424" width="9" height="9" fill="#9d3cf8"/><rect x="376" y="424" width="9" height="9" fill="#9c3cf7"/><rect x="384" y="424" width="9" height="9" fill="#9a3bf6"/><rect x="392" y="424" width="9" height="9" fill="#983bf5"/><rect x="400" y="424" width="9" height="9" fill="#983bf5"/><rect x="408" y="424" width="9" height="9" fill="#993bf5"/><rect x="416" y="424" width="9" height="9" fill="#993bf6"/><rect x="272" y="432" width="9" height="9" fill="#9f3df8"/><rect x="280" y="432" width="9" height="9" fill="#9f3df8"/><rect x="288" y="432" width="9" height="9" fill="#9f3df8"/><rect x="296" y="432" width="9" height="9" fill="#9f3df8"/><rect x="304" y="432" width="9" height="9" fill="#9f3df8"/><rect x="312" y="432" width="9" height="9" fill="#9e3cf8"/><rect x="320" y="432" width="9" height="9" fill="#9e3cf8"/><rect x="328" y="432" width="9" height="9" fill="#9e3cf8"/><rect x="336" y="432" width="9" height="9" fill="#9f3df8"/><rect x="344" y="432" width="9" height="9" fill="#9e3df8"/><rect x="352" y="432" width="9" height="9" fill="#9e3cf8"/><rect x="360" y="432" width="9" height="9" fill="#9e3cf8"/><rect x="368" y="432" width="9" height="9" fill="#9d3cf8"/><rect x="376" y="432" width="9" height="9" fill="#9c3cf7"/><rect x="384" y="432" width="9" height="9" fill="#9b3bf6"/><rect x="392" y="432" width="9" height="9" fill="#993bf6"/><rect x="400" y="432" width="9" height="9" fill="#993bf6"/><rect x="408" y="432" width="9" height="9" fill="#993bf6"/><rect x="280" y="440" width="9" height="9" fill="#9e3cf8"/><rect x="288" y="440" width="9" height="9" fill="#9e3cf8"/><rect x="296" y="440" width="9" height="9" fill="#9e3cf8"/><rect x="304" y="440" width="9" height="9" fill="#9e3cf8"/><rect x="312" y="440" width="9" height="9" fill="#9e3cf8"/><rect x="320" y="440" width="9" height="9" fill="#9d3cf8"/><rect x="328" y="440" width="9" height="9" fill="#9d3cf8"/><rect x="336" y="440" width="9" height="9" fill="#9e3cf8"/><rect x="344" y="440" width="9" height="9" fill="#9e3cf8"/><rect x="352" y="440" width="9" height="9" fill="#9e3cf8"/><rect x="360" y="440" width="9" height="9" fill="#9d3cf8"/><rect x="368" y="440" width="9" height="9" fill="#9d3cf8"/><rect x="376" y="440" width="9" height="9" fill="#9c3cf7"/><rect x="384" y="440" width="9" height="9" fill="#9b3bf7"/><rect x="392" y="440" width="9" height="9" fill="#9a3bf6"/><rect x="400" y="440" width="9" height="9" fill="#9a3bf6"/><rect x="296" y="448" width="9" height="9" fill="#9e3cf8"/><rect x="304" y="448" width="9" height="9" fill="#9d3cf8"/><rect x="312" y="448" width="9" height="9" fill="#9d3cf8"/><rect x="320" y="448" width="9" height="9" fill="#9d3cf8"/><rect x="328" y="448" width="9" height="9" fill="#9d3cf8"/><rect x="336" y="448" width="9" height="9" fill="#9d3cf8"/><rect x="344" y="448" width="9" height="9" fill="#9d3cf8"/><rect x="352" y="448" width="9" height="9" fill="#9d3cf8"/><rect x="360" y="448" width="9" height="9" fill="#9d3cf7"/><rect x="368" y="448" width="9" height="9" fill="#9d3cf7"/><rect x="376" y="448" width="9" height="9" fill="#9c3cf7"/><rect x="384" y="448" width="9" height="9" fill="#9b3cf7"/><rect x="392" y="448" width="9" height="9" fill="#9b3bf6"/><rect x="312" y="456" width="9" height="9" fill="#9d3cf7"/><rect x="320" y="456" width="9" height="9" fill="#9d3cf7"/><rect x="328" y="456" width="9" height="9" fill="#9d3cf7"/><rect x="336" y="456" width="9" height="9" fill="#9d3cf7"/><rect x="344" y="456" width="9" height="9" fill="#9d3cf7"/><rect x="352" y="456" width="9" height="9" fill="#9d3cf7"/><rect x="360" y="456" width="9" height="9" fill="#9d3cf7"/><rect x="368" y="456" width="9" height="9" fill="#9c3cf7"/><rect x="376" y="456" width="9" height="9" fill="#9c3cf7"/></g></g><g mask="url(#qm)"><polygon points="273.6,318.6 291.0,257.0 297.0,213.0 335.0,212.0 329.0,256.0 302.0,386.0" fill="url(#q0)"/><g mask="url(#qh0)"><polygon points="273.6,318.6 291.0,257.0 297.0,213.0 335.0,212.0 329.0,256.0 302.0,386.0" fill="url(#q0h)"/></g><polygon points="302.0,386.0 329.0,256.0 335.0,212.0 373.0,226.0 367.0,270.0 341.0,348.0" fill="url(#q1)"/><g mask="url(#qh1)"><polygon points="302.0,386.0 329.0,256.0 335.0,212.0 373.0,226.0 367.0,270.0 341.0,348.0" fill="url(#q1h)"/></g><polygon points="341.0,348.0 367.0,270.0 373.0,226.0 399.0,231.0 393.0,275.0 375.0,320.0" fill="url(#q2)"/><g mask="url(#qh2)"><polygon points="341.0,348.0 367.0,270.0 373.0,226.0 399.0,231.0 393.0,275.0 375.0,320.0" fill="url(#q2h)"/></g><polygon points="375.0,320.0 393.0,275.0 399.0,231.0 425.0,226.0 419.0,270.0 401.0,306.0" fill="url(#q3)"/><g mask="url(#qh3)"><polygon points="375.0,320.0 393.0,275.0 399.0,231.0 425.0,226.0 419.0,270.0 401.0,306.0" fill="url(#q3h)"/></g><polygon points="401.0,306.0 419.0,270.0 425.0,226.0 452.0,218.0 446.0,262.0 424.0,298.0" fill="url(#q4)"/><g mask="url(#qh4)"><polygon points="401.0,306.0 419.0,270.0 425.0,226.0 452.0,218.0 446.0,262.0 424.0,298.0" fill="url(#q4h)"/></g></g><g mask="url(#hm)" fill="none" stroke="#a83c18" stroke-width="2.2" stroke-linejoin="round"><path d="M291.8 257.6 C292.8 254.8 296.3 246.5 297.6 240.6 C298.9 234.7 298.2 228.7 299.6 222.3 C301.0 215.9 303.4 207.8 305.8 202.0 C308.2 196.2 309.4 192.3 313.8 187.6 C318.2 182.8 325.1 177.4 332.2 173.5 C339.3 169.6 344.7 166.8 356.6 164.3 C368.5 161.7 387.7 159.0 403.4 158.2 C419.1 157.4 438.6 160.2 450.8 159.3 C463.0 158.4 472.5 153.7 476.8 152.6" opacity="0.105"/><path d="M293.0 258.5 C294.0 255.7 297.5 247.4 298.8 241.5 C300.1 235.6 299.4 229.6 300.8 223.2 C302.2 216.8 304.6 208.7 307.0 202.9 C309.4 197.1 310.6 193.2 315.0 188.5 C319.4 183.8 326.3 178.3 333.4 174.4 C340.5 170.5 345.9 167.8 357.8 165.2 C369.7 162.6 388.9 159.9 404.6 159.1 C420.3 158.3 439.8 161.1 452.0 160.2 C464.2 159.3 473.7 154.6 478.0 153.5" opacity="0.098"/><path d="M294.2 259.4 C295.2 256.6 298.7 248.3 300.0 242.4 C301.3 236.5 300.6 230.5 302.0 224.1 C303.4 217.7 305.8 209.6 308.2 203.8 C310.6 198.0 311.8 194.2 316.2 189.4 C320.6 184.7 327.5 179.2 334.6 175.3 C341.7 171.4 347.1 168.7 359.0 166.1 C370.9 163.5 390.1 160.8 405.8 160.0 C421.5 159.2 441.0 162.0 453.2 161.1 C465.4 160.2 474.9 155.5 479.2 154.4" opacity="0.091"/><path d="M295.4 260.3 C296.4 257.5 299.9 249.2 301.2 243.3 C302.5 237.4 301.8 231.4 303.2 225.0 C304.6 218.6 307.0 210.5 309.4 204.7 C311.8 198.9 313.0 195.1 317.4 190.3 C321.8 185.6 328.7 180.1 335.8 176.2 C342.9 172.3 348.3 169.6 360.2 167.0 C372.1 164.4 391.3 161.7 407.0 160.9 C422.7 160.1 442.2 162.9 454.4 162.0 C466.6 161.1 476.1 156.4 480.4 155.3" opacity="0.084"/><path d="M296.6 261.2 C297.6 258.4 301.1 250.1 302.4 244.2 C303.7 238.3 303.0 232.3 304.4 225.9 C305.8 219.5 308.2 211.4 310.6 205.6 C313.0 199.8 314.2 195.9 318.6 191.2 C323.0 186.4 329.9 181.0 337.0 177.1 C344.1 173.2 349.5 170.4 361.4 167.9 C373.3 165.3 392.5 162.6 408.2 161.8 C423.9 161.0 443.4 163.8 455.6 162.9 C467.8 162.0 477.3 157.3 481.6 156.2" opacity="0.078"/><path d="M297.8 262.1 C298.8 259.3 302.3 251.0 303.6 245.1 C304.9 239.2 304.2 233.2 305.6 226.8 C307.0 220.4 309.4 212.3 311.8 206.5 C314.2 200.7 315.4 196.8 319.8 192.1 C324.2 187.3 331.1 181.9 338.2 178.0 C345.3 174.1 350.7 171.3 362.6 168.8 C374.5 166.2 393.7 163.5 409.4 162.7 C425.1 161.9 444.6 164.7 456.8 163.8 C469.0 162.9 478.5 158.2 482.8 157.1" opacity="0.071"/><path d="M299.0 263.0 C300.0 260.2 303.5 251.9 304.8 246.0 C306.1 240.1 305.4 234.1 306.8 227.7 C308.2 221.3 310.6 213.2 313.0 207.4 C315.4 201.6 316.6 197.8 321.0 193.0 C325.4 188.2 332.3 182.8 339.4 178.9 C346.5 175.0 351.9 172.2 363.8 169.7 C375.7 167.1 394.9 164.4 410.6 163.6 C426.3 162.8 445.8 165.6 458.0 164.7 C470.2 163.8 479.7 159.1 484.0 158.0" opacity="0.065"/><path d="M300.2 263.9 C301.2 261.1 304.7 252.8 306.0 246.9 C307.3 241.0 306.6 235.0 308.0 228.6 C309.4 222.2 311.8 214.1 314.2 208.3 C316.6 202.5 317.8 198.7 322.2 193.9 C326.6 189.2 333.5 183.7 340.6 179.8 C347.7 175.9 353.1 173.2 365.0 170.6 C376.9 168.0 396.1 165.3 411.8 164.5 C427.5 163.7 447.0 166.5 459.2 165.6 C471.4 164.7 480.9 160.0 485.2 158.9" opacity="0.058"/><path d="M301.4 264.8 C302.4 262.0 305.9 253.7 307.2 247.8 C308.5 241.9 307.8 235.9 309.2 229.5 C310.6 223.1 313.0 215.0 315.4 209.2 C317.8 203.4 319.0 199.6 323.4 194.8 C327.8 190.1 334.7 184.6 341.8 180.7 C348.9 176.8 354.3 174.1 366.2 171.5 C378.1 168.9 397.3 166.2 413.0 165.4 C428.7 164.6 448.2 167.4 460.4 166.5 C472.6 165.6 482.1 160.9 486.4 159.8" opacity="0.052"/><path d="M302.6 265.7 C303.6 262.9 307.1 254.6 308.4 248.7 C309.7 242.8 309.0 236.8 310.4 230.4 C311.8 224.0 314.2 215.9 316.6 210.1 C319.0 204.3 320.2 200.4 324.6 195.7 C329.0 190.9 335.9 185.5 343.0 181.6 C350.1 177.7 355.5 174.9 367.4 172.4 C379.3 169.8 398.5 167.1 414.2 166.3 C429.9 165.5 449.4 168.3 461.6 167.4 C473.8 166.5 483.3 161.8 487.6 160.7" opacity="0.046"/><path d="M303.8 266.6 C304.8 263.8 308.3 255.5 309.6 249.6 C310.9 243.7 310.2 237.7 311.6 231.3 C313.0 224.9 315.4 216.8 317.8 211.0 C320.2 205.2 321.4 201.3 325.8 196.6 C330.2 191.8 337.1 186.4 344.2 182.5 C351.3 178.6 356.7 175.8 368.6 173.3 C380.5 170.7 399.7 168.0 415.4 167.2 C431.1 166.4 450.6 169.2 462.8 168.3 C475.0 167.4 484.5 162.7 488.8 161.6" opacity="0.040"/><path d="M305.0 267.5 C306.0 264.7 309.5 256.4 310.8 250.5 C312.1 244.6 311.4 238.6 312.8 232.2 C314.2 225.8 316.6 217.7 319.0 211.9 C321.4 206.1 322.6 202.2 327.0 197.5 C331.4 192.8 338.3 187.3 345.4 183.4 C352.5 179.5 357.9 176.8 369.8 174.2 C381.7 171.6 400.9 168.9 416.6 168.1 C432.3 167.3 451.8 170.1 464.0 169.2 C476.2 168.3 485.7 163.6 490.0 162.5" opacity="0.034"/><path d="M306.2 268.4 C307.2 265.6 310.7 257.3 312.0 251.4 C313.3 245.5 312.6 239.5 314.0 233.1 C315.4 226.7 317.8 218.6 320.2 212.8 C322.6 207.0 323.8 203.2 328.2 198.4 C332.6 193.7 339.5 188.2 346.6 184.3 C353.7 180.4 359.1 177.7 371.0 175.1 C382.9 172.5 402.1 169.8 417.8 169.0 C433.5 168.2 453.0 171.0 465.2 170.1 C477.4 169.2 486.9 164.5 491.2 163.4" opacity="0.028"/><path d="M307.4 269.3 C308.4 266.5 311.9 258.2 313.2 252.3 C314.5 246.4 313.8 240.4 315.2 234.0 C316.6 227.6 319.0 219.5 321.4 213.7 C323.8 207.9 325.0 204.1 329.4 199.3 C333.8 194.6 340.7 189.1 347.8 185.2 C354.9 181.3 360.3 178.6 372.2 176.0 C384.1 173.4 403.3 170.7 419.0 169.9 C434.7 169.1 454.2 171.9 466.4 171.0 C478.6 170.1 488.1 165.4 492.4 164.3" opacity="0.023"/><path d="M308.6 270.2 C309.6 267.4 313.1 259.1 314.4 253.2 C315.7 247.3 315.0 241.3 316.4 234.9 C317.8 228.5 320.2 220.4 322.6 214.6 C325.0 208.8 326.2 204.9 330.6 200.2 C335.0 195.4 341.9 190.0 349.0 186.1 C356.1 182.2 361.5 179.4 373.4 176.9 C385.3 174.3 404.5 171.6 420.2 170.8 C435.9 170.0 455.4 172.8 467.6 171.9 C479.8 171.0 489.3 166.3 493.6 165.2" opacity="0.017"/><path d="M309.8 271.1 C310.8 268.3 314.3 260.0 315.6 254.1 C316.9 248.2 316.2 242.2 317.6 235.8 C319.0 229.4 321.4 221.3 323.8 215.5 C326.2 209.7 327.4 205.8 331.8 201.1 C336.2 196.3 343.1 190.9 350.2 187.0 C357.3 183.1 362.7 180.3 374.6 177.8 C386.5 175.2 405.7 172.5 421.4 171.7 C437.1 170.9 456.6 173.7 468.8 172.8 C481.0 171.9 490.5 167.2 494.8 166.1" opacity="0.012"/><path d="M311.0 272.0 C312.0 269.2 315.5 260.9 316.8 255.0 C318.1 249.1 317.4 243.1 318.8 236.7 C320.2 230.3 322.6 222.2 325.0 216.4 C327.4 210.6 328.6 206.8 333.0 202.0 C337.4 197.2 344.3 191.8 351.4 187.9 C358.5 184.0 363.9 181.2 375.8 178.7 C387.7 176.1 406.9 173.4 422.6 172.6 C438.3 171.8 457.8 174.6 470.0 173.7 C482.2 172.8 491.7 168.1 496.0 167.0" opacity="0.008"/><path d="M312.2 272.9 C313.2 270.1 316.7 261.8 318.0 255.9 C319.3 250.0 318.6 244.0 320.0 237.6 C321.4 231.2 323.8 223.1 326.2 217.3 C328.6 211.5 329.8 207.7 334.2 202.9 C338.6 198.2 345.5 192.7 352.6 188.8 C359.7 184.9 365.1 182.2 377.0 179.6 C388.9 177.0 408.1 174.3 423.8 173.5 C439.5 172.7 459.0 175.5 471.2 174.6 C483.4 173.7 492.9 169.0 497.2 167.9" opacity="0.003"/><path d="M289.7 256.0 C290.7 253.2 294.2 244.9 295.5 239.0 C296.8 233.2 296.2 227.2 297.5 220.7 C298.9 214.3 301.4 206.2 303.7 200.4 C306.1 194.7 307.3 190.8 311.7 186.0 C316.1 181.3 323.0 175.8 330.1 171.9 C337.3 168.1 342.7 165.3 354.5 162.7 C366.4 160.2 385.6 157.5 401.3 156.6 C417.0 155.8 436.5 158.7 448.7 157.7 C461.0 156.8 470.4 152.2 474.7 151.0" stroke="#ffd060" stroke-width="2.4" opacity=".12"/><path d="M329.8 256.6 C330.5 253.9 332.8 246.3 334.2 240.6 C335.6 234.9 336.6 228.0 338.3 222.3 C340.0 216.5 341.4 211.2 344.4 206.1 C347.5 201.0 351.2 195.9 356.6 191.8 C362.0 187.7 367.3 184.3 376.8 181.6 C386.3 178.9 401.3 176.3 413.6 175.6 C425.9 174.9 437.6 179.8 450.8 177.6 C464.0 175.4 485.8 165.1 492.8 162.6" opacity="0.105"/><path d="M331.0 257.5 C331.7 254.8 334.0 247.2 335.4 241.5 C336.8 235.8 337.8 228.9 339.5 223.2 C341.2 217.4 342.6 212.1 345.6 207.0 C348.7 201.9 352.4 196.8 357.8 192.7 C363.2 188.6 368.5 185.2 378.0 182.5 C387.5 179.8 402.5 177.2 414.8 176.5 C427.1 175.8 438.8 180.7 452.0 178.5 C465.2 176.3 487.0 166.0 494.0 163.5" opacity="0.098"/><path d="M332.2 258.4 C332.9 255.7 335.2 248.1 336.6 242.4 C338.0 236.7 339.0 229.8 340.7 224.1 C342.4 218.3 343.8 213.0 346.8 207.9 C349.9 202.8 353.6 197.7 359.0 193.6 C364.4 189.5 369.7 186.1 379.2 183.4 C388.7 180.7 403.7 178.1 416.0 177.4 C428.3 176.7 440.0 181.6 453.2 179.4 C466.4 177.2 488.2 166.9 495.2 164.4" opacity="0.091"/><path d="M333.4 259.3 C334.1 256.6 336.4 249.0 337.8 243.3 C339.2 237.6 340.2 230.8 341.9 225.0 C343.6 219.2 344.9 213.9 348.0 208.8 C351.1 203.7 354.8 198.6 360.2 194.5 C365.6 190.4 370.9 187.0 380.4 184.3 C389.9 181.6 404.9 179.0 417.2 178.3 C429.5 177.6 441.2 182.5 454.4 180.3 C467.6 178.1 489.4 167.8 496.4 165.3" opacity="0.084"/><path d="M334.6 260.2 C335.3 257.5 337.6 249.9 339.0 244.2 C340.4 238.5 341.4 231.6 343.1 225.9 C344.8 220.1 346.2 214.8 349.2 209.7 C352.3 204.6 356.0 199.5 361.4 195.4 C366.8 191.3 372.1 187.9 381.6 185.2 C391.1 182.5 406.1 179.9 418.4 179.2 C430.7 178.5 442.4 183.4 455.6 181.2 C468.8 179.0 490.6 168.7 497.6 166.2" opacity="0.078"/><path d="M335.8 261.1 C336.5 258.4 338.8 250.8 340.2 245.1 C341.6 239.4 342.6 232.5 344.3 226.8 C346.0 221.0 347.4 215.7 350.4 210.6 C353.5 205.5 357.2 200.4 362.6 196.3 C368.0 192.2 373.3 188.8 382.8 186.1 C392.3 183.4 407.3 180.8 419.6 180.1 C431.9 179.4 443.6 184.3 456.8 182.1 C470.0 179.9 491.8 169.6 498.8 167.1" opacity="0.071"/><path d="M337.0 262.0 C337.7 259.3 340.0 251.7 341.4 246.0 C342.8 240.3 343.8 233.4 345.5 227.7 C347.2 221.9 348.6 216.6 351.6 211.5 C354.7 206.4 358.4 201.3 363.8 197.2 C369.2 193.1 374.5 189.7 384.0 187.0 C393.5 184.3 408.5 181.7 420.8 181.0 C433.1 180.3 444.8 185.2 458.0 183.0 C471.2 180.8 493.0 170.5 500.0 168.0" opacity="0.065"/><path d="M338.2 262.9 C338.9 260.2 341.2 252.6 342.6 246.9 C344.0 241.2 345.0 234.3 346.7 228.6 C348.4 222.8 349.8 217.5 352.8 212.4 C355.9 207.3 359.6 202.2 365.0 198.1 C370.4 194.0 375.7 190.6 385.2 187.9 C394.7 185.2 409.7 182.6 422.0 181.9 C434.3 181.2 446.0 186.1 459.2 183.9 C472.4 181.7 494.2 171.4 501.2 168.9" opacity="0.058"/><path d="M339.4 263.8 C340.1 261.1 342.4 253.5 343.8 247.8 C345.2 242.1 346.2 235.2 347.9 229.5 C349.6 223.8 350.9 218.4 354.0 213.3 C357.1 208.2 360.8 203.1 366.2 199.0 C371.6 194.9 376.9 191.5 386.4 188.8 C395.9 186.1 410.9 183.5 423.2 182.8 C435.5 182.1 447.2 187.0 460.4 184.8 C473.6 182.6 495.4 172.3 502.4 169.8" opacity="0.052"/><path d="M340.6 264.7 C341.3 262.0 343.6 254.4 345.0 248.7 C346.4 243.0 347.4 236.1 349.1 230.4 C350.8 224.6 352.2 219.3 355.2 214.2 C358.3 209.1 362.0 204.0 367.4 199.9 C372.8 195.8 378.1 192.4 387.6 189.7 C397.1 187.0 412.1 184.4 424.4 183.7 C436.7 183.0 448.4 187.9 461.6 185.7 C474.8 183.5 496.6 173.2 503.6 170.7" opacity="0.046"/><path d="M341.8 265.6 C342.5 262.9 344.8 255.3 346.2 249.6 C347.6 243.9 348.6 237.0 350.3 231.3 C352.0 225.5 353.4 220.2 356.4 215.1 C359.5 210.0 363.2 204.9 368.6 200.8 C374.0 196.7 379.3 193.3 388.8 190.6 C398.3 187.9 413.3 185.3 425.6 184.6 C437.9 183.9 449.6 188.8 462.8 186.6 C476.0 184.4 497.8 174.1 504.8 171.6" opacity="0.040"/><path d="M343.0 266.5 C343.7 263.8 346.0 256.2 347.4 250.5 C348.8 244.8 349.8 237.9 351.5 232.2 C353.2 226.4 354.6 221.1 357.6 216.0 C360.7 210.9 364.4 205.8 369.8 201.7 C375.2 197.6 380.5 194.2 390.0 191.5 C399.5 188.8 414.5 186.2 426.8 185.5 C439.1 184.8 450.8 189.7 464.0 187.5 C477.2 185.3 499.0 175.0 506.0 172.5" opacity="0.034"/><path d="M344.2 267.4 C344.9 264.7 347.2 257.1 348.6 251.4 C350.0 245.7 351.0 238.8 352.7 233.1 C354.4 227.3 355.8 222.0 358.8 216.9 C361.9 211.8 365.6 206.7 371.0 202.6 C376.4 198.5 381.7 195.1 391.2 192.4 C400.7 189.7 415.7 187.1 428.0 186.4 C440.3 185.7 452.0 190.6 465.2 188.4 C478.4 186.2 500.2 175.9 507.2 173.4" opacity="0.028"/><path d="M345.4 268.3 C346.1 265.6 348.4 258.0 349.8 252.3 C351.2 246.6 352.2 239.8 353.9 234.0 C355.6 228.2 356.9 222.9 360.0 217.8 C363.1 212.7 366.8 207.6 372.2 203.5 C377.6 199.4 382.9 196.0 392.4 193.3 C401.9 190.6 416.9 188.0 429.2 187.3 C441.5 186.6 453.2 191.5 466.4 189.3 C479.6 187.1 501.4 176.8 508.4 174.3" opacity="0.023"/><path d="M346.6 269.2 C347.3 266.5 349.6 258.9 351.0 253.2 C352.4 247.5 353.4 240.6 355.1 234.9 C356.8 229.1 358.2 223.8 361.2 218.7 C364.3 213.6 368.0 208.5 373.4 204.4 C378.8 200.3 384.1 196.9 393.6 194.2 C403.1 191.5 418.1 188.9 430.4 188.2 C442.7 187.5 454.4 192.4 467.6 190.2 C480.8 188.0 502.6 177.7 509.6 175.2" opacity="0.017"/><path d="M347.8 270.1 C348.5 267.4 350.8 259.8 352.2 254.1 C353.6 248.4 354.6 241.5 356.3 235.8 C358.0 230.0 359.4 224.7 362.4 219.6 C365.5 214.5 369.2 209.4 374.6 205.3 C380.0 201.2 385.3 197.8 394.8 195.1 C404.3 192.4 419.3 189.8 431.6 189.1 C443.9 188.4 455.6 193.3 468.8 191.1 C482.0 188.9 503.8 178.6 510.8 176.1" opacity="0.012"/><path d="M349.0 271.0 C349.7 268.3 352.0 260.7 353.4 255.0 C354.8 249.3 355.8 242.4 357.5 236.7 C359.2 230.9 360.6 225.6 363.6 220.5 C366.7 215.4 370.4 210.3 375.8 206.2 C381.2 202.1 386.5 198.7 396.0 196.0 C405.5 193.3 420.5 190.7 432.8 190.0 C445.1 189.3 456.8 194.2 470.0 192.0 C483.2 189.8 505.0 179.5 512.0 177.0" opacity="0.008"/><path d="M350.2 271.9 C350.9 269.2 353.2 261.6 354.6 255.9 C356.0 250.2 357.0 243.3 358.7 237.6 C360.4 231.8 361.8 226.5 364.8 221.4 C367.9 216.3 371.6 211.2 377.0 207.1 C382.4 203.0 387.7 199.6 397.2 196.9 C406.7 194.2 421.7 191.6 434.0 190.9 C446.3 190.2 458.0 195.1 471.2 192.9 C484.4 190.7 506.2 180.4 513.2 177.9" opacity="0.003"/><path d="M327.7 255.0 C328.5 252.4 330.7 244.8 332.1 239.0 C333.5 233.3 334.5 226.5 336.2 220.7 C337.9 215.0 339.3 209.6 342.3 204.5 C345.4 199.5 349.1 194.3 354.5 190.2 C359.9 186.2 365.2 182.7 374.7 180.0 C384.2 177.3 399.2 174.7 411.5 174.0 C423.9 173.4 435.5 178.2 448.7 176.0 C461.9 173.9 483.7 163.5 490.7 161.0" stroke="#ffd060" stroke-width="2.4" opacity=".12"/><path d="M367.8 270.6 C367.3 265.6 364.3 248.7 364.8 240.6 C365.3 232.5 367.8 227.7 370.8 222.3 C373.8 216.9 377.2 212.3 383.0 208.1 C388.8 203.9 396.9 199.5 405.4 196.9 C413.9 194.3 426.2 193.1 433.8 192.8 C441.4 192.5 443.0 195.6 450.8 194.9 C458.6 194.2 470.8 192.2 480.8 188.6 C490.8 185.0 505.8 176.1 510.8 173.6" opacity="0.105"/><path d="M369.0 271.5 C368.5 266.5 365.5 249.6 366.0 241.5 C366.5 233.4 369.0 228.6 372.0 223.2 C375.0 217.8 378.4 213.2 384.2 209.0 C390.0 204.8 398.1 200.4 406.6 197.8 C415.1 195.2 427.4 194.0 435.0 193.7 C442.6 193.4 444.2 196.5 452.0 195.8 C459.8 195.1 472.0 193.1 482.0 189.5 C492.0 185.9 507.0 177.0 512.0 174.5" opacity="0.098"/><path d="M370.2 272.4 C369.7 267.4 366.7 250.4 367.2 242.4 C367.7 234.4 370.2 229.5 373.2 224.1 C376.2 218.7 379.6 214.1 385.4 209.9 C391.2 205.7 399.3 201.3 407.8 198.7 C416.3 196.2 428.6 194.9 436.2 194.6 C443.8 194.3 445.4 197.4 453.2 196.7 C461.0 196.0 473.2 194.0 483.2 190.4 C493.2 186.8 508.2 177.9 513.2 175.4" opacity="0.091"/><path d="M371.4 273.3 C370.9 268.3 367.9 251.4 368.4 243.3 C368.9 235.2 371.4 230.4 374.4 225.0 C377.4 219.6 380.8 215.0 386.6 210.8 C392.4 206.6 400.5 202.2 409.0 199.6 C417.5 197.1 429.8 195.8 437.4 195.5 C445.0 195.2 446.6 198.3 454.4 197.6 C462.2 196.9 474.4 194.9 484.4 191.3 C494.4 187.8 509.4 178.8 514.4 176.3" opacity="0.084"/><path d="M372.6 274.2 C372.1 269.2 369.1 252.2 369.6 244.2 C370.1 236.1 372.6 231.3 375.6 225.9 C378.6 220.5 382.0 215.9 387.8 211.7 C393.6 207.5 401.7 203.1 410.2 200.5 C418.7 197.9 431.0 196.7 438.6 196.4 C446.2 196.1 447.8 199.2 455.6 198.5 C463.4 197.8 475.6 195.8 485.6 192.2 C495.6 188.6 510.6 179.7 515.6 177.2" opacity="0.078"/><path d="M373.8 275.1 C373.3 270.1 370.3 253.2 370.8 245.1 C371.3 237.0 373.8 232.2 376.8 226.8 C379.8 221.4 383.2 216.8 389.0 212.6 C394.8 208.4 402.9 204.0 411.4 201.4 C419.9 198.8 432.2 197.6 439.8 197.3 C447.4 197.0 449.0 200.1 456.8 199.4 C464.6 198.7 476.8 196.7 486.8 193.1 C496.8 189.5 511.8 180.6 516.8 178.1" opacity="0.071"/><path d="M375.0 276.0 C374.5 271.0 371.5 254.1 372.0 246.0 C372.5 237.9 375.0 233.1 378.0 227.7 C381.0 222.3 384.4 217.7 390.2 213.5 C396.0 209.3 404.1 204.9 412.6 202.3 C421.1 199.8 433.4 198.5 441.0 198.2 C448.6 197.9 450.2 201.0 458.0 200.3 C465.8 199.6 478.0 197.6 488.0 194.0 C498.0 190.4 513.0 181.5 518.0 179.0" opacity="0.065"/><path d="M376.2 276.9 C375.7 271.9 372.7 254.9 373.2 246.9 C373.7 238.9 376.2 234.0 379.2 228.6 C382.2 223.2 385.6 218.6 391.4 214.4 C397.2 210.2 405.3 205.8 413.8 203.2 C422.3 200.7 434.6 199.4 442.2 199.1 C449.8 198.8 451.4 201.9 459.2 201.2 C467.0 200.5 479.2 198.5 489.2 194.9 C499.2 191.3 514.2 182.4 519.2 179.9" opacity="0.058"/><path d="M377.4 277.8 C376.9 272.8 373.9 255.9 374.4 247.8 C374.9 239.8 377.4 234.9 380.4 229.5 C383.4 224.1 386.8 219.5 392.6 215.3 C398.4 211.1 406.5 206.7 415.0 204.1 C423.5 201.6 435.8 200.3 443.4 200.0 C451.0 199.7 452.6 202.8 460.4 202.1 C468.2 201.4 480.4 199.4 490.4 195.8 C500.4 192.2 515.4 183.3 520.4 180.8" opacity="0.052"/><path d="M378.6 278.7 C378.1 273.7 375.1 256.8 375.6 248.7 C376.1 240.6 378.6 235.8 381.6 230.4 C384.6 225.0 388.0 220.4 393.8 216.2 C399.6 212.0 407.7 207.6 416.2 205.0 C424.7 202.4 437.0 201.2 444.6 200.9 C452.2 200.6 453.8 203.7 461.6 203.0 C469.4 202.3 481.6 200.2 491.6 196.7 C501.6 193.1 516.6 184.2 521.6 181.7" opacity="0.046"/><path d="M379.8 279.6 C379.3 274.6 376.3 257.6 376.8 249.6 C377.3 241.5 379.8 236.7 382.8 231.3 C385.8 225.9 389.2 221.3 395.0 217.1 C400.8 212.9 408.9 208.5 417.4 205.9 C425.9 203.3 438.2 202.1 445.8 201.8 C453.4 201.5 455.0 204.6 462.8 203.9 C470.6 203.2 482.8 201.2 492.8 197.6 C502.8 194.0 517.8 185.1 522.8 182.6" opacity="0.040"/><path d="M381.0 280.5 C380.5 275.5 377.5 258.6 378.0 250.5 C378.5 242.4 381.0 237.6 384.0 232.2 C387.0 226.8 390.4 222.2 396.2 218.0 C402.0 213.8 410.1 209.4 418.6 206.8 C427.1 204.2 439.4 203.0 447.0 202.7 C454.6 202.4 456.2 205.5 464.0 204.8 C471.8 204.1 484.0 202.1 494.0 198.5 C504.0 194.9 519.0 186.0 524.0 183.5" opacity="0.034"/><path d="M382.2 281.4 C381.7 276.4 378.7 259.4 379.2 251.4 C379.7 243.4 382.2 238.5 385.2 233.1 C388.2 227.7 391.6 223.1 397.4 218.9 C403.2 214.7 411.3 210.3 419.8 207.7 C428.3 205.2 440.6 203.9 448.2 203.6 C455.8 203.3 457.4 206.4 465.2 205.7 C473.0 205.0 485.2 203.0 495.2 199.4 C505.2 195.8 520.2 186.9 525.2 184.4" opacity="0.028"/><path d="M383.4 282.3 C382.9 277.3 379.9 260.4 380.4 252.3 C380.9 244.2 383.4 239.4 386.4 234.0 C389.4 228.6 392.8 224.0 398.6 219.8 C404.4 215.6 412.5 211.2 421.0 208.6 C429.5 206.1 441.8 204.8 449.4 204.5 C457.0 204.2 458.6 207.3 466.4 206.6 C474.2 205.9 486.4 203.9 496.4 200.3 C506.4 196.8 521.4 187.8 526.4 185.3" opacity="0.023"/><path d="M384.6 283.2 C384.1 278.2 381.1 261.2 381.6 253.2 C382.1 245.1 384.6 240.3 387.6 234.9 C390.6 229.5 394.0 224.9 399.8 220.7 C405.6 216.5 413.7 212.1 422.2 209.5 C430.7 206.9 443.0 205.7 450.6 205.4 C458.2 205.1 459.8 208.2 467.6 207.5 C475.4 206.8 487.6 204.8 497.6 201.2 C507.6 197.6 522.6 188.7 527.6 186.2" opacity="0.017"/><path d="M385.8 284.1 C385.3 279.1 382.3 262.1 382.8 254.1 C383.3 246.0 385.8 241.2 388.8 235.8 C391.8 230.4 395.2 225.8 401.0 221.6 C406.8 217.4 414.9 213.0 423.4 210.4 C431.9 207.8 444.2 206.6 451.8 206.3 C459.4 206.0 461.0 209.1 468.8 208.4 C476.6 207.7 488.8 205.7 498.8 202.1 C508.8 198.5 523.8 189.6 528.8 187.1" opacity="0.012"/><path d="M387.0 285.0 C386.5 280.0 383.5 263.1 384.0 255.0 C384.5 246.9 387.0 242.1 390.0 236.7 C393.0 231.3 396.4 226.7 402.2 222.5 C408.0 218.3 416.1 213.9 424.6 211.3 C433.1 208.8 445.4 207.5 453.0 207.2 C460.6 206.9 462.2 210.0 470.0 209.3 C477.8 208.6 490.0 206.6 500.0 203.0 C510.0 199.4 525.0 190.5 530.0 188.0" opacity="0.008"/><path d="M388.2 285.9 C387.7 280.9 384.7 263.9 385.2 255.9 C385.7 247.9 388.2 243.0 391.2 237.6 C394.2 232.2 397.6 227.6 403.4 223.4 C409.2 219.2 417.3 214.8 425.8 212.2 C434.3 209.7 446.6 208.4 454.2 208.1 C461.8 207.8 463.4 210.9 471.2 210.2 C479.0 209.5 491.2 207.5 501.2 203.9 C511.2 200.3 526.2 191.4 531.2 188.9" opacity="0.003"/><path d="M365.7 269.0 C365.2 264.0 362.2 247.1 362.7 239.0 C363.2 231.0 365.7 226.2 368.7 220.7 C371.8 215.3 375.2 210.8 380.9 206.5 C386.7 202.3 394.9 197.9 403.3 195.3 C411.8 192.8 424.2 191.6 431.7 191.2 C439.3 190.9 440.9 194.0 448.7 193.3 C456.6 192.6 468.7 190.6 478.7 187.0 C488.7 183.5 503.7 174.5 508.7 172.0" stroke="#ffd060" stroke-width="2.4" opacity=".12"/><path d="M393.6 273.1 C394.9 267.7 399.4 247.0 401.4 240.6 C403.4 234.2 402.7 237.7 405.4 234.6 C408.1 231.5 412.9 225.7 417.6 222.3 C422.3 218.9 428.3 215.9 433.8 214.2 C439.3 212.5 441.3 214.5 450.8 212.2 C460.3 209.9 478.3 205.5 490.8 200.6 C503.3 195.7 520.0 185.6 525.8 182.6" opacity="0.105"/><path d="M394.8 274.0 C396.1 268.6 400.6 247.9 402.6 241.5 C404.6 235.1 403.9 238.6 406.6 235.5 C409.3 232.4 414.1 226.6 418.8 223.2 C423.5 219.8 429.5 216.8 435.0 215.1 C440.5 213.4 442.5 215.4 452.0 213.1 C461.5 210.8 479.5 206.4 492.0 201.5 C504.5 196.6 521.2 186.5 527.0 183.5" opacity="0.098"/><path d="M396.0 274.9 C397.3 269.5 401.8 248.8 403.8 242.4 C405.8 236.0 405.1 239.5 407.8 236.4 C410.5 233.3 415.3 227.5 420.0 224.1 C424.7 220.7 430.7 217.7 436.2 216.0 C441.7 214.3 443.7 216.3 453.2 214.0 C462.7 211.7 480.7 207.3 493.2 202.4 C505.7 197.5 522.4 187.4 528.2 184.4" opacity="0.091"/><path d="M397.2 275.8 C398.5 270.4 403.0 249.7 405.0 243.3 C407.0 236.9 406.3 240.4 409.0 237.3 C411.7 234.2 416.5 228.4 421.2 225.0 C425.9 221.6 431.9 218.6 437.4 216.9 C442.9 215.2 444.9 217.2 454.4 214.9 C463.9 212.6 481.9 208.2 494.4 203.3 C506.9 198.4 523.6 188.3 529.4 185.3" opacity="0.084"/><path d="M398.4 276.7 C399.7 271.3 404.2 250.6 406.2 244.2 C408.2 237.8 407.5 241.2 410.2 238.2 C412.9 235.1 417.7 229.3 422.4 225.9 C427.1 222.5 433.1 219.5 438.6 217.8 C444.1 216.1 446.1 218.1 455.6 215.8 C465.1 213.5 483.1 209.1 495.6 204.2 C508.1 199.3 524.8 189.2 530.6 186.2" opacity="0.078"/><path d="M399.6 277.6 C400.9 272.2 405.4 251.5 407.4 245.1 C409.4 238.7 408.7 242.2 411.4 239.1 C414.1 236.0 418.9 230.2 423.6 226.8 C428.3 223.4 434.3 220.4 439.8 218.7 C445.3 217.0 447.3 219.0 456.8 216.7 C466.3 214.4 484.3 210.0 496.8 205.1 C509.3 200.2 526.0 190.1 531.8 187.1" opacity="0.071"/><path d="M400.8 278.5 C402.1 273.1 406.6 252.4 408.6 246.0 C410.6 239.6 409.9 243.1 412.6 240.0 C415.3 236.9 420.1 231.1 424.8 227.7 C429.5 224.3 435.5 221.3 441.0 219.6 C446.5 217.9 448.5 219.9 458.0 217.6 C467.5 215.3 485.5 210.9 498.0 206.0 C510.5 201.1 527.2 191.0 533.0 188.0" opacity="0.065"/><path d="M402.0 279.4 C403.3 274.0 407.8 253.3 409.8 246.9 C411.8 240.5 411.1 244.0 413.8 240.9 C416.5 237.8 421.3 232.0 426.0 228.6 C430.7 225.2 436.7 222.2 442.2 220.5 C447.7 218.8 449.7 220.8 459.2 218.5 C468.7 216.2 486.7 211.8 499.2 206.9 C511.7 202.0 528.4 191.9 534.2 188.9" opacity="0.058"/><path d="M403.2 280.3 C404.5 274.9 409.0 254.2 411.0 247.8 C413.0 241.4 412.3 244.9 415.0 241.8 C417.7 238.8 422.5 232.9 427.2 229.5 C431.9 226.1 437.9 223.1 443.4 221.4 C448.9 219.7 450.9 221.7 460.4 219.4 C469.9 217.1 487.9 212.7 500.4 207.8 C512.9 202.9 529.6 192.8 535.4 189.8" opacity="0.052"/><path d="M404.4 281.2 C405.7 275.8 410.2 255.1 412.2 248.7 C414.2 242.3 413.5 245.8 416.2 242.7 C418.9 239.6 423.7 233.8 428.4 230.4 C433.1 227.0 439.1 224.0 444.6 222.3 C450.1 220.6 452.1 222.6 461.6 220.3 C471.1 218.0 489.1 213.6 501.6 208.7 C514.1 203.8 530.8 193.7 536.6 190.7" opacity="0.046"/><path d="M405.6 282.1 C406.9 276.7 411.4 256.0 413.4 249.6 C415.4 243.2 414.7 246.7 417.4 243.6 C420.1 240.5 424.9 234.7 429.6 231.3 C434.3 227.9 440.3 224.9 445.8 223.2 C451.3 221.5 453.3 223.5 462.8 221.2 C472.3 218.9 490.3 214.5 502.8 209.6 C515.3 204.7 532.0 194.6 537.8 191.6" opacity="0.040"/><path d="M406.8 283.0 C408.1 277.6 412.6 256.9 414.6 250.5 C416.6 244.1 415.9 247.6 418.6 244.5 C421.3 241.4 426.1 235.6 430.8 232.2 C435.5 228.8 441.5 225.8 447.0 224.1 C452.5 222.4 454.5 224.4 464.0 222.1 C473.5 219.8 491.5 215.4 504.0 210.5 C516.5 205.6 533.2 195.5 539.0 192.5" opacity="0.034"/><path d="M408.0 283.9 C409.3 278.5 413.8 257.8 415.8 251.4 C417.8 245.0 417.1 248.5 419.8 245.4 C422.5 242.3 427.3 236.5 432.0 233.1 C436.7 229.7 442.7 226.7 448.2 225.0 C453.7 223.3 455.7 225.3 465.2 223.0 C474.7 220.7 492.7 216.3 505.2 211.4 C517.7 206.5 534.4 196.4 540.2 193.4" opacity="0.028"/><path d="M409.2 284.8 C410.5 279.4 415.0 258.7 417.0 252.3 C419.0 245.9 418.3 249.4 421.0 246.3 C423.7 243.2 428.5 237.4 433.2 234.0 C437.9 230.6 443.9 227.6 449.4 225.9 C454.9 224.2 456.9 226.2 466.4 223.9 C475.9 221.6 493.9 217.2 506.4 212.3 C518.9 207.4 535.6 197.3 541.4 194.3" opacity="0.023"/><path d="M410.4 285.7 C411.7 280.3 416.2 259.6 418.2 253.2 C420.2 246.8 419.5 250.2 422.2 247.2 C424.9 244.1 429.7 238.3 434.4 234.9 C439.1 231.5 445.1 228.5 450.6 226.8 C456.1 225.1 458.1 227.1 467.6 224.8 C477.1 222.5 495.1 218.1 507.6 213.2 C520.1 208.3 536.8 198.2 542.6 195.2" opacity="0.017"/><path d="M411.6 286.6 C412.9 281.2 417.4 260.5 419.4 254.1 C421.4 247.7 420.7 251.2 423.4 248.1 C426.1 245.0 430.9 239.2 435.6 235.8 C440.3 232.4 446.3 229.4 451.8 227.7 C457.3 226.0 459.3 228.0 468.8 225.7 C478.3 223.4 496.3 219.0 508.8 214.1 C521.3 209.2 538.0 199.1 543.8 196.1" opacity="0.012"/><path d="M412.8 287.5 C414.1 282.1 418.6 261.4 420.6 255.0 C422.6 248.6 421.9 252.1 424.6 249.0 C427.3 245.9 432.1 240.1 436.8 236.7 C441.5 233.3 447.5 230.3 453.0 228.6 C458.5 226.9 460.5 228.9 470.0 226.6 C479.5 224.3 497.5 219.9 510.0 215.0 C522.5 210.1 539.2 200.0 545.0 197.0" opacity="0.008"/><path d="M414.0 288.4 C415.3 283.0 419.8 262.3 421.8 255.9 C423.8 249.5 423.1 253.0 425.8 249.9 C428.5 246.8 433.3 241.0 438.0 237.6 C442.7 234.2 448.7 231.2 454.2 229.5 C459.7 227.8 461.7 229.8 471.2 227.5 C480.7 225.2 498.7 220.8 511.2 215.9 C523.7 211.0 540.4 200.9 546.2 197.9" opacity="0.003"/><path d="M391.5 271.5 C392.8 266.1 397.4 245.5 399.3 239.0 C401.3 232.6 400.6 236.1 403.3 233.0 C406.0 230.0 410.8 224.1 415.5 220.7 C420.3 217.3 426.2 214.3 431.7 212.6 C437.3 211.0 439.2 212.9 448.7 210.6 C458.2 208.4 476.2 204.0 488.7 199.0 C501.2 194.1 517.9 184.0 523.7 181.0" stroke="#ffd060" stroke-width="2.4" opacity=".12"/><path d="M413.8 272.6 C416.3 268.9 424.1 256.9 428.8 250.6 C433.5 244.3 438.1 237.9 441.8 234.6 C445.5 231.2 444.3 232.5 450.8 230.5 C457.3 228.5 469.1 226.8 480.8 222.6 C492.5 218.4 514.1 208.4 520.8 205.6" opacity="0.105"/><path d="M415.0 273.5 C417.5 269.8 425.3 257.8 430.0 251.5 C434.7 245.2 439.3 238.8 443.0 235.5 C446.7 232.2 445.5 233.4 452.0 231.4 C458.5 229.4 470.3 227.7 482.0 223.5 C493.7 219.3 515.3 209.3 522.0 206.5" opacity="0.098"/><path d="M416.2 274.4 C418.7 270.7 426.5 258.7 431.2 252.4 C435.9 246.1 440.5 239.8 444.2 236.4 C447.9 233.1 446.7 234.3 453.2 232.3 C459.7 230.3 471.5 228.6 483.2 224.4 C494.9 220.2 516.5 210.2 523.2 207.4" opacity="0.091"/><path d="M417.4 275.3 C419.9 271.6 427.7 259.6 432.4 253.3 C437.1 247.0 441.7 240.7 445.4 237.3 C449.1 234.0 447.9 235.2 454.4 233.2 C460.9 231.2 472.7 229.5 484.4 225.3 C496.1 221.2 517.7 211.1 524.4 208.3" opacity="0.084"/><path d="M418.6 276.2 C421.1 272.5 428.9 260.5 433.6 254.2 C438.3 247.9 442.9 241.5 446.6 238.2 C450.3 234.8 449.1 236.1 455.6 234.1 C462.1 232.1 473.9 230.3 485.6 226.2 C497.3 222.0 518.9 212.0 525.6 209.2" opacity="0.078"/><path d="M419.8 277.1 C422.3 273.4 430.1 261.4 434.8 255.1 C439.5 248.8 444.1 242.4 447.8 239.1 C451.5 235.8 450.3 237.0 456.8 235.0 C463.3 233.0 475.1 231.2 486.8 227.1 C498.5 222.9 520.1 212.9 526.8 210.1" opacity="0.071"/><path d="M421.0 278.0 C423.5 274.3 431.3 262.3 436.0 256.0 C440.7 249.7 445.3 243.3 449.0 240.0 C452.7 236.7 451.5 237.9 458.0 235.9 C464.5 233.9 476.3 232.2 488.0 228.0 C499.7 223.8 521.3 213.8 528.0 211.0" opacity="0.065"/><path d="M422.2 278.9 C424.7 275.2 432.5 263.2 437.2 256.9 C441.9 250.6 446.5 244.2 450.2 240.9 C453.9 237.6 452.7 238.8 459.2 236.8 C465.7 234.8 477.5 233.1 489.2 228.9 C500.9 224.8 522.5 214.7 529.2 211.9" opacity="0.058"/><path d="M423.4 279.8 C425.9 276.1 433.7 264.1 438.4 257.8 C443.1 251.5 447.7 245.2 451.4 241.8 C455.1 238.5 453.9 239.7 460.4 237.7 C466.9 235.7 478.7 234.0 490.4 229.8 C502.1 225.7 523.7 215.6 530.4 212.8" opacity="0.052"/><path d="M424.6 280.7 C427.1 277.0 434.9 265.0 439.6 258.7 C444.3 252.4 448.9 246.0 452.6 242.7 C456.3 239.3 455.1 240.6 461.6 238.6 C468.1 236.6 479.9 234.8 491.6 230.7 C503.3 226.5 524.9 216.5 531.6 213.7" opacity="0.046"/><path d="M425.8 281.6 C428.3 277.9 436.1 265.9 440.8 259.6 C445.5 253.3 450.1 246.9 453.8 243.6 C457.5 240.2 456.3 241.5 462.8 239.5 C469.3 237.5 481.1 235.8 492.8 231.6 C504.5 227.4 526.1 217.4 532.8 214.6" opacity="0.040"/><path d="M427.0 282.5 C429.5 278.8 437.3 266.8 442.0 260.5 C446.7 254.2 451.3 247.8 455.0 244.5 C458.7 241.2 457.5 242.4 464.0 240.4 C470.5 238.4 482.3 236.7 494.0 232.5 C505.7 228.3 527.3 218.3 534.0 215.5" opacity="0.034"/><path d="M428.2 283.4 C430.7 279.7 438.5 267.7 443.2 261.4 C447.9 255.1 452.5 248.8 456.2 245.4 C459.9 242.1 458.7 243.3 465.2 241.3 C471.7 239.3 483.5 237.6 495.2 233.4 C506.9 229.2 528.5 219.2 535.2 216.4" opacity="0.028"/><path d="M429.4 284.3 C431.9 280.6 439.7 268.6 444.4 262.3 C449.1 256.0 453.7 249.7 457.4 246.3 C461.1 243.0 459.9 244.2 466.4 242.2 C472.9 240.2 484.7 238.5 496.4 234.3 C508.1 230.2 529.7 220.1 536.4 217.3" opacity="0.023"/><path d="M430.6 285.2 C433.1 281.5 440.9 269.5 445.6 263.2 C450.3 256.9 454.9 250.5 458.6 247.2 C462.3 243.8 461.1 245.1 467.6 243.1 C474.1 241.1 485.9 239.3 497.6 235.2 C509.3 231.0 530.9 221.0 537.6 218.2" opacity="0.017"/><path d="M431.8 286.1 C434.3 282.4 442.1 270.4 446.8 264.1 C451.5 257.8 456.1 251.4 459.8 248.1 C463.5 244.8 462.3 246.0 468.8 244.0 C475.3 242.0 487.1 240.2 498.8 236.1 C510.5 231.9 532.1 221.9 538.8 219.1" opacity="0.012"/><path d="M433.0 287.0 C435.5 283.3 443.3 271.3 448.0 265.0 C452.7 258.7 457.3 252.3 461.0 249.0 C464.7 245.7 463.5 246.9 470.0 244.9 C476.5 242.9 488.3 241.2 500.0 237.0 C511.7 232.8 533.3 222.8 540.0 220.0" opacity="0.008"/><path d="M434.2 287.9 C436.7 284.2 444.5 272.2 449.2 265.9 C453.9 259.6 458.5 253.2 462.2 249.9 C465.9 246.6 464.7 247.8 471.2 245.8 C477.7 243.8 489.5 242.1 501.2 237.9 C512.9 233.8 534.5 223.7 541.2 220.9" opacity="0.003"/><path d="M411.7 271.0 C414.2 267.4 422.1 255.4 426.7 249.0 C431.4 242.7 436.1 236.4 439.7 233.0 C443.4 229.7 442.2 230.9 448.7 228.9 C455.2 226.9 467.1 225.2 478.7 221.0 C490.4 216.9 512.1 206.9 518.7 204.0" stroke="#ffd060" stroke-width="2.4" opacity=".12"/><path d="M261.3 231.6 C262.4 229.0 265.6 220.6 267.8 215.9 C270.1 211.2 272.5 207.7 274.8 203.6 C277.1 199.5 279.0 195.9 281.8 191.6 C284.6 187.3 286.5 182.3 291.5 177.6 C296.5 172.9 303.3 167.7 311.8 163.3 C320.3 158.9 328.8 154.0 342.4 151.1 C356.0 148.2 375.1 146.7 393.2 146.0 C411.3 145.3 439.2 147.2 450.8 147.0 C462.4 146.8 460.8 145.0 462.8 144.6" opacity="0.105"/><path d="M262.5 232.5 C263.6 229.9 266.8 221.5 269.0 216.8 C271.2 212.1 273.7 208.6 276.0 204.5 C278.3 200.4 280.2 196.8 283.0 192.5 C285.8 188.2 287.7 183.2 292.7 178.5 C297.7 173.8 304.5 168.6 313.0 164.2 C321.5 159.8 330.0 154.9 343.6 152.0 C357.2 149.1 376.3 147.6 394.4 146.9 C412.5 146.2 440.4 148.1 452.0 147.9 C463.6 147.7 462.0 145.9 464.0 145.5" opacity="0.098"/><path d="M263.7 233.4 C264.8 230.8 267.9 222.4 270.2 217.7 C272.4 213.0 274.9 209.5 277.2 205.4 C279.5 201.3 281.4 197.7 284.2 193.4 C287.0 189.1 288.9 184.1 293.9 179.4 C298.9 174.7 305.7 169.5 314.2 165.1 C322.7 160.7 331.2 155.8 344.8 152.9 C358.4 150.0 377.5 148.5 395.6 147.8 C413.7 147.1 441.6 149.0 453.2 148.8 C464.8 148.6 463.2 146.8 465.2 146.4" opacity="0.091"/><path d="M264.9 234.3 C266.0 231.7 269.1 223.3 271.4 218.6 C273.6 213.9 276.1 210.4 278.4 206.3 C280.7 202.2 282.6 198.6 285.4 194.3 C288.2 190.0 290.1 185.0 295.1 180.3 C300.1 175.6 306.9 170.4 315.4 166.0 C323.9 161.6 332.4 156.7 346.0 153.8 C359.6 150.9 378.7 149.4 396.8 148.7 C414.9 148.0 442.8 149.9 454.4 149.7 C466.0 149.5 464.4 147.7 466.4 147.3" opacity="0.084"/><path d="M266.1 235.2 C267.2 232.6 270.4 224.2 272.6 219.5 C274.9 214.8 277.3 211.2 279.6 207.2 C281.9 203.1 283.8 199.5 286.6 195.2 C289.4 190.9 291.3 185.9 296.3 181.2 C301.3 176.5 308.1 171.3 316.6 166.9 C325.1 162.5 333.6 157.6 347.2 154.7 C360.8 151.8 379.9 150.3 398.0 149.6 C416.1 148.9 444.0 150.8 455.6 150.6 C467.2 150.4 465.6 148.6 467.6 148.2" opacity="0.078"/><path d="M267.3 236.1 C268.4 233.5 271.6 225.1 273.8 220.4 C276.1 215.7 278.5 212.2 280.8 208.1 C283.1 204.0 285.0 200.4 287.8 196.1 C290.6 191.8 292.5 186.8 297.5 182.1 C302.5 177.4 309.3 172.2 317.8 167.8 C326.3 163.4 334.8 158.5 348.4 155.6 C362.0 152.7 381.1 151.2 399.2 150.5 C417.3 149.8 445.2 151.7 456.8 151.5 C468.4 151.3 466.8 149.5 468.8 149.1" opacity="0.071"/><path d="M268.5 237.0 C269.6 234.4 272.8 226.0 275.0 221.3 C277.2 216.6 279.7 213.1 282.0 209.0 C284.3 204.9 286.2 201.3 289.0 197.0 C291.8 192.7 293.7 187.7 298.7 183.0 C303.7 178.3 310.5 173.1 319.0 168.7 C327.5 164.3 336.0 159.4 349.6 156.5 C363.2 153.6 382.3 152.1 400.4 151.4 C418.5 150.7 446.4 152.6 458.0 152.4 C469.6 152.2 468.0 150.4 470.0 150.0" opacity="0.065"/><path d="M269.7 237.9 C270.8 235.3 273.9 226.9 276.2 222.2 C278.4 217.5 280.9 214.0 283.2 209.9 C285.5 205.8 287.4 202.2 290.2 197.9 C293.0 193.6 294.9 188.6 299.9 183.9 C304.9 179.2 311.7 174.0 320.2 169.6 C328.7 165.2 337.2 160.3 350.8 157.4 C364.4 154.5 383.5 153.0 401.6 152.3 C419.7 151.6 447.6 153.5 459.2 153.3 C470.8 153.1 469.2 151.3 471.2 150.9" opacity="0.058"/><path d="M270.9 238.8 C272.0 236.2 275.1 227.8 277.4 223.1 C279.6 218.4 282.1 214.9 284.4 210.8 C286.7 206.8 288.6 203.1 291.4 198.8 C294.2 194.5 296.1 189.5 301.1 184.8 C306.1 180.1 312.9 174.9 321.4 170.5 C329.9 166.1 338.4 161.2 352.0 158.3 C365.6 155.4 384.7 153.9 402.8 153.2 C420.9 152.5 448.8 154.4 460.4 154.2 C472.0 154.0 470.4 152.2 472.4 151.8" opacity="0.052"/><path d="M272.1 239.7 C273.2 237.1 276.4 228.7 278.6 224.0 C280.9 219.3 283.3 215.8 285.6 211.7 C287.9 207.6 289.8 204.0 292.6 199.7 C295.4 195.4 297.3 190.4 302.3 185.7 C307.3 181.0 314.1 175.8 322.6 171.4 C331.1 167.0 339.6 162.1 353.2 159.2 C366.8 156.3 385.9 154.8 404.0 154.1 C422.1 153.4 450.0 155.3 461.6 155.1 C473.2 154.9 471.6 153.1 473.6 152.7" opacity="0.046"/><path d="M273.3 240.6 C274.4 238.0 277.6 229.6 279.8 224.9 C282.1 220.2 284.5 216.7 286.8 212.6 C289.1 208.5 291.0 204.9 293.8 200.6 C296.6 196.3 298.5 191.3 303.5 186.6 C308.5 181.9 315.3 176.7 323.8 172.3 C332.3 167.9 340.8 163.0 354.4 160.1 C368.0 157.2 387.1 155.7 405.2 155.0 C423.3 154.3 451.2 156.2 462.8 156.0 C474.4 155.8 472.8 154.0 474.8 153.6" opacity="0.040"/><path d="M274.5 241.5 C275.6 238.9 278.8 230.5 281.0 225.8 C283.2 221.1 285.7 217.6 288.0 213.5 C290.3 209.4 292.2 205.8 295.0 201.5 C297.8 197.2 299.7 192.2 304.7 187.5 C309.7 182.8 316.5 177.6 325.0 173.2 C333.5 168.8 342.0 163.9 355.6 161.0 C369.2 158.1 388.3 156.6 406.4 155.9 C424.5 155.2 452.4 157.1 464.0 156.9 C475.6 156.7 474.0 154.9 476.0 154.5" opacity="0.034"/><path d="M275.7 242.4 C276.8 239.8 279.9 231.4 282.2 226.7 C284.4 222.0 286.9 218.5 289.2 214.4 C291.5 210.3 293.4 206.7 296.2 202.4 C299.0 198.1 300.9 193.1 305.9 188.4 C310.9 183.7 317.7 178.5 326.2 174.1 C334.7 169.7 343.2 164.8 356.8 161.9 C370.4 159.0 389.5 157.5 407.6 156.8 C425.7 156.1 453.6 158.0 465.2 157.8 C476.8 157.6 475.2 155.8 477.2 155.4" opacity="0.028"/><path d="M276.9 243.3 C278.0 240.7 281.1 232.3 283.4 227.6 C285.6 222.9 288.1 219.4 290.4 215.3 C292.7 211.2 294.6 207.6 297.4 203.3 C300.2 199.0 302.1 194.0 307.1 189.3 C312.1 184.6 318.9 179.4 327.4 175.0 C335.9 170.6 344.4 165.7 358.0 162.8 C371.6 159.9 390.7 158.4 408.8 157.7 C426.9 157.0 454.8 158.9 466.4 158.7 C478.0 158.5 476.4 156.7 478.4 156.3" opacity="0.023"/><path d="M278.1 244.2 C279.2 241.6 282.4 233.2 284.6 228.5 C286.9 223.8 289.3 220.2 291.6 216.2 C293.9 212.1 295.8 208.5 298.6 204.2 C301.4 199.9 303.3 194.9 308.3 190.2 C313.3 185.5 320.1 180.3 328.6 175.9 C337.1 171.5 345.6 166.6 359.2 163.7 C372.8 160.8 391.9 159.3 410.0 158.6 C428.1 157.9 456.0 159.8 467.6 159.6 C479.2 159.4 477.6 157.6 479.6 157.2" opacity="0.017"/><path d="M279.3 245.1 C280.4 242.5 283.6 234.1 285.8 229.4 C288.1 224.7 290.5 221.2 292.8 217.1 C295.1 213.0 297.0 209.4 299.8 205.1 C302.6 200.8 304.5 195.8 309.5 191.1 C314.5 186.4 321.3 181.2 329.8 176.8 C338.3 172.4 346.8 167.5 360.4 164.6 C374.0 161.7 393.1 160.2 411.2 159.5 C429.3 158.8 457.2 160.7 468.8 160.5 C480.4 160.3 478.8 158.5 480.8 158.1" opacity="0.012"/><path d="M280.5 246.0 C281.6 243.4 284.8 235.0 287.0 230.3 C289.2 225.6 291.7 222.1 294.0 218.0 C296.3 213.9 298.2 210.3 301.0 206.0 C303.8 201.7 305.7 196.7 310.7 192.0 C315.7 187.3 322.5 182.1 331.0 177.7 C339.5 173.3 348.0 168.4 361.6 165.5 C375.2 162.6 394.3 161.1 412.4 160.4 C430.5 159.7 458.4 161.6 470.0 161.4 C481.6 161.2 480.0 159.4 482.0 159.0" opacity="0.008"/><path d="M281.7 246.9 C282.8 244.3 285.9 235.9 288.2 231.2 C290.4 226.5 292.9 223.0 295.2 218.9 C297.5 214.8 299.4 211.2 302.2 206.9 C305.0 202.6 306.9 197.6 311.9 192.9 C316.9 188.2 323.7 183.0 332.2 178.6 C340.7 174.2 349.2 169.3 362.8 166.4 C376.4 163.5 395.5 162.0 413.6 161.3 C431.7 160.6 459.6 162.5 471.2 162.3 C482.8 162.1 481.2 160.3 483.2 159.9" opacity="0.003"/><path d="M259.2 230.0 C260.3 227.4 263.5 219.0 265.7 214.3 C268.0 209.7 270.4 206.1 272.7 202.0 C275.1 198.0 276.9 194.4 279.7 190.0 C282.5 185.7 284.4 180.8 289.4 176.0 C294.4 171.3 301.2 166.2 309.7 161.7 C318.2 157.3 326.8 152.4 340.3 149.5 C353.9 146.7 373.1 145.1 391.1 144.4 C409.2 143.8 437.1 145.7 448.7 145.4 C460.3 145.2 458.7 143.4 460.7 143.0" stroke="#ffd060" stroke-width="2.4" opacity=".12"/></g><polygon points="241.7,176.6 250.8,168.5 254.5,165.8 267.0,159.3 289.5,147.5 321.0,136.5 320.0,156.3 305.8,164.4 289.5,178.6 281.4,190.8" fill="#ffd848" opacity=".20"/><polygon points="227.5,220.3 267.0,215.3 261.0,230.5 259.0,230.5 246.8,228.5" fill="#d06a18" opacity=".16"/><polygon points="414.2,375.4 432.9,375.4 446.0,356.0 458.0,340.0 466.0,324.5 458.1,331.2 442.9,346.4 424.6,366.0" fill="#b233b6" opacity=".85"/><polygon points="389.7,433.9 432.9,375.4 414.2,375.4 407.5,392.4 394.0,424.6" fill="#8228f0" opacity=".6"/></g>
<g><line x1="227.6" y1="202.7" x2="227.6" y2="238.8" class="eb"/><circle cx="227.4" cy="220.5" r="6.3" fill="#000"/><line x1="254.6" y1="145.0" x2="254.6" y2="187.8" class="eb"/><circle cx="254.5" cy="165.8" r="6.3" fill="#000"/><line x1="327.0" y1="430.7" x2="327.0" y2="456.4" class="eb"/><circle cx="327.2" cy="442.6" r="6.3" fill="#000"/><line x1="332.8" y1="394.0" x2="332.8" y2="430.0" class="eb"/><circle cx="333.9" cy="410.3" r="6.3" fill="#000"/><line x1="482.4" y1="341.6" x2="482.4" y2="391.6" class="eb"/><circle cx="481.5" cy="366.2" r="6.3" fill="#000"/><line x1="520.5" y1="302.6" x2="520.5" y2="349.2" class="eb"/><circle cx="520.0" cy="325.3" r="6.3" fill="#000"/><line x1="809.6" y1="185.4" x2="809.6" y2="220.4" class="eb"/><circle cx="808.4" cy="202.0" r="6.3" fill="#000"/></g>
<g><text x="198.0" y="223.4" class="lb" textLength="16.4" lengthAdjust="spacingAndGlyphs">A</text><text x="270.8" y="177.4" class="lb" textLength="14.8" lengthAdjust="spacingAndGlyphs">B</text><text x="293.8" y="459.4" class="lb" textLength="14.5" lengthAdjust="spacingAndGlyphs">C</text><text x="348.8" y="412.0" class="lb" textLength="15.7" lengthAdjust="spacingAndGlyphs">D</text><text x="454.3" y="371.9" class="lb" textLength="11.8" lengthAdjust="spacingAndGlyphs">E</text><text x="538.4" y="341.2" class="lb" textLength="10.7" lengthAdjust="spacingAndGlyphs">F</text><text x="822.2" y="222.3" class="lb" textLength="16.5" lengthAdjust="spacingAndGlyphs">G</text><text x="64.2" y="206.0" class="se" font-size="25" textLength="45.0" lengthAdjust="spacingAndGlyphs">0.09</text><text x="64.2" y="282.0" class="se" font-size="25" textLength="45.0" lengthAdjust="spacingAndGlyphs">0.07</text><text x="64.2" y="356.0" class="se" font-size="25" textLength="45.0" lengthAdjust="spacingAndGlyphs">0.05</text><text x="64.2" y="430.0" class="se" font-size="25" textLength="45.0" lengthAdjust="spacingAndGlyphs">0.03</text><text x="957.1" y="137.9" class="se" font-size="25" textLength="44.0" lengthAdjust="spacingAndGlyphs">0.11</text><text x="957.1" y="201.8" class="se" font-size="25" textLength="45.0" lengthAdjust="spacingAndGlyphs">0.09</text><text x="957.1" y="265.0" class="se" font-size="25" textLength="45.0" lengthAdjust="spacingAndGlyphs">0.07</text><text x="957.1" y="327.3" class="se" font-size="25" textLength="45.0" lengthAdjust="spacingAndGlyphs">0.05</text><text x="86.0" y="492.2" class="se" font-size="25" textLength="36.6" lengthAdjust="spacingAndGlyphs">134</text><text x="148.0" y="501.8" class="se" font-size="25" textLength="36.6" lengthAdjust="spacingAndGlyphs">136</text><text x="230.5" y="520.0" class="se" font-size="25" textLength="36.6" lengthAdjust="spacingAndGlyphs">138</text><text x="313.4" y="536.3" class="se" font-size="25" textLength="36.6" lengthAdjust="spacingAndGlyphs">140</text><text x="401.2" y="552.8" class="se" font-size="25" textLength="36.6" lengthAdjust="spacingAndGlyphs">142</text><text x="485.0" y="569.7" class="se" font-size="25" textLength="36.6" lengthAdjust="spacingAndGlyphs">144</text><text x="561.0" y="586.2" class="se" font-size="25" textLength="36.6" lengthAdjust="spacingAndGlyphs">146</text><text x="628.3" y="576.2" class="se" font-size="25" textLength="11.7" lengthAdjust="spacingAndGlyphs">6</text><text x="683.6" y="546.4" class="se" font-size="25" textLength="11.5" lengthAdjust="spacingAndGlyphs">8</text><text x="742.6" y="515.5" class="se" font-size="25" textLength="24.0" lengthAdjust="spacingAndGlyphs">10</text><text x="796.6" y="483.9" class="se" font-size="25" textLength="25.0" lengthAdjust="spacingAndGlyphs">12</text><text x="848.6" y="455.6" class="se" font-size="25" textLength="24.2" lengthAdjust="spacingAndGlyphs">14</text><text x="898.5" y="422.8" class="se" font-size="25" textLength="24.9" lengthAdjust="spacingAndGlyphs">16</text><text x="111.2" y="576.6" class="se" font-size="30.3" textLength="137.0" lengthAdjust="spacingAndGlyphs">Point angle</text><text x="255.1" y="576.6" class="sa" font-size="28" textLength="19.0" lengthAdjust="spacingAndGlyphs">ω</text><text x="284.2" y="576.6" class="sa" font-size="28" textLength="23.2" lengthAdjust="spacingAndGlyphs">[°]</text><text x="800.8" y="530.3" class="se" font-size="30.3" textLength="194.0" lengthAdjust="spacingAndGlyphs">Clearance angle</text><text x="1004.6" y="530.3" class="se" font-size="31" textLength="16.0" lengthAdjust="spacingAndGlyphs">α</text><text x="1031.2" y="530.3" class="sa" font-size="28" textLength="24.5" lengthAdjust="spacingAndGlyphs">[°]</text><text transform="translate(26.2,460.4) rotate(-90)" class="se" font-size="30.5" textLength="318.4" lengthAdjust="spacingAndGlyphs">Deviation of the diameter</text></g>
<defs><linearGradient id="cb" x1="0" y1="0" x2="0" y2="1">
<stop offset="0" stop-color="#fff228"/><stop offset="0.06" stop-color="#fbdc2c"/><stop offset="0.13" stop-color="#f4b22c"/><stop offset="0.25" stop-color="#ea8a2c"/>
<stop offset="0.37" stop-color="#dc6a30"/><stop offset="0.47" stop-color="#cc5232"/><stop offset="0.52" stop-color="#c64a44"/><stop offset="0.56" stop-color="#c2459a"/>
<stop offset="0.63" stop-color="#b040d8"/><stop offset="0.70" stop-color="#9c3af8"/><stop offset="0.78" stop-color="#8a36ee"/><stop offset="0.86" stop-color="#6c30c0"/>
<stop offset="0.93" stop-color="#4a2a72"/><stop offset="1" stop-color="#2e2630"/></linearGradient></defs>
<rect x="899.5" y="102" width="39" height="226.2" fill="url(#cb)" stroke="#444" stroke-width="1"/>
<g><line x1="899.5" y1="130.7" x2="905.5" y2="130.7" class="tk"/><line x1="932.5" y1="130.7" x2="938.5" y2="130.7" class="tk"/><line x1="899.5" y1="157.8" x2="905.5" y2="157.8" class="tk"/><line x1="932.5" y1="157.8" x2="938.5" y2="157.8" class="tk"/><line x1="899.5" y1="186.6" x2="905.5" y2="186.6" class="tk"/><line x1="932.5" y1="186.6" x2="938.5" y2="186.6" class="tk"/><line x1="899.5" y1="215.5" x2="905.5" y2="215.5" class="tk"/><line x1="932.5" y1="215.5" x2="938.5" y2="215.5" class="tk"/><line x1="899.5" y1="243.4" x2="905.5" y2="243.4" class="tk"/><line x1="932.5" y1="243.4" x2="938.5" y2="243.4" class="tk"/><line x1="899.5" y1="271.4" x2="905.5" y2="271.4" class="tk"/><line x1="932.5" y1="271.4" x2="938.5" y2="271.4" class="tk"/><line x1="899.5" y1="300.3" x2="905.5" y2="300.3" class="tk"/><line x1="932.5" y1="300.3" x2="938.5" y2="300.3" class="tk"/></g>
</svg></body></html>
